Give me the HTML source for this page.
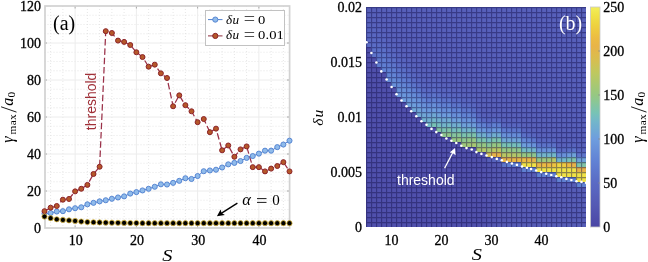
<!DOCTYPE html><html><head><meta charset="utf-8"><style>html,body{margin:0;padding:0;background:#fff;}svg{display:block;will-change:transform;} .serif{font-family:"Liberation Serif",serif;} .sans{font-family:"Liberation Sans",sans-serif;} .tk{font-size:14px;stroke:#000;stroke-width:0.3px;}</style></head><body><svg width="648" height="262" viewBox="0 0 648 262" xmlns="http://www.w3.org/2000/svg" class="serif"><line x1="50.62" y1="6.0" x2="50.62" y2="228.0" stroke="#e0e0e0" stroke-width="0.8" stroke-dasharray="1 2"/><line x1="62.88" y1="6.0" x2="62.88" y2="228.0" stroke="#e0e0e0" stroke-width="0.8" stroke-dasharray="1 2"/><line x1="87.38" y1="6.0" x2="87.38" y2="228.0" stroke="#e0e0e0" stroke-width="0.8" stroke-dasharray="1 2"/><line x1="99.62" y1="6.0" x2="99.62" y2="228.0" stroke="#e0e0e0" stroke-width="0.8" stroke-dasharray="1 2"/><line x1="111.88" y1="6.0" x2="111.88" y2="228.0" stroke="#e0e0e0" stroke-width="0.8" stroke-dasharray="1 2"/><line x1="124.12" y1="6.0" x2="124.12" y2="228.0" stroke="#e0e0e0" stroke-width="0.8" stroke-dasharray="1 2"/><line x1="148.62" y1="6.0" x2="148.62" y2="228.0" stroke="#e0e0e0" stroke-width="0.8" stroke-dasharray="1 2"/><line x1="160.88" y1="6.0" x2="160.88" y2="228.0" stroke="#e0e0e0" stroke-width="0.8" stroke-dasharray="1 2"/><line x1="173.12" y1="6.0" x2="173.12" y2="228.0" stroke="#e0e0e0" stroke-width="0.8" stroke-dasharray="1 2"/><line x1="185.38" y1="6.0" x2="185.38" y2="228.0" stroke="#e0e0e0" stroke-width="0.8" stroke-dasharray="1 2"/><line x1="209.88" y1="6.0" x2="209.88" y2="228.0" stroke="#e0e0e0" stroke-width="0.8" stroke-dasharray="1 2"/><line x1="222.12" y1="6.0" x2="222.12" y2="228.0" stroke="#e0e0e0" stroke-width="0.8" stroke-dasharray="1 2"/><line x1="234.38" y1="6.0" x2="234.38" y2="228.0" stroke="#e0e0e0" stroke-width="0.8" stroke-dasharray="1 2"/><line x1="246.62" y1="6.0" x2="246.62" y2="228.0" stroke="#e0e0e0" stroke-width="0.8" stroke-dasharray="1 2"/><line x1="271.12" y1="6.0" x2="271.12" y2="228.0" stroke="#e0e0e0" stroke-width="0.8" stroke-dasharray="1 2"/><line x1="283.38" y1="6.0" x2="283.38" y2="228.0" stroke="#e0e0e0" stroke-width="0.8" stroke-dasharray="1 2"/><line x1="44.5" y1="218.75" x2="289.5" y2="218.75" stroke="#e0e0e0" stroke-width="0.8" stroke-dasharray="1 2"/><line x1="44.5" y1="209.50" x2="289.5" y2="209.50" stroke="#e0e0e0" stroke-width="0.8" stroke-dasharray="1 2"/><line x1="44.5" y1="200.25" x2="289.5" y2="200.25" stroke="#e0e0e0" stroke-width="0.8" stroke-dasharray="1 2"/><line x1="44.5" y1="181.75" x2="289.5" y2="181.75" stroke="#e0e0e0" stroke-width="0.8" stroke-dasharray="1 2"/><line x1="44.5" y1="172.50" x2="289.5" y2="172.50" stroke="#e0e0e0" stroke-width="0.8" stroke-dasharray="1 2"/><line x1="44.5" y1="163.25" x2="289.5" y2="163.25" stroke="#e0e0e0" stroke-width="0.8" stroke-dasharray="1 2"/><line x1="44.5" y1="144.75" x2="289.5" y2="144.75" stroke="#e0e0e0" stroke-width="0.8" stroke-dasharray="1 2"/><line x1="44.5" y1="135.50" x2="289.5" y2="135.50" stroke="#e0e0e0" stroke-width="0.8" stroke-dasharray="1 2"/><line x1="44.5" y1="126.25" x2="289.5" y2="126.25" stroke="#e0e0e0" stroke-width="0.8" stroke-dasharray="1 2"/><line x1="44.5" y1="107.75" x2="289.5" y2="107.75" stroke="#e0e0e0" stroke-width="0.8" stroke-dasharray="1 2"/><line x1="44.5" y1="98.50" x2="289.5" y2="98.50" stroke="#e0e0e0" stroke-width="0.8" stroke-dasharray="1 2"/><line x1="44.5" y1="89.25" x2="289.5" y2="89.25" stroke="#e0e0e0" stroke-width="0.8" stroke-dasharray="1 2"/><line x1="44.5" y1="70.75" x2="289.5" y2="70.75" stroke="#e0e0e0" stroke-width="0.8" stroke-dasharray="1 2"/><line x1="44.5" y1="61.50" x2="289.5" y2="61.50" stroke="#e0e0e0" stroke-width="0.8" stroke-dasharray="1 2"/><line x1="44.5" y1="52.25" x2="289.5" y2="52.25" stroke="#e0e0e0" stroke-width="0.8" stroke-dasharray="1 2"/><line x1="44.5" y1="33.75" x2="289.5" y2="33.75" stroke="#e0e0e0" stroke-width="0.8" stroke-dasharray="1 2"/><line x1="44.5" y1="24.50" x2="289.5" y2="24.50" stroke="#e0e0e0" stroke-width="0.8" stroke-dasharray="1 2"/><line x1="44.5" y1="15.25" x2="289.5" y2="15.25" stroke="#e0e0e0" stroke-width="0.8" stroke-dasharray="1 2"/><line x1="75.12" y1="6.0" x2="75.12" y2="228.0" stroke="#ececec" stroke-width="1"/><line x1="136.38" y1="6.0" x2="136.38" y2="228.0" stroke="#ececec" stroke-width="1"/><line x1="197.62" y1="6.0" x2="197.62" y2="228.0" stroke="#ececec" stroke-width="1"/><line x1="258.88" y1="6.0" x2="258.88" y2="228.0" stroke="#ececec" stroke-width="1"/><line x1="44.5" y1="191.00" x2="289.5" y2="191.00" stroke="#ececec" stroke-width="1"/><line x1="44.5" y1="154.00" x2="289.5" y2="154.00" stroke="#ececec" stroke-width="1"/><line x1="44.5" y1="117.00" x2="289.5" y2="117.00" stroke="#ececec" stroke-width="1"/><line x1="44.5" y1="80.00" x2="289.5" y2="80.00" stroke="#ececec" stroke-width="1"/><line x1="44.5" y1="43.00" x2="289.5" y2="43.00" stroke="#ececec" stroke-width="1"/><line x1="75.12" y1="228.0" x2="75.12" y2="225.5" stroke="#a8a8a8" stroke-width="1"/><line x1="75.12" y1="6.0" x2="75.12" y2="8.5" stroke="#a8a8a8" stroke-width="1"/><line x1="136.38" y1="228.0" x2="136.38" y2="225.5" stroke="#a8a8a8" stroke-width="1"/><line x1="136.38" y1="6.0" x2="136.38" y2="8.5" stroke="#a8a8a8" stroke-width="1"/><line x1="197.62" y1="228.0" x2="197.62" y2="225.5" stroke="#a8a8a8" stroke-width="1"/><line x1="197.62" y1="6.0" x2="197.62" y2="8.5" stroke="#a8a8a8" stroke-width="1"/><line x1="258.88" y1="228.0" x2="258.88" y2="225.5" stroke="#a8a8a8" stroke-width="1"/><line x1="258.88" y1="6.0" x2="258.88" y2="8.5" stroke="#a8a8a8" stroke-width="1"/><line x1="44.5" y1="191.00" x2="47.0" y2="191.00" stroke="#a8a8a8" stroke-width="1"/><line x1="289.5" y1="191.00" x2="287.0" y2="191.00" stroke="#a8a8a8" stroke-width="1"/><line x1="44.5" y1="154.00" x2="47.0" y2="154.00" stroke="#a8a8a8" stroke-width="1"/><line x1="289.5" y1="154.00" x2="287.0" y2="154.00" stroke="#a8a8a8" stroke-width="1"/><line x1="44.5" y1="117.00" x2="47.0" y2="117.00" stroke="#a8a8a8" stroke-width="1"/><line x1="289.5" y1="117.00" x2="287.0" y2="117.00" stroke="#a8a8a8" stroke-width="1"/><line x1="44.5" y1="80.00" x2="47.0" y2="80.00" stroke="#a8a8a8" stroke-width="1"/><line x1="289.5" y1="80.00" x2="287.0" y2="80.00" stroke="#a8a8a8" stroke-width="1"/><line x1="44.5" y1="43.00" x2="47.0" y2="43.00" stroke="#a8a8a8" stroke-width="1"/><line x1="289.5" y1="43.00" x2="287.0" y2="43.00" stroke="#a8a8a8" stroke-width="1"/><rect x="45" y="6" width="244.6" height="222" fill="none" stroke="#d2d2d2" stroke-width="1.7"/><text x="40.9" y="232.85" class="tk" text-anchor="end">0</text><text x="40.9" y="195.85" class="tk" text-anchor="end">20</text><text x="40.9" y="158.85" class="tk" text-anchor="end">40</text><text x="40.9" y="121.85" class="tk" text-anchor="end">60</text><text x="40.9" y="84.85" class="tk" text-anchor="end">80</text><text x="40.9" y="47.85" class="tk" text-anchor="end">100</text><text x="40.9" y="10.85" class="tk" text-anchor="end">120</text><text x="75.72" y="244.9" class="tk" text-anchor="middle">10</text><text x="136.97" y="244.9" class="tk" text-anchor="middle">20</text><text x="198.22" y="244.9" class="tk" text-anchor="middle">30</text><text x="259.48" y="244.9" class="tk" text-anchor="middle">40</text><text transform="translate(167.4,260.8) scale(1.25,1)" font-size="16.3" font-style="italic" text-anchor="middle">S</text><polyline points="44.50,213.57 50.62,213.02 56.75,211.53 62.88,211.16 69.00,209.31 75.12,208.21 81.25,207.28 87.38,204.32 93.50,202.84 99.62,201.36 105.75,200.25 111.88,198.77 118.00,197.47 124.12,196.37 130.25,193.59 136.38,192.11 142.50,190.44 148.62,188.78 154.75,186.75 160.88,184.34 167.00,184.53 173.12,182.86 179.25,180.82 185.38,178.24 191.50,178.97 197.62,176.01 203.75,171.21 209.88,170.47 216.00,169.72 222.12,167.50 228.25,164.36 234.38,162.88 240.50,161.03 246.62,157.88 252.75,156.04 258.88,153.63 265.00,150.67 271.12,150.67 277.25,147.15 283.38,144.56 289.50,140.68" fill="none" stroke="#4f7fcf" stroke-width="1"/><polyline points="44.50,211.16 50.62,207.65 56.75,205.99 62.88,199.69 69.00,198.96 75.12,191.37 81.25,188.78 87.38,184.89 93.50,173.98 99.62,166.76 105.75,31.16 111.88,33.01 118.00,40.59 124.12,41.89 130.25,45.03 136.38,52.25 142.50,57.06 148.62,66.68 154.75,64.65 160.88,73.34 167.00,77.97 173.12,106.27 179.25,95.35 185.38,105.16 191.50,111.27 197.62,122.18 203.75,119.04 209.88,132.17 216.00,128.65 222.12,150.30 228.25,145.49 234.38,156.78 240.50,149.38 246.62,146.41 252.75,167.13 258.88,167.13 265.00,171.39 271.12,168.62 277.25,166.03 283.38,162.14 289.50,171.39" fill="none" stroke="#9a3048" stroke-width="1.25" stroke-dasharray="6.5 2.8"/><circle cx="44.50" cy="213.57" r="2.55" fill="#90bbea" stroke="#4f7fcf" stroke-width="0.9"/><circle cx="50.62" cy="213.02" r="2.55" fill="#90bbea" stroke="#4f7fcf" stroke-width="0.9"/><circle cx="56.75" cy="211.53" r="2.55" fill="#90bbea" stroke="#4f7fcf" stroke-width="0.9"/><circle cx="62.88" cy="211.16" r="2.55" fill="#90bbea" stroke="#4f7fcf" stroke-width="0.9"/><circle cx="69.00" cy="209.31" r="2.55" fill="#90bbea" stroke="#4f7fcf" stroke-width="0.9"/><circle cx="75.12" cy="208.21" r="2.55" fill="#90bbea" stroke="#4f7fcf" stroke-width="0.9"/><circle cx="81.25" cy="207.28" r="2.55" fill="#90bbea" stroke="#4f7fcf" stroke-width="0.9"/><circle cx="87.38" cy="204.32" r="2.55" fill="#90bbea" stroke="#4f7fcf" stroke-width="0.9"/><circle cx="93.50" cy="202.84" r="2.55" fill="#90bbea" stroke="#4f7fcf" stroke-width="0.9"/><circle cx="99.62" cy="201.36" r="2.55" fill="#90bbea" stroke="#4f7fcf" stroke-width="0.9"/><circle cx="105.75" cy="200.25" r="2.55" fill="#90bbea" stroke="#4f7fcf" stroke-width="0.9"/><circle cx="111.88" cy="198.77" r="2.55" fill="#90bbea" stroke="#4f7fcf" stroke-width="0.9"/><circle cx="118.00" cy="197.47" r="2.55" fill="#90bbea" stroke="#4f7fcf" stroke-width="0.9"/><circle cx="124.12" cy="196.37" r="2.55" fill="#90bbea" stroke="#4f7fcf" stroke-width="0.9"/><circle cx="130.25" cy="193.59" r="2.55" fill="#90bbea" stroke="#4f7fcf" stroke-width="0.9"/><circle cx="136.38" cy="192.11" r="2.55" fill="#90bbea" stroke="#4f7fcf" stroke-width="0.9"/><circle cx="142.50" cy="190.44" r="2.55" fill="#90bbea" stroke="#4f7fcf" stroke-width="0.9"/><circle cx="148.62" cy="188.78" r="2.55" fill="#90bbea" stroke="#4f7fcf" stroke-width="0.9"/><circle cx="154.75" cy="186.75" r="2.55" fill="#90bbea" stroke="#4f7fcf" stroke-width="0.9"/><circle cx="160.88" cy="184.34" r="2.55" fill="#90bbea" stroke="#4f7fcf" stroke-width="0.9"/><circle cx="167.00" cy="184.53" r="2.55" fill="#90bbea" stroke="#4f7fcf" stroke-width="0.9"/><circle cx="173.12" cy="182.86" r="2.55" fill="#90bbea" stroke="#4f7fcf" stroke-width="0.9"/><circle cx="179.25" cy="180.82" r="2.55" fill="#90bbea" stroke="#4f7fcf" stroke-width="0.9"/><circle cx="185.38" cy="178.24" r="2.55" fill="#90bbea" stroke="#4f7fcf" stroke-width="0.9"/><circle cx="191.50" cy="178.97" r="2.55" fill="#90bbea" stroke="#4f7fcf" stroke-width="0.9"/><circle cx="197.62" cy="176.01" r="2.55" fill="#90bbea" stroke="#4f7fcf" stroke-width="0.9"/><circle cx="203.75" cy="171.21" r="2.55" fill="#90bbea" stroke="#4f7fcf" stroke-width="0.9"/><circle cx="209.88" cy="170.47" r="2.55" fill="#90bbea" stroke="#4f7fcf" stroke-width="0.9"/><circle cx="216.00" cy="169.72" r="2.55" fill="#90bbea" stroke="#4f7fcf" stroke-width="0.9"/><circle cx="222.12" cy="167.50" r="2.55" fill="#90bbea" stroke="#4f7fcf" stroke-width="0.9"/><circle cx="228.25" cy="164.36" r="2.55" fill="#90bbea" stroke="#4f7fcf" stroke-width="0.9"/><circle cx="234.38" cy="162.88" r="2.55" fill="#90bbea" stroke="#4f7fcf" stroke-width="0.9"/><circle cx="240.50" cy="161.03" r="2.55" fill="#90bbea" stroke="#4f7fcf" stroke-width="0.9"/><circle cx="246.62" cy="157.88" r="2.55" fill="#90bbea" stroke="#4f7fcf" stroke-width="0.9"/><circle cx="252.75" cy="156.04" r="2.55" fill="#90bbea" stroke="#4f7fcf" stroke-width="0.9"/><circle cx="258.88" cy="153.63" r="2.55" fill="#90bbea" stroke="#4f7fcf" stroke-width="0.9"/><circle cx="265.00" cy="150.67" r="2.55" fill="#90bbea" stroke="#4f7fcf" stroke-width="0.9"/><circle cx="271.12" cy="150.67" r="2.55" fill="#90bbea" stroke="#4f7fcf" stroke-width="0.9"/><circle cx="277.25" cy="147.15" r="2.55" fill="#90bbea" stroke="#4f7fcf" stroke-width="0.9"/><circle cx="283.38" cy="144.56" r="2.55" fill="#90bbea" stroke="#4f7fcf" stroke-width="0.9"/><circle cx="289.50" cy="140.68" r="2.55" fill="#90bbea" stroke="#4f7fcf" stroke-width="0.9"/><circle cx="44.50" cy="211.16" r="2.5" fill="#b5582a" stroke="#8b2228" stroke-width="1"/><circle cx="50.62" cy="207.65" r="2.5" fill="#b5582a" stroke="#8b2228" stroke-width="1"/><circle cx="56.75" cy="205.99" r="2.5" fill="#b5582a" stroke="#8b2228" stroke-width="1"/><circle cx="62.88" cy="199.69" r="2.5" fill="#b5582a" stroke="#8b2228" stroke-width="1"/><circle cx="69.00" cy="198.96" r="2.5" fill="#b5582a" stroke="#8b2228" stroke-width="1"/><circle cx="75.12" cy="191.37" r="2.5" fill="#b5582a" stroke="#8b2228" stroke-width="1"/><circle cx="81.25" cy="188.78" r="2.5" fill="#b5582a" stroke="#8b2228" stroke-width="1"/><circle cx="87.38" cy="184.89" r="2.5" fill="#b5582a" stroke="#8b2228" stroke-width="1"/><circle cx="93.50" cy="173.98" r="2.5" fill="#b5582a" stroke="#8b2228" stroke-width="1"/><circle cx="99.62" cy="166.76" r="2.5" fill="#b5582a" stroke="#8b2228" stroke-width="1"/><circle cx="105.75" cy="31.16" r="2.5" fill="#b5582a" stroke="#8b2228" stroke-width="1"/><circle cx="111.88" cy="33.01" r="2.5" fill="#b5582a" stroke="#8b2228" stroke-width="1"/><circle cx="118.00" cy="40.59" r="2.5" fill="#b5582a" stroke="#8b2228" stroke-width="1"/><circle cx="124.12" cy="41.89" r="2.5" fill="#b5582a" stroke="#8b2228" stroke-width="1"/><circle cx="130.25" cy="45.03" r="2.5" fill="#b5582a" stroke="#8b2228" stroke-width="1"/><circle cx="136.38" cy="52.25" r="2.5" fill="#b5582a" stroke="#8b2228" stroke-width="1"/><circle cx="142.50" cy="57.06" r="2.5" fill="#b5582a" stroke="#8b2228" stroke-width="1"/><circle cx="148.62" cy="66.68" r="2.5" fill="#b5582a" stroke="#8b2228" stroke-width="1"/><circle cx="154.75" cy="64.65" r="2.5" fill="#b5582a" stroke="#8b2228" stroke-width="1"/><circle cx="160.88" cy="73.34" r="2.5" fill="#b5582a" stroke="#8b2228" stroke-width="1"/><circle cx="167.00" cy="77.97" r="2.5" fill="#b5582a" stroke="#8b2228" stroke-width="1"/><circle cx="173.12" cy="106.27" r="2.5" fill="#b5582a" stroke="#8b2228" stroke-width="1"/><circle cx="179.25" cy="95.35" r="2.5" fill="#b5582a" stroke="#8b2228" stroke-width="1"/><circle cx="185.38" cy="105.16" r="2.5" fill="#b5582a" stroke="#8b2228" stroke-width="1"/><circle cx="191.50" cy="111.27" r="2.5" fill="#b5582a" stroke="#8b2228" stroke-width="1"/><circle cx="197.62" cy="122.18" r="2.5" fill="#b5582a" stroke="#8b2228" stroke-width="1"/><circle cx="203.75" cy="119.04" r="2.5" fill="#b5582a" stroke="#8b2228" stroke-width="1"/><circle cx="209.88" cy="132.17" r="2.5" fill="#b5582a" stroke="#8b2228" stroke-width="1"/><circle cx="216.00" cy="128.65" r="2.5" fill="#b5582a" stroke="#8b2228" stroke-width="1"/><circle cx="222.12" cy="150.30" r="2.5" fill="#b5582a" stroke="#8b2228" stroke-width="1"/><circle cx="228.25" cy="145.49" r="2.5" fill="#b5582a" stroke="#8b2228" stroke-width="1"/><circle cx="234.38" cy="156.78" r="2.5" fill="#b5582a" stroke="#8b2228" stroke-width="1"/><circle cx="240.50" cy="149.38" r="2.5" fill="#b5582a" stroke="#8b2228" stroke-width="1"/><circle cx="246.62" cy="146.41" r="2.5" fill="#b5582a" stroke="#8b2228" stroke-width="1"/><circle cx="252.75" cy="167.13" r="2.5" fill="#b5582a" stroke="#8b2228" stroke-width="1"/><circle cx="258.88" cy="167.13" r="2.5" fill="#b5582a" stroke="#8b2228" stroke-width="1"/><circle cx="265.00" cy="171.39" r="2.5" fill="#b5582a" stroke="#8b2228" stroke-width="1"/><circle cx="271.12" cy="168.62" r="2.5" fill="#b5582a" stroke="#8b2228" stroke-width="1"/><circle cx="277.25" cy="166.03" r="2.5" fill="#b5582a" stroke="#8b2228" stroke-width="1"/><circle cx="283.38" cy="162.14" r="2.5" fill="#b5582a" stroke="#8b2228" stroke-width="1"/><circle cx="289.50" cy="171.39" r="2.5" fill="#b5582a" stroke="#8b2228" stroke-width="1"/><circle cx="44.50" cy="216.53" r="2.6" fill="#000" stroke="#e6c040" stroke-width="0.75"/><circle cx="50.62" cy="218.19" r="2.6" fill="#000" stroke="#e6c040" stroke-width="0.75"/><circle cx="56.75" cy="219.31" r="2.6" fill="#000" stroke="#e6c040" stroke-width="0.75"/><circle cx="62.88" cy="219.95" r="2.6" fill="#000" stroke="#e6c040" stroke-width="0.75"/><circle cx="69.00" cy="220.41" r="2.6" fill="#000" stroke="#e6c040" stroke-width="0.75"/><circle cx="75.12" cy="220.97" r="2.6" fill="#000" stroke="#e6c040" stroke-width="0.75"/><circle cx="81.25" cy="221.53" r="2.6" fill="#000" stroke="#e6c040" stroke-width="0.75"/><circle cx="87.38" cy="222.08" r="2.6" fill="#000" stroke="#e6c040" stroke-width="0.75"/><circle cx="93.50" cy="222.26" r="2.6" fill="#000" stroke="#e6c040" stroke-width="0.75"/><circle cx="99.62" cy="222.45" r="2.6" fill="#000" stroke="#e6c040" stroke-width="0.75"/><circle cx="105.75" cy="222.63" r="2.6" fill="#000" stroke="#e6c040" stroke-width="0.75"/><circle cx="111.88" cy="222.73" r="2.6" fill="#000" stroke="#e6c040" stroke-width="0.75"/><circle cx="118.00" cy="222.82" r="2.6" fill="#000" stroke="#e6c040" stroke-width="0.75"/><circle cx="124.12" cy="222.91" r="2.6" fill="#000" stroke="#e6c040" stroke-width="0.75"/><circle cx="130.25" cy="223.00" r="2.6" fill="#000" stroke="#e6c040" stroke-width="0.75"/><circle cx="136.38" cy="223.00" r="2.6" fill="#000" stroke="#e6c040" stroke-width="0.75"/><circle cx="142.50" cy="223.19" r="2.6" fill="#000" stroke="#e6c040" stroke-width="0.75"/><circle cx="148.62" cy="223.19" r="2.6" fill="#000" stroke="#e6c040" stroke-width="0.75"/><circle cx="154.75" cy="223.19" r="2.6" fill="#000" stroke="#e6c040" stroke-width="0.75"/><circle cx="160.88" cy="223.19" r="2.6" fill="#000" stroke="#e6c040" stroke-width="0.75"/><circle cx="167.00" cy="223.19" r="2.6" fill="#000" stroke="#e6c040" stroke-width="0.75"/><circle cx="173.12" cy="223.19" r="2.6" fill="#000" stroke="#e6c040" stroke-width="0.75"/><circle cx="179.25" cy="223.19" r="2.6" fill="#000" stroke="#e6c040" stroke-width="0.75"/><circle cx="185.38" cy="223.19" r="2.6" fill="#000" stroke="#e6c040" stroke-width="0.75"/><circle cx="191.50" cy="223.19" r="2.6" fill="#000" stroke="#e6c040" stroke-width="0.75"/><circle cx="197.62" cy="223.19" r="2.6" fill="#000" stroke="#e6c040" stroke-width="0.75"/><circle cx="203.75" cy="223.19" r="2.6" fill="#000" stroke="#e6c040" stroke-width="0.75"/><circle cx="209.88" cy="223.19" r="2.6" fill="#000" stroke="#e6c040" stroke-width="0.75"/><circle cx="216.00" cy="223.19" r="2.6" fill="#000" stroke="#e6c040" stroke-width="0.75"/><circle cx="222.12" cy="223.19" r="2.6" fill="#000" stroke="#e6c040" stroke-width="0.75"/><circle cx="228.25" cy="223.19" r="2.6" fill="#000" stroke="#e6c040" stroke-width="0.75"/><circle cx="234.38" cy="223.19" r="2.6" fill="#000" stroke="#e6c040" stroke-width="0.75"/><circle cx="240.50" cy="223.19" r="2.6" fill="#000" stroke="#e6c040" stroke-width="0.75"/><circle cx="246.62" cy="223.19" r="2.6" fill="#000" stroke="#e6c040" stroke-width="0.75"/><circle cx="252.75" cy="223.19" r="2.6" fill="#000" stroke="#e6c040" stroke-width="0.75"/><circle cx="258.88" cy="223.19" r="2.6" fill="#000" stroke="#e6c040" stroke-width="0.75"/><circle cx="265.00" cy="223.19" r="2.6" fill="#000" stroke="#e6c040" stroke-width="0.75"/><circle cx="271.12" cy="223.19" r="2.6" fill="#000" stroke="#e6c040" stroke-width="0.75"/><circle cx="277.25" cy="223.19" r="2.6" fill="#000" stroke="#e6c040" stroke-width="0.75"/><circle cx="283.38" cy="223.19" r="2.6" fill="#000" stroke="#e6c040" stroke-width="0.75"/><circle cx="289.50" cy="223.19" r="2.6" fill="#000" stroke="#e6c040" stroke-width="0.75"/><text transform="translate(95.8,130.2) rotate(-90)" class="sans" font-size="14" fill="#a03038">threshold</text><text x="53" y="30.4" font-size="20">(a)</text><rect x="205.5" y="10.5" width="79" height="35" fill="#fff" stroke="#c2c2c2" stroke-width="1"/><line x1="208" y1="19.6" x2="222.5" y2="19.6" stroke="#4f7fcf" stroke-width="1"/><circle cx="215.3" cy="19.6" r="2.6" fill="#90bbea" stroke="#4f7fcf" stroke-width="0.9"/><line x1="208" y1="35.9" x2="222.5" y2="35.9" stroke="#8e2a3c" stroke-width="1"/><circle cx="215.3" cy="35.9" r="2.6" fill="#b5582a" stroke="#8b2228" stroke-width="1"/><text x="225.9" y="23.5" font-size="13.2" font-style="italic" letter-spacing="0.6">δu</text><line x1="244.7" y1="16.5" x2="254.1" y2="16.5" stroke="#222" stroke-width="0.8"/><line x1="244.7" y1="20.5" x2="254.1" y2="20.5" stroke="#222" stroke-width="0.8"/><text x="225.9" y="39.2" font-size="13.2" font-style="italic" letter-spacing="0.6">δu</text><line x1="244.7" y1="32.5" x2="254.1" y2="32.5" stroke="#222" stroke-width="0.8"/><line x1="244.7" y1="36.5" x2="254.1" y2="36.5" stroke="#222" stroke-width="0.8"/><text transform="translate(258.0,23.5) scale(1.17,1)" font-size="12.5">0</text><text transform="translate(258.0,39.2) scale(1.17,1)" font-size="12.5" letter-spacing="0.1">0.01</text><line x1="237.4" y1="203.1" x2="220.8" y2="213.6" stroke="#000" stroke-width="1.4"/><path d="M216.9,216.2 L220.6,209.6 L221.6,212.9 L224.9,215.1 Z" fill="#000"/><text x="242.3" y="204.6" font-size="16.5" font-style="italic">α</text><line x1="257" y1="198.6" x2="266.5" y2="198.6" stroke="#000" stroke-width="0.9"/><line x1="257" y1="202.4" x2="266.5" y2="202.4" stroke="#000" stroke-width="0.9"/><text x="272.3" y="204.7" font-size="15">0</text><g transform="translate(13.4,143) rotate(-90)"><text x="0.3" y="0" font-size="16" font-style="italic">γ</text><text x="8.6" y="2.7" font-size="11.3" letter-spacing="0.25">max</text><line x1="30.9" y1="3.1" x2="36.2" y2="-12.3" stroke="#000" stroke-width="0.9"/><text x="37.2" y="0" font-size="16" font-style="italic">a</text><text x="45.6" y="1.6" font-size="11.3">0</text></g><g shape-rendering="crispEdges"><rect x="366.00" y="7.00" width="5.00" height="5.00" fill="#5760ba"/><rect x="371.00" y="7.00" width="5.00" height="5.00" fill="#5760ba"/><rect x="376.00" y="7.00" width="5.00" height="5.00" fill="#5760ba"/><rect x="381.00" y="7.00" width="5.00" height="5.00" fill="#5760ba"/><rect x="386.00" y="7.00" width="5.00" height="5.00" fill="#5760ba"/><rect x="391.00" y="7.00" width="5.00" height="5.00" fill="#5760ba"/><rect x="396.00" y="7.00" width="5.00" height="5.00" fill="#5760ba"/><rect x="401.00" y="7.00" width="5.00" height="5.00" fill="#5760ba"/><rect x="406.00" y="7.00" width="5.00" height="5.00" fill="#5760ba"/><rect x="411.00" y="7.00" width="5.00" height="5.00" fill="#5760ba"/><rect x="416.00" y="7.00" width="5.00" height="5.00" fill="#5760ba"/><rect x="421.00" y="7.00" width="5.00" height="5.00" fill="#5760ba"/><rect x="426.00" y="7.00" width="5.00" height="5.00" fill="#5760ba"/><rect x="431.00" y="7.00" width="5.00" height="5.00" fill="#5760ba"/><rect x="436.00" y="7.00" width="5.00" height="5.00" fill="#5760ba"/><rect x="441.00" y="7.00" width="5.00" height="5.00" fill="#5760ba"/><rect x="446.00" y="7.00" width="5.00" height="5.00" fill="#5760ba"/><rect x="451.00" y="7.00" width="5.00" height="5.00" fill="#5760ba"/><rect x="456.00" y="7.00" width="5.00" height="5.00" fill="#5760ba"/><rect x="461.00" y="7.00" width="5.00" height="5.00" fill="#5760ba"/><rect x="466.00" y="7.00" width="5.00" height="5.00" fill="#5760ba"/><rect x="471.00" y="7.00" width="5.00" height="5.00" fill="#5760ba"/><rect x="476.00" y="7.00" width="5.00" height="5.00" fill="#5760ba"/><rect x="481.00" y="7.00" width="5.00" height="5.00" fill="#5760ba"/><rect x="486.00" y="7.00" width="5.00" height="5.00" fill="#5760ba"/><rect x="491.00" y="7.00" width="5.00" height="5.00" fill="#5760ba"/><rect x="496.00" y="7.00" width="5.00" height="5.00" fill="#5760ba"/><rect x="501.00" y="7.00" width="5.00" height="5.00" fill="#5760ba"/><rect x="506.00" y="7.00" width="5.00" height="5.00" fill="#5760ba"/><rect x="511.00" y="7.00" width="5.00" height="5.00" fill="#5760ba"/><rect x="516.00" y="7.00" width="5.00" height="5.00" fill="#5760ba"/><rect x="521.00" y="7.00" width="5.00" height="5.00" fill="#5760ba"/><rect x="526.00" y="7.00" width="5.00" height="5.00" fill="#5760ba"/><rect x="531.00" y="7.00" width="5.00" height="5.00" fill="#5760ba"/><rect x="536.00" y="7.00" width="5.00" height="5.00" fill="#5760ba"/><rect x="541.00" y="7.00" width="5.00" height="5.00" fill="#5760ba"/><rect x="546.00" y="7.00" width="5.00" height="5.00" fill="#5760ba"/><rect x="551.00" y="7.00" width="5.00" height="5.00" fill="#5760ba"/><rect x="556.00" y="7.00" width="5.00" height="5.00" fill="#5760ba"/><rect x="561.00" y="7.00" width="5.00" height="5.00" fill="#5760ba"/><rect x="566.00" y="7.00" width="5.00" height="5.00" fill="#5760ba"/><rect x="571.00" y="7.00" width="5.00" height="5.00" fill="#5760ba"/><rect x="576.00" y="7.00" width="5.00" height="5.00" fill="#5760ba"/><rect x="581.00" y="7.00" width="5.00" height="5.00" fill="#5760ba"/><rect x="366.00" y="12.00" width="5.00" height="5.00" fill="#5761bb"/><rect x="371.00" y="12.00" width="5.00" height="5.00" fill="#5761bb"/><rect x="376.00" y="12.00" width="5.00" height="5.00" fill="#5760ba"/><rect x="381.00" y="12.00" width="5.00" height="5.00" fill="#5760ba"/><rect x="386.00" y="12.00" width="5.00" height="5.00" fill="#5760ba"/><rect x="391.00" y="12.00" width="5.00" height="5.00" fill="#5760ba"/><rect x="396.00" y="12.00" width="5.00" height="5.00" fill="#5760ba"/><rect x="401.00" y="12.00" width="5.00" height="5.00" fill="#5760ba"/><rect x="406.00" y="12.00" width="5.00" height="5.00" fill="#5760ba"/><rect x="411.00" y="12.00" width="5.00" height="5.00" fill="#5760ba"/><rect x="416.00" y="12.00" width="5.00" height="5.00" fill="#5760ba"/><rect x="421.00" y="12.00" width="5.00" height="5.00" fill="#5760ba"/><rect x="426.00" y="12.00" width="5.00" height="5.00" fill="#5760ba"/><rect x="431.00" y="12.00" width="5.00" height="5.00" fill="#5760ba"/><rect x="436.00" y="12.00" width="5.00" height="5.00" fill="#5760ba"/><rect x="441.00" y="12.00" width="5.00" height="5.00" fill="#5760ba"/><rect x="446.00" y="12.00" width="5.00" height="5.00" fill="#5760ba"/><rect x="451.00" y="12.00" width="5.00" height="5.00" fill="#5760ba"/><rect x="456.00" y="12.00" width="5.00" height="5.00" fill="#5760ba"/><rect x="461.00" y="12.00" width="5.00" height="5.00" fill="#5760ba"/><rect x="466.00" y="12.00" width="5.00" height="5.00" fill="#5760ba"/><rect x="471.00" y="12.00" width="5.00" height="5.00" fill="#5760ba"/><rect x="476.00" y="12.00" width="5.00" height="5.00" fill="#5760ba"/><rect x="481.00" y="12.00" width="5.00" height="5.00" fill="#5760ba"/><rect x="486.00" y="12.00" width="5.00" height="5.00" fill="#5760ba"/><rect x="491.00" y="12.00" width="5.00" height="5.00" fill="#5760ba"/><rect x="496.00" y="12.00" width="5.00" height="5.00" fill="#5760ba"/><rect x="501.00" y="12.00" width="5.00" height="5.00" fill="#5760ba"/><rect x="506.00" y="12.00" width="5.00" height="5.00" fill="#5760ba"/><rect x="511.00" y="12.00" width="5.00" height="5.00" fill="#5760ba"/><rect x="516.00" y="12.00" width="5.00" height="5.00" fill="#5760ba"/><rect x="521.00" y="12.00" width="5.00" height="5.00" fill="#5760ba"/><rect x="526.00" y="12.00" width="5.00" height="5.00" fill="#5760ba"/><rect x="531.00" y="12.00" width="5.00" height="5.00" fill="#5760ba"/><rect x="536.00" y="12.00" width="5.00" height="5.00" fill="#5760ba"/><rect x="541.00" y="12.00" width="5.00" height="5.00" fill="#5760ba"/><rect x="546.00" y="12.00" width="5.00" height="5.00" fill="#5760ba"/><rect x="551.00" y="12.00" width="5.00" height="5.00" fill="#5760ba"/><rect x="556.00" y="12.00" width="5.00" height="5.00" fill="#5760ba"/><rect x="561.00" y="12.00" width="5.00" height="5.00" fill="#5760ba"/><rect x="566.00" y="12.00" width="5.00" height="5.00" fill="#5760ba"/><rect x="571.00" y="12.00" width="5.00" height="5.00" fill="#5760ba"/><rect x="576.00" y="12.00" width="5.00" height="5.00" fill="#5760ba"/><rect x="581.00" y="12.00" width="5.00" height="5.00" fill="#5760ba"/><rect x="366.00" y="17.00" width="5.00" height="5.00" fill="#5862bc"/><rect x="371.00" y="17.00" width="5.00" height="5.00" fill="#5761bb"/><rect x="376.00" y="17.00" width="5.00" height="5.00" fill="#5760ba"/><rect x="381.00" y="17.00" width="5.00" height="5.00" fill="#5760ba"/><rect x="386.00" y="17.00" width="5.00" height="5.00" fill="#5760ba"/><rect x="391.00" y="17.00" width="5.00" height="5.00" fill="#5760ba"/><rect x="396.00" y="17.00" width="5.00" height="5.00" fill="#5760ba"/><rect x="401.00" y="17.00" width="5.00" height="5.00" fill="#5760ba"/><rect x="406.00" y="17.00" width="5.00" height="5.00" fill="#5760ba"/><rect x="411.00" y="17.00" width="5.00" height="5.00" fill="#5760ba"/><rect x="416.00" y="17.00" width="5.00" height="5.00" fill="#5760ba"/><rect x="421.00" y="17.00" width="5.00" height="5.00" fill="#5760ba"/><rect x="426.00" y="17.00" width="5.00" height="5.00" fill="#5760ba"/><rect x="431.00" y="17.00" width="5.00" height="5.00" fill="#5760ba"/><rect x="436.00" y="17.00" width="5.00" height="5.00" fill="#5760ba"/><rect x="441.00" y="17.00" width="5.00" height="5.00" fill="#5760ba"/><rect x="446.00" y="17.00" width="5.00" height="5.00" fill="#5760ba"/><rect x="451.00" y="17.00" width="5.00" height="5.00" fill="#5760ba"/><rect x="456.00" y="17.00" width="5.00" height="5.00" fill="#5760ba"/><rect x="461.00" y="17.00" width="5.00" height="5.00" fill="#5760ba"/><rect x="466.00" y="17.00" width="5.00" height="5.00" fill="#5760ba"/><rect x="471.00" y="17.00" width="5.00" height="5.00" fill="#5760ba"/><rect x="476.00" y="17.00" width="5.00" height="5.00" fill="#5760ba"/><rect x="481.00" y="17.00" width="5.00" height="5.00" fill="#5760ba"/><rect x="486.00" y="17.00" width="5.00" height="5.00" fill="#5760ba"/><rect x="491.00" y="17.00" width="5.00" height="5.00" fill="#5760ba"/><rect x="496.00" y="17.00" width="5.00" height="5.00" fill="#5760ba"/><rect x="501.00" y="17.00" width="5.00" height="5.00" fill="#5760ba"/><rect x="506.00" y="17.00" width="5.00" height="5.00" fill="#5760ba"/><rect x="511.00" y="17.00" width="5.00" height="5.00" fill="#5760ba"/><rect x="516.00" y="17.00" width="5.00" height="5.00" fill="#5760ba"/><rect x="521.00" y="17.00" width="5.00" height="5.00" fill="#5760ba"/><rect x="526.00" y="17.00" width="5.00" height="5.00" fill="#5760ba"/><rect x="531.00" y="17.00" width="5.00" height="5.00" fill="#5760ba"/><rect x="536.00" y="17.00" width="5.00" height="5.00" fill="#5760ba"/><rect x="541.00" y="17.00" width="5.00" height="5.00" fill="#5760ba"/><rect x="546.00" y="17.00" width="5.00" height="5.00" fill="#5760ba"/><rect x="551.00" y="17.00" width="5.00" height="5.00" fill="#5760ba"/><rect x="556.00" y="17.00" width="5.00" height="5.00" fill="#5760ba"/><rect x="561.00" y="17.00" width="5.00" height="5.00" fill="#5760ba"/><rect x="566.00" y="17.00" width="5.00" height="5.00" fill="#5760ba"/><rect x="571.00" y="17.00" width="5.00" height="5.00" fill="#5760ba"/><rect x="576.00" y="17.00" width="5.00" height="5.00" fill="#5760ba"/><rect x="581.00" y="17.00" width="5.00" height="5.00" fill="#5760ba"/><rect x="366.00" y="22.00" width="5.00" height="5.00" fill="#5864be"/><rect x="371.00" y="22.00" width="5.00" height="5.00" fill="#5863bd"/><rect x="376.00" y="22.00" width="5.00" height="5.00" fill="#5761bb"/><rect x="381.00" y="22.00" width="5.00" height="5.00" fill="#5760ba"/><rect x="386.00" y="22.00" width="5.00" height="5.00" fill="#5760ba"/><rect x="391.00" y="22.00" width="5.00" height="5.00" fill="#5760ba"/><rect x="396.00" y="22.00" width="5.00" height="5.00" fill="#5760ba"/><rect x="401.00" y="22.00" width="5.00" height="5.00" fill="#5760ba"/><rect x="406.00" y="22.00" width="5.00" height="5.00" fill="#5760ba"/><rect x="411.00" y="22.00" width="5.00" height="5.00" fill="#5760ba"/><rect x="416.00" y="22.00" width="5.00" height="5.00" fill="#5760ba"/><rect x="421.00" y="22.00" width="5.00" height="5.00" fill="#5760ba"/><rect x="426.00" y="22.00" width="5.00" height="5.00" fill="#5760ba"/><rect x="431.00" y="22.00" width="5.00" height="5.00" fill="#5760ba"/><rect x="436.00" y="22.00" width="5.00" height="5.00" fill="#5760ba"/><rect x="441.00" y="22.00" width="5.00" height="5.00" fill="#5760ba"/><rect x="446.00" y="22.00" width="5.00" height="5.00" fill="#5760ba"/><rect x="451.00" y="22.00" width="5.00" height="5.00" fill="#5760ba"/><rect x="456.00" y="22.00" width="5.00" height="5.00" fill="#5760ba"/><rect x="461.00" y="22.00" width="5.00" height="5.00" fill="#5760ba"/><rect x="466.00" y="22.00" width="5.00" height="5.00" fill="#5760ba"/><rect x="471.00" y="22.00" width="5.00" height="5.00" fill="#5760ba"/><rect x="476.00" y="22.00" width="5.00" height="5.00" fill="#5760ba"/><rect x="481.00" y="22.00" width="5.00" height="5.00" fill="#5760ba"/><rect x="486.00" y="22.00" width="5.00" height="5.00" fill="#5760ba"/><rect x="491.00" y="22.00" width="5.00" height="5.00" fill="#5760ba"/><rect x="496.00" y="22.00" width="5.00" height="5.00" fill="#5760ba"/><rect x="501.00" y="22.00" width="5.00" height="5.00" fill="#5760ba"/><rect x="506.00" y="22.00" width="5.00" height="5.00" fill="#5760ba"/><rect x="511.00" y="22.00" width="5.00" height="5.00" fill="#5760ba"/><rect x="516.00" y="22.00" width="5.00" height="5.00" fill="#5760ba"/><rect x="521.00" y="22.00" width="5.00" height="5.00" fill="#5760ba"/><rect x="526.00" y="22.00" width="5.00" height="5.00" fill="#5760ba"/><rect x="531.00" y="22.00" width="5.00" height="5.00" fill="#5760ba"/><rect x="536.00" y="22.00" width="5.00" height="5.00" fill="#5760ba"/><rect x="541.00" y="22.00" width="5.00" height="5.00" fill="#5760ba"/><rect x="546.00" y="22.00" width="5.00" height="5.00" fill="#5760ba"/><rect x="551.00" y="22.00" width="5.00" height="5.00" fill="#5760ba"/><rect x="556.00" y="22.00" width="5.00" height="5.00" fill="#5760ba"/><rect x="561.00" y="22.00" width="5.00" height="5.00" fill="#5760ba"/><rect x="566.00" y="22.00" width="5.00" height="5.00" fill="#5760ba"/><rect x="571.00" y="22.00" width="5.00" height="5.00" fill="#5760ba"/><rect x="576.00" y="22.00" width="5.00" height="5.00" fill="#5760ba"/><rect x="581.00" y="22.00" width="5.00" height="5.00" fill="#5760ba"/><rect x="366.00" y="27.00" width="5.00" height="5.00" fill="#5865bf"/><rect x="371.00" y="27.00" width="5.00" height="5.00" fill="#5865bf"/><rect x="376.00" y="27.00" width="5.00" height="5.00" fill="#5863bd"/><rect x="381.00" y="27.00" width="5.00" height="5.00" fill="#5761bb"/><rect x="386.00" y="27.00" width="5.00" height="5.00" fill="#5760ba"/><rect x="391.00" y="27.00" width="5.00" height="5.00" fill="#5760ba"/><rect x="396.00" y="27.00" width="5.00" height="5.00" fill="#5760ba"/><rect x="401.00" y="27.00" width="5.00" height="5.00" fill="#5760ba"/><rect x="406.00" y="27.00" width="5.00" height="5.00" fill="#5760ba"/><rect x="411.00" y="27.00" width="5.00" height="5.00" fill="#5760ba"/><rect x="416.00" y="27.00" width="5.00" height="5.00" fill="#5760ba"/><rect x="421.00" y="27.00" width="5.00" height="5.00" fill="#5760ba"/><rect x="426.00" y="27.00" width="5.00" height="5.00" fill="#5760ba"/><rect x="431.00" y="27.00" width="5.00" height="5.00" fill="#5760ba"/><rect x="436.00" y="27.00" width="5.00" height="5.00" fill="#5760ba"/><rect x="441.00" y="27.00" width="5.00" height="5.00" fill="#5760ba"/><rect x="446.00" y="27.00" width="5.00" height="5.00" fill="#5760ba"/><rect x="451.00" y="27.00" width="5.00" height="5.00" fill="#5760ba"/><rect x="456.00" y="27.00" width="5.00" height="5.00" fill="#5760ba"/><rect x="461.00" y="27.00" width="5.00" height="5.00" fill="#5760ba"/><rect x="466.00" y="27.00" width="5.00" height="5.00" fill="#5760ba"/><rect x="471.00" y="27.00" width="5.00" height="5.00" fill="#5760ba"/><rect x="476.00" y="27.00" width="5.00" height="5.00" fill="#5760ba"/><rect x="481.00" y="27.00" width="5.00" height="5.00" fill="#5760ba"/><rect x="486.00" y="27.00" width="5.00" height="5.00" fill="#5760ba"/><rect x="491.00" y="27.00" width="5.00" height="5.00" fill="#5760ba"/><rect x="496.00" y="27.00" width="5.00" height="5.00" fill="#5760ba"/><rect x="501.00" y="27.00" width="5.00" height="5.00" fill="#5760ba"/><rect x="506.00" y="27.00" width="5.00" height="5.00" fill="#5760ba"/><rect x="511.00" y="27.00" width="5.00" height="5.00" fill="#5760ba"/><rect x="516.00" y="27.00" width="5.00" height="5.00" fill="#5760ba"/><rect x="521.00" y="27.00" width="5.00" height="5.00" fill="#5760ba"/><rect x="526.00" y="27.00" width="5.00" height="5.00" fill="#5760ba"/><rect x="531.00" y="27.00" width="5.00" height="5.00" fill="#5760ba"/><rect x="536.00" y="27.00" width="5.00" height="5.00" fill="#5760ba"/><rect x="541.00" y="27.00" width="5.00" height="5.00" fill="#5760ba"/><rect x="546.00" y="27.00" width="5.00" height="5.00" fill="#5760ba"/><rect x="551.00" y="27.00" width="5.00" height="5.00" fill="#5760ba"/><rect x="556.00" y="27.00" width="5.00" height="5.00" fill="#5760ba"/><rect x="561.00" y="27.00" width="5.00" height="5.00" fill="#5760ba"/><rect x="566.00" y="27.00" width="5.00" height="5.00" fill="#5760ba"/><rect x="571.00" y="27.00" width="5.00" height="5.00" fill="#5760ba"/><rect x="576.00" y="27.00" width="5.00" height="5.00" fill="#5760ba"/><rect x="581.00" y="27.00" width="5.00" height="5.00" fill="#5760ba"/><rect x="366.00" y="32.00" width="5.00" height="5.00" fill="#5967c1"/><rect x="371.00" y="32.00" width="5.00" height="5.00" fill="#5967c1"/><rect x="376.00" y="32.00" width="5.00" height="5.00" fill="#5865bf"/><rect x="381.00" y="32.00" width="5.00" height="5.00" fill="#5864be"/><rect x="386.00" y="32.00" width="5.00" height="5.00" fill="#5761bb"/><rect x="391.00" y="32.00" width="5.00" height="5.00" fill="#5760ba"/><rect x="396.00" y="32.00" width="5.00" height="5.00" fill="#5760ba"/><rect x="401.00" y="32.00" width="5.00" height="5.00" fill="#5760ba"/><rect x="406.00" y="32.00" width="5.00" height="5.00" fill="#5760ba"/><rect x="411.00" y="32.00" width="5.00" height="5.00" fill="#5760ba"/><rect x="416.00" y="32.00" width="5.00" height="5.00" fill="#5760ba"/><rect x="421.00" y="32.00" width="5.00" height="5.00" fill="#5760ba"/><rect x="426.00" y="32.00" width="5.00" height="5.00" fill="#5760ba"/><rect x="431.00" y="32.00" width="5.00" height="5.00" fill="#5760ba"/><rect x="436.00" y="32.00" width="5.00" height="5.00" fill="#5760ba"/><rect x="441.00" y="32.00" width="5.00" height="5.00" fill="#5760ba"/><rect x="446.00" y="32.00" width="5.00" height="5.00" fill="#5760ba"/><rect x="451.00" y="32.00" width="5.00" height="5.00" fill="#5760ba"/><rect x="456.00" y="32.00" width="5.00" height="5.00" fill="#5760ba"/><rect x="461.00" y="32.00" width="5.00" height="5.00" fill="#5760ba"/><rect x="466.00" y="32.00" width="5.00" height="5.00" fill="#5760ba"/><rect x="471.00" y="32.00" width="5.00" height="5.00" fill="#5760ba"/><rect x="476.00" y="32.00" width="5.00" height="5.00" fill="#5760ba"/><rect x="481.00" y="32.00" width="5.00" height="5.00" fill="#5760ba"/><rect x="486.00" y="32.00" width="5.00" height="5.00" fill="#5760ba"/><rect x="491.00" y="32.00" width="5.00" height="5.00" fill="#5760ba"/><rect x="496.00" y="32.00" width="5.00" height="5.00" fill="#5760ba"/><rect x="501.00" y="32.00" width="5.00" height="5.00" fill="#5760ba"/><rect x="506.00" y="32.00" width="5.00" height="5.00" fill="#5760ba"/><rect x="511.00" y="32.00" width="5.00" height="5.00" fill="#5760ba"/><rect x="516.00" y="32.00" width="5.00" height="5.00" fill="#5760ba"/><rect x="521.00" y="32.00" width="5.00" height="5.00" fill="#5760ba"/><rect x="526.00" y="32.00" width="5.00" height="5.00" fill="#5760ba"/><rect x="531.00" y="32.00" width="5.00" height="5.00" fill="#5760ba"/><rect x="536.00" y="32.00" width="5.00" height="5.00" fill="#5760ba"/><rect x="541.00" y="32.00" width="5.00" height="5.00" fill="#5760ba"/><rect x="546.00" y="32.00" width="5.00" height="5.00" fill="#5760ba"/><rect x="551.00" y="32.00" width="5.00" height="5.00" fill="#5760ba"/><rect x="556.00" y="32.00" width="5.00" height="5.00" fill="#5760ba"/><rect x="561.00" y="32.00" width="5.00" height="5.00" fill="#5760ba"/><rect x="566.00" y="32.00" width="5.00" height="5.00" fill="#5760ba"/><rect x="571.00" y="32.00" width="5.00" height="5.00" fill="#5760ba"/><rect x="576.00" y="32.00" width="5.00" height="5.00" fill="#5760ba"/><rect x="581.00" y="32.00" width="5.00" height="5.00" fill="#5760ba"/><rect x="366.00" y="37.00" width="5.00" height="5.00" fill="#5a69c3"/><rect x="371.00" y="37.00" width="5.00" height="5.00" fill="#5a69c3"/><rect x="376.00" y="37.00" width="5.00" height="5.00" fill="#5967c1"/><rect x="381.00" y="37.00" width="5.00" height="5.00" fill="#5967c1"/><rect x="386.00" y="37.00" width="5.00" height="5.00" fill="#5862bc"/><rect x="391.00" y="37.00" width="5.00" height="5.00" fill="#5761bb"/><rect x="396.00" y="37.00" width="5.00" height="5.00" fill="#5760ba"/><rect x="401.00" y="37.00" width="5.00" height="5.00" fill="#5760ba"/><rect x="406.00" y="37.00" width="5.00" height="5.00" fill="#5760ba"/><rect x="411.00" y="37.00" width="5.00" height="5.00" fill="#5760ba"/><rect x="416.00" y="37.00" width="5.00" height="5.00" fill="#5760ba"/><rect x="421.00" y="37.00" width="5.00" height="5.00" fill="#5760ba"/><rect x="426.00" y="37.00" width="5.00" height="5.00" fill="#5760ba"/><rect x="431.00" y="37.00" width="5.00" height="5.00" fill="#5760ba"/><rect x="436.00" y="37.00" width="5.00" height="5.00" fill="#5760ba"/><rect x="441.00" y="37.00" width="5.00" height="5.00" fill="#5760ba"/><rect x="446.00" y="37.00" width="5.00" height="5.00" fill="#5760ba"/><rect x="451.00" y="37.00" width="5.00" height="5.00" fill="#5760ba"/><rect x="456.00" y="37.00" width="5.00" height="5.00" fill="#5760ba"/><rect x="461.00" y="37.00" width="5.00" height="5.00" fill="#5760ba"/><rect x="466.00" y="37.00" width="5.00" height="5.00" fill="#5760ba"/><rect x="471.00" y="37.00" width="5.00" height="5.00" fill="#5760ba"/><rect x="476.00" y="37.00" width="5.00" height="5.00" fill="#5760ba"/><rect x="481.00" y="37.00" width="5.00" height="5.00" fill="#5760ba"/><rect x="486.00" y="37.00" width="5.00" height="5.00" fill="#5760ba"/><rect x="491.00" y="37.00" width="5.00" height="5.00" fill="#5760ba"/><rect x="496.00" y="37.00" width="5.00" height="5.00" fill="#5760ba"/><rect x="501.00" y="37.00" width="5.00" height="5.00" fill="#5760ba"/><rect x="506.00" y="37.00" width="5.00" height="5.00" fill="#5760ba"/><rect x="511.00" y="37.00" width="5.00" height="5.00" fill="#5760ba"/><rect x="516.00" y="37.00" width="5.00" height="5.00" fill="#5760ba"/><rect x="521.00" y="37.00" width="5.00" height="5.00" fill="#5760ba"/><rect x="526.00" y="37.00" width="5.00" height="5.00" fill="#5760ba"/><rect x="531.00" y="37.00" width="5.00" height="5.00" fill="#5760ba"/><rect x="536.00" y="37.00" width="5.00" height="5.00" fill="#5760ba"/><rect x="541.00" y="37.00" width="5.00" height="5.00" fill="#5760ba"/><rect x="546.00" y="37.00" width="5.00" height="5.00" fill="#5760ba"/><rect x="551.00" y="37.00" width="5.00" height="5.00" fill="#5760ba"/><rect x="556.00" y="37.00" width="5.00" height="5.00" fill="#5760ba"/><rect x="561.00" y="37.00" width="5.00" height="5.00" fill="#5760ba"/><rect x="566.00" y="37.00" width="5.00" height="5.00" fill="#5760ba"/><rect x="571.00" y="37.00" width="5.00" height="5.00" fill="#5760ba"/><rect x="576.00" y="37.00" width="5.00" height="5.00" fill="#5760ba"/><rect x="581.00" y="37.00" width="5.00" height="5.00" fill="#5760ba"/><rect x="366.00" y="42.00" width="5.00" height="5.00" fill="#5b6cc5"/><rect x="371.00" y="42.00" width="5.00" height="5.00" fill="#5b6dc6"/><rect x="376.00" y="42.00" width="5.00" height="5.00" fill="#5a6bc4"/><rect x="381.00" y="42.00" width="5.00" height="5.00" fill="#5a6ac4"/><rect x="386.00" y="42.00" width="5.00" height="5.00" fill="#5865bf"/><rect x="391.00" y="42.00" width="5.00" height="5.00" fill="#5863bd"/><rect x="396.00" y="42.00" width="5.00" height="5.00" fill="#5760ba"/><rect x="401.00" y="42.00" width="5.00" height="5.00" fill="#5760ba"/><rect x="406.00" y="42.00" width="5.00" height="5.00" fill="#5760ba"/><rect x="411.00" y="42.00" width="5.00" height="5.00" fill="#5760ba"/><rect x="416.00" y="42.00" width="5.00" height="5.00" fill="#5760ba"/><rect x="421.00" y="42.00" width="5.00" height="5.00" fill="#5760ba"/><rect x="426.00" y="42.00" width="5.00" height="5.00" fill="#5760ba"/><rect x="431.00" y="42.00" width="5.00" height="5.00" fill="#5760ba"/><rect x="436.00" y="42.00" width="5.00" height="5.00" fill="#5760ba"/><rect x="441.00" y="42.00" width="5.00" height="5.00" fill="#5760ba"/><rect x="446.00" y="42.00" width="5.00" height="5.00" fill="#5760ba"/><rect x="451.00" y="42.00" width="5.00" height="5.00" fill="#5760ba"/><rect x="456.00" y="42.00" width="5.00" height="5.00" fill="#5760ba"/><rect x="461.00" y="42.00" width="5.00" height="5.00" fill="#5760ba"/><rect x="466.00" y="42.00" width="5.00" height="5.00" fill="#5760ba"/><rect x="471.00" y="42.00" width="5.00" height="5.00" fill="#5760ba"/><rect x="476.00" y="42.00" width="5.00" height="5.00" fill="#5760ba"/><rect x="481.00" y="42.00" width="5.00" height="5.00" fill="#5760ba"/><rect x="486.00" y="42.00" width="5.00" height="5.00" fill="#5760ba"/><rect x="491.00" y="42.00" width="5.00" height="5.00" fill="#5760ba"/><rect x="496.00" y="42.00" width="5.00" height="5.00" fill="#5760ba"/><rect x="501.00" y="42.00" width="5.00" height="5.00" fill="#5760ba"/><rect x="506.00" y="42.00" width="5.00" height="5.00" fill="#5760ba"/><rect x="511.00" y="42.00" width="5.00" height="5.00" fill="#5760ba"/><rect x="516.00" y="42.00" width="5.00" height="5.00" fill="#5760ba"/><rect x="521.00" y="42.00" width="5.00" height="5.00" fill="#5760ba"/><rect x="526.00" y="42.00" width="5.00" height="5.00" fill="#5760ba"/><rect x="531.00" y="42.00" width="5.00" height="5.00" fill="#5760ba"/><rect x="536.00" y="42.00" width="5.00" height="5.00" fill="#5760ba"/><rect x="541.00" y="42.00" width="5.00" height="5.00" fill="#5760ba"/><rect x="546.00" y="42.00" width="5.00" height="5.00" fill="#5760ba"/><rect x="551.00" y="42.00" width="5.00" height="5.00" fill="#5760ba"/><rect x="556.00" y="42.00" width="5.00" height="5.00" fill="#5760ba"/><rect x="561.00" y="42.00" width="5.00" height="5.00" fill="#5760ba"/><rect x="566.00" y="42.00" width="5.00" height="5.00" fill="#5760ba"/><rect x="571.00" y="42.00" width="5.00" height="5.00" fill="#5760ba"/><rect x="576.00" y="42.00" width="5.00" height="5.00" fill="#5760ba"/><rect x="581.00" y="42.00" width="5.00" height="5.00" fill="#5760ba"/><rect x="366.00" y="47.00" width="5.00" height="5.00" fill="#5050ac"/><rect x="371.00" y="47.00" width="5.00" height="5.00" fill="#5c70c8"/><rect x="376.00" y="47.00" width="5.00" height="5.00" fill="#5b6fc7"/><rect x="381.00" y="47.00" width="5.00" height="5.00" fill="#5c70c8"/><rect x="386.00" y="47.00" width="5.00" height="5.00" fill="#5a68c2"/><rect x="391.00" y="47.00" width="5.00" height="5.00" fill="#5966c0"/><rect x="396.00" y="47.00" width="5.00" height="5.00" fill="#5762bc"/><rect x="401.00" y="47.00" width="5.00" height="5.00" fill="#5760ba"/><rect x="406.00" y="47.00" width="5.00" height="5.00" fill="#5760ba"/><rect x="411.00" y="47.00" width="5.00" height="5.00" fill="#5760ba"/><rect x="416.00" y="47.00" width="5.00" height="5.00" fill="#5760ba"/><rect x="421.00" y="47.00" width="5.00" height="5.00" fill="#5760ba"/><rect x="426.00" y="47.00" width="5.00" height="5.00" fill="#5760ba"/><rect x="431.00" y="47.00" width="5.00" height="5.00" fill="#5760ba"/><rect x="436.00" y="47.00" width="5.00" height="5.00" fill="#5760ba"/><rect x="441.00" y="47.00" width="5.00" height="5.00" fill="#5760ba"/><rect x="446.00" y="47.00" width="5.00" height="5.00" fill="#5760ba"/><rect x="451.00" y="47.00" width="5.00" height="5.00" fill="#5760ba"/><rect x="456.00" y="47.00" width="5.00" height="5.00" fill="#5760ba"/><rect x="461.00" y="47.00" width="5.00" height="5.00" fill="#5760ba"/><rect x="466.00" y="47.00" width="5.00" height="5.00" fill="#5760ba"/><rect x="471.00" y="47.00" width="5.00" height="5.00" fill="#5760ba"/><rect x="476.00" y="47.00" width="5.00" height="5.00" fill="#5760ba"/><rect x="481.00" y="47.00" width="5.00" height="5.00" fill="#5760ba"/><rect x="486.00" y="47.00" width="5.00" height="5.00" fill="#5760ba"/><rect x="491.00" y="47.00" width="5.00" height="5.00" fill="#5760ba"/><rect x="496.00" y="47.00" width="5.00" height="5.00" fill="#5760ba"/><rect x="501.00" y="47.00" width="5.00" height="5.00" fill="#5760ba"/><rect x="506.00" y="47.00" width="5.00" height="5.00" fill="#5760ba"/><rect x="511.00" y="47.00" width="5.00" height="5.00" fill="#5760ba"/><rect x="516.00" y="47.00" width="5.00" height="5.00" fill="#5760ba"/><rect x="521.00" y="47.00" width="5.00" height="5.00" fill="#5760ba"/><rect x="526.00" y="47.00" width="5.00" height="5.00" fill="#5760ba"/><rect x="531.00" y="47.00" width="5.00" height="5.00" fill="#5760ba"/><rect x="536.00" y="47.00" width="5.00" height="5.00" fill="#5760ba"/><rect x="541.00" y="47.00" width="5.00" height="5.00" fill="#5760ba"/><rect x="546.00" y="47.00" width="5.00" height="5.00" fill="#5760ba"/><rect x="551.00" y="47.00" width="5.00" height="5.00" fill="#5760ba"/><rect x="556.00" y="47.00" width="5.00" height="5.00" fill="#5760ba"/><rect x="561.00" y="47.00" width="5.00" height="5.00" fill="#5760ba"/><rect x="566.00" y="47.00" width="5.00" height="5.00" fill="#5760ba"/><rect x="571.00" y="47.00" width="5.00" height="5.00" fill="#5760ba"/><rect x="576.00" y="47.00" width="5.00" height="5.00" fill="#5760ba"/><rect x="581.00" y="47.00" width="5.00" height="5.00" fill="#5760ba"/><rect x="366.00" y="52.00" width="5.00" height="5.00" fill="#5050ac"/><rect x="371.00" y="52.00" width="5.00" height="5.00" fill="#5d73ca"/><rect x="376.00" y="52.00" width="5.00" height="5.00" fill="#5d74cb"/><rect x="381.00" y="52.00" width="5.00" height="5.00" fill="#5d76cc"/><rect x="386.00" y="52.00" width="5.00" height="5.00" fill="#5b6dc6"/><rect x="391.00" y="52.00" width="5.00" height="5.00" fill="#5a6ac4"/><rect x="396.00" y="52.00" width="5.00" height="5.00" fill="#5864be"/><rect x="401.00" y="52.00" width="5.00" height="5.00" fill="#5862bc"/><rect x="406.00" y="52.00" width="5.00" height="5.00" fill="#5760ba"/><rect x="411.00" y="52.00" width="5.00" height="5.00" fill="#5760ba"/><rect x="416.00" y="52.00" width="5.00" height="5.00" fill="#5760ba"/><rect x="421.00" y="52.00" width="5.00" height="5.00" fill="#5760ba"/><rect x="426.00" y="52.00" width="5.00" height="5.00" fill="#5760ba"/><rect x="431.00" y="52.00" width="5.00" height="5.00" fill="#5760ba"/><rect x="436.00" y="52.00" width="5.00" height="5.00" fill="#5760ba"/><rect x="441.00" y="52.00" width="5.00" height="5.00" fill="#5760ba"/><rect x="446.00" y="52.00" width="5.00" height="5.00" fill="#5760ba"/><rect x="451.00" y="52.00" width="5.00" height="5.00" fill="#5760ba"/><rect x="456.00" y="52.00" width="5.00" height="5.00" fill="#5760ba"/><rect x="461.00" y="52.00" width="5.00" height="5.00" fill="#5760ba"/><rect x="466.00" y="52.00" width="5.00" height="5.00" fill="#5760ba"/><rect x="471.00" y="52.00" width="5.00" height="5.00" fill="#5760ba"/><rect x="476.00" y="52.00" width="5.00" height="5.00" fill="#5760ba"/><rect x="481.00" y="52.00" width="5.00" height="5.00" fill="#5760ba"/><rect x="486.00" y="52.00" width="5.00" height="5.00" fill="#5760ba"/><rect x="491.00" y="52.00" width="5.00" height="5.00" fill="#5760ba"/><rect x="496.00" y="52.00" width="5.00" height="5.00" fill="#5760ba"/><rect x="501.00" y="52.00" width="5.00" height="5.00" fill="#5760ba"/><rect x="506.00" y="52.00" width="5.00" height="5.00" fill="#5760ba"/><rect x="511.00" y="52.00" width="5.00" height="5.00" fill="#5760ba"/><rect x="516.00" y="52.00" width="5.00" height="5.00" fill="#5760ba"/><rect x="521.00" y="52.00" width="5.00" height="5.00" fill="#5760ba"/><rect x="526.00" y="52.00" width="5.00" height="5.00" fill="#5760ba"/><rect x="531.00" y="52.00" width="5.00" height="5.00" fill="#5760ba"/><rect x="536.00" y="52.00" width="5.00" height="5.00" fill="#5760ba"/><rect x="541.00" y="52.00" width="5.00" height="5.00" fill="#5760ba"/><rect x="546.00" y="52.00" width="5.00" height="5.00" fill="#5760ba"/><rect x="551.00" y="52.00" width="5.00" height="5.00" fill="#5760ba"/><rect x="556.00" y="52.00" width="5.00" height="5.00" fill="#5760ba"/><rect x="561.00" y="52.00" width="5.00" height="5.00" fill="#5760ba"/><rect x="566.00" y="52.00" width="5.00" height="5.00" fill="#5760ba"/><rect x="571.00" y="52.00" width="5.00" height="5.00" fill="#5760ba"/><rect x="576.00" y="52.00" width="5.00" height="5.00" fill="#5760ba"/><rect x="581.00" y="52.00" width="5.00" height="5.00" fill="#5760ba"/><rect x="366.00" y="57.00" width="5.00" height="5.00" fill="#5050ac"/><rect x="371.00" y="57.00" width="5.00" height="5.00" fill="#5050ac"/><rect x="376.00" y="57.00" width="5.00" height="5.00" fill="#5e77cd"/><rect x="381.00" y="57.00" width="5.00" height="5.00" fill="#5f7bd0"/><rect x="386.00" y="57.00" width="5.00" height="5.00" fill="#5d73ca"/><rect x="391.00" y="57.00" width="5.00" height="5.00" fill="#5c70c8"/><rect x="396.00" y="57.00" width="5.00" height="5.00" fill="#5967c1"/><rect x="401.00" y="57.00" width="5.00" height="5.00" fill="#5865bf"/><rect x="406.00" y="57.00" width="5.00" height="5.00" fill="#5862bc"/><rect x="411.00" y="57.00" width="5.00" height="5.00" fill="#5760ba"/><rect x="416.00" y="57.00" width="5.00" height="5.00" fill="#5760ba"/><rect x="421.00" y="57.00" width="5.00" height="5.00" fill="#5760ba"/><rect x="426.00" y="57.00" width="5.00" height="5.00" fill="#5760ba"/><rect x="431.00" y="57.00" width="5.00" height="5.00" fill="#5760ba"/><rect x="436.00" y="57.00" width="5.00" height="5.00" fill="#5760ba"/><rect x="441.00" y="57.00" width="5.00" height="5.00" fill="#5760ba"/><rect x="446.00" y="57.00" width="5.00" height="5.00" fill="#5760ba"/><rect x="451.00" y="57.00" width="5.00" height="5.00" fill="#5760ba"/><rect x="456.00" y="57.00" width="5.00" height="5.00" fill="#5760ba"/><rect x="461.00" y="57.00" width="5.00" height="5.00" fill="#5760ba"/><rect x="466.00" y="57.00" width="5.00" height="5.00" fill="#5760ba"/><rect x="471.00" y="57.00" width="5.00" height="5.00" fill="#5760ba"/><rect x="476.00" y="57.00" width="5.00" height="5.00" fill="#5760ba"/><rect x="481.00" y="57.00" width="5.00" height="5.00" fill="#5760ba"/><rect x="486.00" y="57.00" width="5.00" height="5.00" fill="#5760ba"/><rect x="491.00" y="57.00" width="5.00" height="5.00" fill="#5760ba"/><rect x="496.00" y="57.00" width="5.00" height="5.00" fill="#5760ba"/><rect x="501.00" y="57.00" width="5.00" height="5.00" fill="#5760ba"/><rect x="506.00" y="57.00" width="5.00" height="5.00" fill="#5760ba"/><rect x="511.00" y="57.00" width="5.00" height="5.00" fill="#5760ba"/><rect x="516.00" y="57.00" width="5.00" height="5.00" fill="#5760ba"/><rect x="521.00" y="57.00" width="5.00" height="5.00" fill="#5760ba"/><rect x="526.00" y="57.00" width="5.00" height="5.00" fill="#5760ba"/><rect x="531.00" y="57.00" width="5.00" height="5.00" fill="#5760ba"/><rect x="536.00" y="57.00" width="5.00" height="5.00" fill="#5760ba"/><rect x="541.00" y="57.00" width="5.00" height="5.00" fill="#5760ba"/><rect x="546.00" y="57.00" width="5.00" height="5.00" fill="#5760ba"/><rect x="551.00" y="57.00" width="5.00" height="5.00" fill="#5760ba"/><rect x="556.00" y="57.00" width="5.00" height="5.00" fill="#5760ba"/><rect x="561.00" y="57.00" width="5.00" height="5.00" fill="#5760ba"/><rect x="566.00" y="57.00" width="5.00" height="5.00" fill="#5760ba"/><rect x="571.00" y="57.00" width="5.00" height="5.00" fill="#5760ba"/><rect x="576.00" y="57.00" width="5.00" height="5.00" fill="#5760ba"/><rect x="581.00" y="57.00" width="5.00" height="5.00" fill="#5760ba"/><rect x="366.00" y="62.00" width="5.00" height="5.00" fill="#5050ac"/><rect x="371.00" y="62.00" width="5.00" height="5.00" fill="#5050ac"/><rect x="376.00" y="62.00" width="5.00" height="5.00" fill="#5f7bcf"/><rect x="381.00" y="62.00" width="5.00" height="5.00" fill="#607fd2"/><rect x="386.00" y="62.00" width="5.00" height="5.00" fill="#5f7acf"/><rect x="391.00" y="62.00" width="5.00" height="5.00" fill="#5e76cc"/><rect x="396.00" y="62.00" width="5.00" height="5.00" fill="#5b6cc6"/><rect x="401.00" y="62.00" width="5.00" height="5.00" fill="#5a69c3"/><rect x="406.00" y="62.00" width="5.00" height="5.00" fill="#5865bf"/><rect x="411.00" y="62.00" width="5.00" height="5.00" fill="#5762bc"/><rect x="416.00" y="62.00" width="5.00" height="5.00" fill="#5760ba"/><rect x="421.00" y="62.00" width="5.00" height="5.00" fill="#5760ba"/><rect x="426.00" y="62.00" width="5.00" height="5.00" fill="#5760ba"/><rect x="431.00" y="62.00" width="5.00" height="5.00" fill="#5760ba"/><rect x="436.00" y="62.00" width="5.00" height="5.00" fill="#5760ba"/><rect x="441.00" y="62.00" width="5.00" height="5.00" fill="#5760ba"/><rect x="446.00" y="62.00" width="5.00" height="5.00" fill="#5760ba"/><rect x="451.00" y="62.00" width="5.00" height="5.00" fill="#5760ba"/><rect x="456.00" y="62.00" width="5.00" height="5.00" fill="#5760ba"/><rect x="461.00" y="62.00" width="5.00" height="5.00" fill="#5760ba"/><rect x="466.00" y="62.00" width="5.00" height="5.00" fill="#5760ba"/><rect x="471.00" y="62.00" width="5.00" height="5.00" fill="#5760ba"/><rect x="476.00" y="62.00" width="5.00" height="5.00" fill="#5760ba"/><rect x="481.00" y="62.00" width="5.00" height="5.00" fill="#5760ba"/><rect x="486.00" y="62.00" width="5.00" height="5.00" fill="#5760ba"/><rect x="491.00" y="62.00" width="5.00" height="5.00" fill="#5760ba"/><rect x="496.00" y="62.00" width="5.00" height="5.00" fill="#5760ba"/><rect x="501.00" y="62.00" width="5.00" height="5.00" fill="#5760ba"/><rect x="506.00" y="62.00" width="5.00" height="5.00" fill="#5760ba"/><rect x="511.00" y="62.00" width="5.00" height="5.00" fill="#5760ba"/><rect x="516.00" y="62.00" width="5.00" height="5.00" fill="#5760ba"/><rect x="521.00" y="62.00" width="5.00" height="5.00" fill="#5760ba"/><rect x="526.00" y="62.00" width="5.00" height="5.00" fill="#5760ba"/><rect x="531.00" y="62.00" width="5.00" height="5.00" fill="#5760ba"/><rect x="536.00" y="62.00" width="5.00" height="5.00" fill="#5760ba"/><rect x="541.00" y="62.00" width="5.00" height="5.00" fill="#5760ba"/><rect x="546.00" y="62.00" width="5.00" height="5.00" fill="#5760ba"/><rect x="551.00" y="62.00" width="5.00" height="5.00" fill="#5760ba"/><rect x="556.00" y="62.00" width="5.00" height="5.00" fill="#5760ba"/><rect x="561.00" y="62.00" width="5.00" height="5.00" fill="#5760ba"/><rect x="566.00" y="62.00" width="5.00" height="5.00" fill="#5760ba"/><rect x="571.00" y="62.00" width="5.00" height="5.00" fill="#5760ba"/><rect x="576.00" y="62.00" width="5.00" height="5.00" fill="#5760ba"/><rect x="581.00" y="62.00" width="5.00" height="5.00" fill="#5760ba"/><rect x="366.00" y="67.00" width="5.00" height="5.00" fill="#5050ac"/><rect x="371.00" y="67.00" width="5.00" height="5.00" fill="#5050ac"/><rect x="376.00" y="67.00" width="5.00" height="5.00" fill="#5050ac"/><rect x="381.00" y="67.00" width="5.00" height="5.00" fill="#6182d4"/><rect x="386.00" y="67.00" width="5.00" height="5.00" fill="#6080d3"/><rect x="391.00" y="67.00" width="5.00" height="5.00" fill="#607ed1"/><rect x="396.00" y="67.00" width="5.00" height="5.00" fill="#5d73ca"/><rect x="401.00" y="67.00" width="5.00" height="5.00" fill="#5b6fc7"/><rect x="406.00" y="67.00" width="5.00" height="5.00" fill="#5968c2"/><rect x="411.00" y="67.00" width="5.00" height="5.00" fill="#5864be"/><rect x="416.00" y="67.00" width="5.00" height="5.00" fill="#5761bb"/><rect x="421.00" y="67.00" width="5.00" height="5.00" fill="#5760ba"/><rect x="426.00" y="67.00" width="5.00" height="5.00" fill="#5760ba"/><rect x="431.00" y="67.00" width="5.00" height="5.00" fill="#5760ba"/><rect x="436.00" y="67.00" width="5.00" height="5.00" fill="#5760ba"/><rect x="441.00" y="67.00" width="5.00" height="5.00" fill="#5760ba"/><rect x="446.00" y="67.00" width="5.00" height="5.00" fill="#5760ba"/><rect x="451.00" y="67.00" width="5.00" height="5.00" fill="#5760ba"/><rect x="456.00" y="67.00" width="5.00" height="5.00" fill="#5760ba"/><rect x="461.00" y="67.00" width="5.00" height="5.00" fill="#5760ba"/><rect x="466.00" y="67.00" width="5.00" height="5.00" fill="#5760ba"/><rect x="471.00" y="67.00" width="5.00" height="5.00" fill="#5760ba"/><rect x="476.00" y="67.00" width="5.00" height="5.00" fill="#5760ba"/><rect x="481.00" y="67.00" width="5.00" height="5.00" fill="#5760ba"/><rect x="486.00" y="67.00" width="5.00" height="5.00" fill="#5760ba"/><rect x="491.00" y="67.00" width="5.00" height="5.00" fill="#5760ba"/><rect x="496.00" y="67.00" width="5.00" height="5.00" fill="#5760ba"/><rect x="501.00" y="67.00" width="5.00" height="5.00" fill="#5760ba"/><rect x="506.00" y="67.00" width="5.00" height="5.00" fill="#5760ba"/><rect x="511.00" y="67.00" width="5.00" height="5.00" fill="#5760ba"/><rect x="516.00" y="67.00" width="5.00" height="5.00" fill="#5760ba"/><rect x="521.00" y="67.00" width="5.00" height="5.00" fill="#5760ba"/><rect x="526.00" y="67.00" width="5.00" height="5.00" fill="#5760ba"/><rect x="531.00" y="67.00" width="5.00" height="5.00" fill="#5760ba"/><rect x="536.00" y="67.00" width="5.00" height="5.00" fill="#5760ba"/><rect x="541.00" y="67.00" width="5.00" height="5.00" fill="#5760ba"/><rect x="546.00" y="67.00" width="5.00" height="5.00" fill="#5760ba"/><rect x="551.00" y="67.00" width="5.00" height="5.00" fill="#5760ba"/><rect x="556.00" y="67.00" width="5.00" height="5.00" fill="#5760ba"/><rect x="561.00" y="67.00" width="5.00" height="5.00" fill="#5760ba"/><rect x="566.00" y="67.00" width="5.00" height="5.00" fill="#5760ba"/><rect x="571.00" y="67.00" width="5.00" height="5.00" fill="#5760ba"/><rect x="576.00" y="67.00" width="5.00" height="5.00" fill="#5760ba"/><rect x="581.00" y="67.00" width="5.00" height="5.00" fill="#5760ba"/><rect x="366.00" y="72.00" width="5.00" height="5.00" fill="#5050ac"/><rect x="371.00" y="72.00" width="5.00" height="5.00" fill="#5050ac"/><rect x="376.00" y="72.00" width="5.00" height="5.00" fill="#5050ac"/><rect x="381.00" y="72.00" width="5.00" height="5.00" fill="#5050ac"/><rect x="386.00" y="72.00" width="5.00" height="5.00" fill="#6285d5"/><rect x="391.00" y="72.00" width="5.00" height="5.00" fill="#6385d5"/><rect x="396.00" y="72.00" width="5.00" height="5.00" fill="#5f7acf"/><rect x="401.00" y="72.00" width="5.00" height="5.00" fill="#5d76cc"/><rect x="406.00" y="72.00" width="5.00" height="5.00" fill="#5b6ec7"/><rect x="411.00" y="72.00" width="5.00" height="5.00" fill="#5968c2"/><rect x="416.00" y="72.00" width="5.00" height="5.00" fill="#5864be"/><rect x="421.00" y="72.00" width="5.00" height="5.00" fill="#5761bb"/><rect x="426.00" y="72.00" width="5.00" height="5.00" fill="#5761bb"/><rect x="431.00" y="72.00" width="5.00" height="5.00" fill="#5761bb"/><rect x="436.00" y="72.00" width="5.00" height="5.00" fill="#5760ba"/><rect x="441.00" y="72.00" width="5.00" height="5.00" fill="#5760ba"/><rect x="446.00" y="72.00" width="5.00" height="5.00" fill="#5760ba"/><rect x="451.00" y="72.00" width="5.00" height="5.00" fill="#5760ba"/><rect x="456.00" y="72.00" width="5.00" height="5.00" fill="#5760ba"/><rect x="461.00" y="72.00" width="5.00" height="5.00" fill="#5760ba"/><rect x="466.00" y="72.00" width="5.00" height="5.00" fill="#5760ba"/><rect x="471.00" y="72.00" width="5.00" height="5.00" fill="#5760ba"/><rect x="476.00" y="72.00" width="5.00" height="5.00" fill="#5760ba"/><rect x="481.00" y="72.00" width="5.00" height="5.00" fill="#5760ba"/><rect x="486.00" y="72.00" width="5.00" height="5.00" fill="#5760ba"/><rect x="491.00" y="72.00" width="5.00" height="5.00" fill="#5760ba"/><rect x="496.00" y="72.00" width="5.00" height="5.00" fill="#5760ba"/><rect x="501.00" y="72.00" width="5.00" height="5.00" fill="#5760ba"/><rect x="506.00" y="72.00" width="5.00" height="5.00" fill="#5760ba"/><rect x="511.00" y="72.00" width="5.00" height="5.00" fill="#5760ba"/><rect x="516.00" y="72.00" width="5.00" height="5.00" fill="#5760ba"/><rect x="521.00" y="72.00" width="5.00" height="5.00" fill="#5760ba"/><rect x="526.00" y="72.00" width="5.00" height="5.00" fill="#5760ba"/><rect x="531.00" y="72.00" width="5.00" height="5.00" fill="#5760ba"/><rect x="536.00" y="72.00" width="5.00" height="5.00" fill="#5760ba"/><rect x="541.00" y="72.00" width="5.00" height="5.00" fill="#5760ba"/><rect x="546.00" y="72.00" width="5.00" height="5.00" fill="#5760ba"/><rect x="551.00" y="72.00" width="5.00" height="5.00" fill="#5760ba"/><rect x="556.00" y="72.00" width="5.00" height="5.00" fill="#5760ba"/><rect x="561.00" y="72.00" width="5.00" height="5.00" fill="#5760ba"/><rect x="566.00" y="72.00" width="5.00" height="5.00" fill="#5760ba"/><rect x="571.00" y="72.00" width="5.00" height="5.00" fill="#5760ba"/><rect x="576.00" y="72.00" width="5.00" height="5.00" fill="#5760ba"/><rect x="581.00" y="72.00" width="5.00" height="5.00" fill="#5760ba"/><rect x="366.00" y="77.00" width="5.00" height="5.00" fill="#5050ac"/><rect x="371.00" y="77.00" width="5.00" height="5.00" fill="#5050ac"/><rect x="376.00" y="77.00" width="5.00" height="5.00" fill="#5050ac"/><rect x="381.00" y="77.00" width="5.00" height="5.00" fill="#5050ac"/><rect x="386.00" y="77.00" width="5.00" height="5.00" fill="#6489d6"/><rect x="391.00" y="77.00" width="5.00" height="5.00" fill="#658bd7"/><rect x="396.00" y="77.00" width="5.00" height="5.00" fill="#6183d4"/><rect x="401.00" y="77.00" width="5.00" height="5.00" fill="#607dd1"/><rect x="406.00" y="77.00" width="5.00" height="5.00" fill="#5d76cc"/><rect x="411.00" y="77.00" width="5.00" height="5.00" fill="#5b6dc6"/><rect x="416.00" y="77.00" width="5.00" height="5.00" fill="#5967c1"/><rect x="421.00" y="77.00" width="5.00" height="5.00" fill="#5864be"/><rect x="426.00" y="77.00" width="5.00" height="5.00" fill="#5862bc"/><rect x="431.00" y="77.00" width="5.00" height="5.00" fill="#5864be"/><rect x="436.00" y="77.00" width="5.00" height="5.00" fill="#5762bc"/><rect x="441.00" y="77.00" width="5.00" height="5.00" fill="#5760ba"/><rect x="446.00" y="77.00" width="5.00" height="5.00" fill="#5760ba"/><rect x="451.00" y="77.00" width="5.00" height="5.00" fill="#5760ba"/><rect x="456.00" y="77.00" width="5.00" height="5.00" fill="#5760ba"/><rect x="461.00" y="77.00" width="5.00" height="5.00" fill="#5760ba"/><rect x="466.00" y="77.00" width="5.00" height="5.00" fill="#5760ba"/><rect x="471.00" y="77.00" width="5.00" height="5.00" fill="#5760ba"/><rect x="476.00" y="77.00" width="5.00" height="5.00" fill="#5760ba"/><rect x="481.00" y="77.00" width="5.00" height="5.00" fill="#5760ba"/><rect x="486.00" y="77.00" width="5.00" height="5.00" fill="#5760ba"/><rect x="491.00" y="77.00" width="5.00" height="5.00" fill="#5760ba"/><rect x="496.00" y="77.00" width="5.00" height="5.00" fill="#5760ba"/><rect x="501.00" y="77.00" width="5.00" height="5.00" fill="#5760ba"/><rect x="506.00" y="77.00" width="5.00" height="5.00" fill="#5760ba"/><rect x="511.00" y="77.00" width="5.00" height="5.00" fill="#5760ba"/><rect x="516.00" y="77.00" width="5.00" height="5.00" fill="#5760ba"/><rect x="521.00" y="77.00" width="5.00" height="5.00" fill="#5760ba"/><rect x="526.00" y="77.00" width="5.00" height="5.00" fill="#5760ba"/><rect x="531.00" y="77.00" width="5.00" height="5.00" fill="#5760ba"/><rect x="536.00" y="77.00" width="5.00" height="5.00" fill="#5760ba"/><rect x="541.00" y="77.00" width="5.00" height="5.00" fill="#5760ba"/><rect x="546.00" y="77.00" width="5.00" height="5.00" fill="#5760ba"/><rect x="551.00" y="77.00" width="5.00" height="5.00" fill="#5760ba"/><rect x="556.00" y="77.00" width="5.00" height="5.00" fill="#5760ba"/><rect x="561.00" y="77.00" width="5.00" height="5.00" fill="#5760ba"/><rect x="566.00" y="77.00" width="5.00" height="5.00" fill="#5760ba"/><rect x="571.00" y="77.00" width="5.00" height="5.00" fill="#5760ba"/><rect x="576.00" y="77.00" width="5.00" height="5.00" fill="#5760ba"/><rect x="581.00" y="77.00" width="5.00" height="5.00" fill="#5760ba"/><rect x="366.00" y="82.00" width="5.00" height="5.00" fill="#5050ac"/><rect x="371.00" y="82.00" width="5.00" height="5.00" fill="#5050ac"/><rect x="376.00" y="82.00" width="5.00" height="5.00" fill="#5050ac"/><rect x="381.00" y="82.00" width="5.00" height="5.00" fill="#5050ac"/><rect x="386.00" y="82.00" width="5.00" height="5.00" fill="#5050ac"/><rect x="391.00" y="82.00" width="5.00" height="5.00" fill="#6890d9"/><rect x="396.00" y="82.00" width="5.00" height="5.00" fill="#658bd7"/><rect x="401.00" y="82.00" width="5.00" height="5.00" fill="#6487d6"/><rect x="406.00" y="82.00" width="5.00" height="5.00" fill="#607fd2"/><rect x="411.00" y="82.00" width="5.00" height="5.00" fill="#5d76cc"/><rect x="416.00" y="82.00" width="5.00" height="5.00" fill="#5b6dc6"/><rect x="421.00" y="82.00" width="5.00" height="5.00" fill="#5967c1"/><rect x="426.00" y="82.00" width="5.00" height="5.00" fill="#5865bf"/><rect x="431.00" y="82.00" width="5.00" height="5.00" fill="#5967c1"/><rect x="436.00" y="82.00" width="5.00" height="5.00" fill="#5865bf"/><rect x="441.00" y="82.00" width="5.00" height="5.00" fill="#5862bc"/><rect x="446.00" y="82.00" width="5.00" height="5.00" fill="#5862bc"/><rect x="451.00" y="82.00" width="5.00" height="5.00" fill="#5760ba"/><rect x="456.00" y="82.00" width="5.00" height="5.00" fill="#5760ba"/><rect x="461.00" y="82.00" width="5.00" height="5.00" fill="#5760ba"/><rect x="466.00" y="82.00" width="5.00" height="5.00" fill="#5760ba"/><rect x="471.00" y="82.00" width="5.00" height="5.00" fill="#5760ba"/><rect x="476.00" y="82.00" width="5.00" height="5.00" fill="#5760ba"/><rect x="481.00" y="82.00" width="5.00" height="5.00" fill="#5760ba"/><rect x="486.00" y="82.00" width="5.00" height="5.00" fill="#5760ba"/><rect x="491.00" y="82.00" width="5.00" height="5.00" fill="#5760ba"/><rect x="496.00" y="82.00" width="5.00" height="5.00" fill="#5760ba"/><rect x="501.00" y="82.00" width="5.00" height="5.00" fill="#5760ba"/><rect x="506.00" y="82.00" width="5.00" height="5.00" fill="#5760ba"/><rect x="511.00" y="82.00" width="5.00" height="5.00" fill="#5760ba"/><rect x="516.00" y="82.00" width="5.00" height="5.00" fill="#5760ba"/><rect x="521.00" y="82.00" width="5.00" height="5.00" fill="#5760ba"/><rect x="526.00" y="82.00" width="5.00" height="5.00" fill="#5760ba"/><rect x="531.00" y="82.00" width="5.00" height="5.00" fill="#5760ba"/><rect x="536.00" y="82.00" width="5.00" height="5.00" fill="#5760ba"/><rect x="541.00" y="82.00" width="5.00" height="5.00" fill="#5760ba"/><rect x="546.00" y="82.00" width="5.00" height="5.00" fill="#5760ba"/><rect x="551.00" y="82.00" width="5.00" height="5.00" fill="#5760ba"/><rect x="556.00" y="82.00" width="5.00" height="5.00" fill="#5760ba"/><rect x="561.00" y="82.00" width="5.00" height="5.00" fill="#5760ba"/><rect x="566.00" y="82.00" width="5.00" height="5.00" fill="#5760ba"/><rect x="571.00" y="82.00" width="5.00" height="5.00" fill="#5760ba"/><rect x="576.00" y="82.00" width="5.00" height="5.00" fill="#5760ba"/><rect x="581.00" y="82.00" width="5.00" height="5.00" fill="#5760ba"/><rect x="366.00" y="87.00" width="5.00" height="5.00" fill="#5050ac"/><rect x="371.00" y="87.00" width="5.00" height="5.00" fill="#5050ac"/><rect x="376.00" y="87.00" width="5.00" height="5.00" fill="#5050ac"/><rect x="381.00" y="87.00" width="5.00" height="5.00" fill="#5050ac"/><rect x="386.00" y="87.00" width="5.00" height="5.00" fill="#5050ac"/><rect x="391.00" y="87.00" width="5.00" height="5.00" fill="#5050ac"/><rect x="396.00" y="87.00" width="5.00" height="5.00" fill="#6891da"/><rect x="401.00" y="87.00" width="5.00" height="5.00" fill="#6890d9"/><rect x="406.00" y="87.00" width="5.00" height="5.00" fill="#658ad7"/><rect x="411.00" y="87.00" width="5.00" height="5.00" fill="#6181d3"/><rect x="416.00" y="87.00" width="5.00" height="5.00" fill="#5d76cc"/><rect x="421.00" y="87.00" width="5.00" height="5.00" fill="#5b6cc5"/><rect x="426.00" y="87.00" width="5.00" height="5.00" fill="#5a69c3"/><rect x="431.00" y="87.00" width="5.00" height="5.00" fill="#5b6cc6"/><rect x="436.00" y="87.00" width="5.00" height="5.00" fill="#5a68c2"/><rect x="441.00" y="87.00" width="5.00" height="5.00" fill="#5966c0"/><rect x="446.00" y="87.00" width="5.00" height="5.00" fill="#5966c0"/><rect x="451.00" y="87.00" width="5.00" height="5.00" fill="#5862bc"/><rect x="456.00" y="87.00" width="5.00" height="5.00" fill="#5862bc"/><rect x="461.00" y="87.00" width="5.00" height="5.00" fill="#5760ba"/><rect x="466.00" y="87.00" width="5.00" height="5.00" fill="#5760ba"/><rect x="471.00" y="87.00" width="5.00" height="5.00" fill="#5760ba"/><rect x="476.00" y="87.00" width="5.00" height="5.00" fill="#5760ba"/><rect x="481.00" y="87.00" width="5.00" height="5.00" fill="#5760ba"/><rect x="486.00" y="87.00" width="5.00" height="5.00" fill="#5760ba"/><rect x="491.00" y="87.00" width="5.00" height="5.00" fill="#5760ba"/><rect x="496.00" y="87.00" width="5.00" height="5.00" fill="#5760ba"/><rect x="501.00" y="87.00" width="5.00" height="5.00" fill="#5760ba"/><rect x="506.00" y="87.00" width="5.00" height="5.00" fill="#5760ba"/><rect x="511.00" y="87.00" width="5.00" height="5.00" fill="#5760ba"/><rect x="516.00" y="87.00" width="5.00" height="5.00" fill="#5760ba"/><rect x="521.00" y="87.00" width="5.00" height="5.00" fill="#5760ba"/><rect x="526.00" y="87.00" width="5.00" height="5.00" fill="#5760ba"/><rect x="531.00" y="87.00" width="5.00" height="5.00" fill="#5760ba"/><rect x="536.00" y="87.00" width="5.00" height="5.00" fill="#5760ba"/><rect x="541.00" y="87.00" width="5.00" height="5.00" fill="#5760ba"/><rect x="546.00" y="87.00" width="5.00" height="5.00" fill="#5760ba"/><rect x="551.00" y="87.00" width="5.00" height="5.00" fill="#5760ba"/><rect x="556.00" y="87.00" width="5.00" height="5.00" fill="#5760ba"/><rect x="561.00" y="87.00" width="5.00" height="5.00" fill="#5760ba"/><rect x="566.00" y="87.00" width="5.00" height="5.00" fill="#5760ba"/><rect x="571.00" y="87.00" width="5.00" height="5.00" fill="#5760ba"/><rect x="576.00" y="87.00" width="5.00" height="5.00" fill="#5760ba"/><rect x="581.00" y="87.00" width="5.00" height="5.00" fill="#5760ba"/><rect x="366.00" y="92.00" width="5.00" height="5.00" fill="#5050ac"/><rect x="371.00" y="92.00" width="5.00" height="5.00" fill="#5050ac"/><rect x="376.00" y="92.00" width="5.00" height="5.00" fill="#5050ac"/><rect x="381.00" y="92.00" width="5.00" height="5.00" fill="#5050ac"/><rect x="386.00" y="92.00" width="5.00" height="5.00" fill="#5050ac"/><rect x="391.00" y="92.00" width="5.00" height="5.00" fill="#5050ac"/><rect x="396.00" y="92.00" width="5.00" height="5.00" fill="#6b96dc"/><rect x="401.00" y="92.00" width="5.00" height="5.00" fill="#6b98dc"/><rect x="406.00" y="92.00" width="5.00" height="5.00" fill="#6993da"/><rect x="411.00" y="92.00" width="5.00" height="5.00" fill="#668dd8"/><rect x="416.00" y="92.00" width="5.00" height="5.00" fill="#6283d4"/><rect x="421.00" y="92.00" width="5.00" height="5.00" fill="#5d76cc"/><rect x="426.00" y="92.00" width="5.00" height="5.00" fill="#5c71c9"/><rect x="431.00" y="92.00" width="5.00" height="5.00" fill="#5e76cc"/><rect x="436.00" y="92.00" width="5.00" height="5.00" fill="#5c70c8"/><rect x="441.00" y="92.00" width="5.00" height="5.00" fill="#5a6ac4"/><rect x="446.00" y="92.00" width="5.00" height="5.00" fill="#5a6ac4"/><rect x="451.00" y="92.00" width="5.00" height="5.00" fill="#5966c0"/><rect x="456.00" y="92.00" width="5.00" height="5.00" fill="#5966c0"/><rect x="461.00" y="92.00" width="5.00" height="5.00" fill="#5862bc"/><rect x="466.00" y="92.00" width="5.00" height="5.00" fill="#5862bc"/><rect x="471.00" y="92.00" width="5.00" height="5.00" fill="#5762bc"/><rect x="476.00" y="92.00" width="5.00" height="5.00" fill="#5760ba"/><rect x="481.00" y="92.00" width="5.00" height="5.00" fill="#5760ba"/><rect x="486.00" y="92.00" width="5.00" height="5.00" fill="#5760ba"/><rect x="491.00" y="92.00" width="5.00" height="5.00" fill="#5760ba"/><rect x="496.00" y="92.00" width="5.00" height="5.00" fill="#5760ba"/><rect x="501.00" y="92.00" width="5.00" height="5.00" fill="#5760ba"/><rect x="506.00" y="92.00" width="5.00" height="5.00" fill="#5760ba"/><rect x="511.00" y="92.00" width="5.00" height="5.00" fill="#5760ba"/><rect x="516.00" y="92.00" width="5.00" height="5.00" fill="#5760ba"/><rect x="521.00" y="92.00" width="5.00" height="5.00" fill="#5760ba"/><rect x="526.00" y="92.00" width="5.00" height="5.00" fill="#5760ba"/><rect x="531.00" y="92.00" width="5.00" height="5.00" fill="#5760ba"/><rect x="536.00" y="92.00" width="5.00" height="5.00" fill="#5760ba"/><rect x="541.00" y="92.00" width="5.00" height="5.00" fill="#5760ba"/><rect x="546.00" y="92.00" width="5.00" height="5.00" fill="#5760ba"/><rect x="551.00" y="92.00" width="5.00" height="5.00" fill="#5760ba"/><rect x="556.00" y="92.00" width="5.00" height="5.00" fill="#5760ba"/><rect x="561.00" y="92.00" width="5.00" height="5.00" fill="#5760ba"/><rect x="566.00" y="92.00" width="5.00" height="5.00" fill="#5760ba"/><rect x="571.00" y="92.00" width="5.00" height="5.00" fill="#5760ba"/><rect x="576.00" y="92.00" width="5.00" height="5.00" fill="#5760ba"/><rect x="581.00" y="92.00" width="5.00" height="5.00" fill="#5760ba"/><rect x="366.00" y="97.00" width="5.00" height="5.00" fill="#5050ac"/><rect x="371.00" y="97.00" width="5.00" height="5.00" fill="#5050ac"/><rect x="376.00" y="97.00" width="5.00" height="5.00" fill="#5050ac"/><rect x="381.00" y="97.00" width="5.00" height="5.00" fill="#5050ac"/><rect x="386.00" y="97.00" width="5.00" height="5.00" fill="#5050ac"/><rect x="391.00" y="97.00" width="5.00" height="5.00" fill="#5050ac"/><rect x="396.00" y="97.00" width="5.00" height="5.00" fill="#5050ac"/><rect x="401.00" y="97.00" width="5.00" height="5.00" fill="#6e9dde"/><rect x="406.00" y="97.00" width="5.00" height="5.00" fill="#6d9bdd"/><rect x="411.00" y="97.00" width="5.00" height="5.00" fill="#6b97dc"/><rect x="416.00" y="97.00" width="5.00" height="5.00" fill="#6890d9"/><rect x="421.00" y="97.00" width="5.00" height="5.00" fill="#6385d5"/><rect x="426.00" y="97.00" width="5.00" height="5.00" fill="#5f7bd0"/><rect x="431.00" y="97.00" width="5.00" height="5.00" fill="#6181d3"/><rect x="436.00" y="97.00" width="5.00" height="5.00" fill="#5f7cd0"/><rect x="441.00" y="97.00" width="5.00" height="5.00" fill="#5d74ca"/><rect x="446.00" y="97.00" width="5.00" height="5.00" fill="#5d74cb"/><rect x="451.00" y="97.00" width="5.00" height="5.00" fill="#5a6bc5"/><rect x="456.00" y="97.00" width="5.00" height="5.00" fill="#5a6bc5"/><rect x="461.00" y="97.00" width="5.00" height="5.00" fill="#5966c0"/><rect x="466.00" y="97.00" width="5.00" height="5.00" fill="#5966c0"/><rect x="471.00" y="97.00" width="5.00" height="5.00" fill="#5864be"/><rect x="476.00" y="97.00" width="5.00" height="5.00" fill="#5761bb"/><rect x="481.00" y="97.00" width="5.00" height="5.00" fill="#5760ba"/><rect x="486.00" y="97.00" width="5.00" height="5.00" fill="#5760ba"/><rect x="491.00" y="97.00" width="5.00" height="5.00" fill="#5760ba"/><rect x="496.00" y="97.00" width="5.00" height="5.00" fill="#5760ba"/><rect x="501.00" y="97.00" width="5.00" height="5.00" fill="#5760ba"/><rect x="506.00" y="97.00" width="5.00" height="5.00" fill="#5760ba"/><rect x="511.00" y="97.00" width="5.00" height="5.00" fill="#5760ba"/><rect x="516.00" y="97.00" width="5.00" height="5.00" fill="#5760ba"/><rect x="521.00" y="97.00" width="5.00" height="5.00" fill="#5760ba"/><rect x="526.00" y="97.00" width="5.00" height="5.00" fill="#5760ba"/><rect x="531.00" y="97.00" width="5.00" height="5.00" fill="#5760ba"/><rect x="536.00" y="97.00" width="5.00" height="5.00" fill="#5760ba"/><rect x="541.00" y="97.00" width="5.00" height="5.00" fill="#5760ba"/><rect x="546.00" y="97.00" width="5.00" height="5.00" fill="#5760ba"/><rect x="551.00" y="97.00" width="5.00" height="5.00" fill="#5760ba"/><rect x="556.00" y="97.00" width="5.00" height="5.00" fill="#5760ba"/><rect x="561.00" y="97.00" width="5.00" height="5.00" fill="#5760ba"/><rect x="566.00" y="97.00" width="5.00" height="5.00" fill="#5760ba"/><rect x="571.00" y="97.00" width="5.00" height="5.00" fill="#5760ba"/><rect x="576.00" y="97.00" width="5.00" height="5.00" fill="#5760ba"/><rect x="581.00" y="97.00" width="5.00" height="5.00" fill="#5760ba"/><rect x="366.00" y="102.00" width="5.00" height="5.00" fill="#5050ac"/><rect x="371.00" y="102.00" width="5.00" height="5.00" fill="#5050ac"/><rect x="376.00" y="102.00" width="5.00" height="5.00" fill="#5050ac"/><rect x="381.00" y="102.00" width="5.00" height="5.00" fill="#5050ac"/><rect x="386.00" y="102.00" width="5.00" height="5.00" fill="#5050ac"/><rect x="391.00" y="102.00" width="5.00" height="5.00" fill="#5050ac"/><rect x="396.00" y="102.00" width="5.00" height="5.00" fill="#5050ac"/><rect x="401.00" y="102.00" width="5.00" height="5.00" fill="#5050ac"/><rect x="406.00" y="102.00" width="5.00" height="5.00" fill="#6fa2da"/><rect x="411.00" y="102.00" width="5.00" height="5.00" fill="#6e9fdc"/><rect x="416.00" y="102.00" width="5.00" height="5.00" fill="#6c9add"/><rect x="421.00" y="102.00" width="5.00" height="5.00" fill="#6992da"/><rect x="426.00" y="102.00" width="5.00" height="5.00" fill="#658bd7"/><rect x="431.00" y="102.00" width="5.00" height="5.00" fill="#6891da"/><rect x="436.00" y="102.00" width="5.00" height="5.00" fill="#6487d6"/><rect x="441.00" y="102.00" width="5.00" height="5.00" fill="#6181d3"/><rect x="446.00" y="102.00" width="5.00" height="5.00" fill="#6182d4"/><rect x="451.00" y="102.00" width="5.00" height="5.00" fill="#5d75cb"/><rect x="456.00" y="102.00" width="5.00" height="5.00" fill="#5d76cc"/><rect x="461.00" y="102.00" width="5.00" height="5.00" fill="#5a6cc5"/><rect x="466.00" y="102.00" width="5.00" height="5.00" fill="#5b6cc5"/><rect x="471.00" y="102.00" width="5.00" height="5.00" fill="#5968c2"/><rect x="476.00" y="102.00" width="5.00" height="5.00" fill="#5862bc"/><rect x="481.00" y="102.00" width="5.00" height="5.00" fill="#5760ba"/><rect x="486.00" y="102.00" width="5.00" height="5.00" fill="#5760ba"/><rect x="491.00" y="102.00" width="5.00" height="5.00" fill="#5760ba"/><rect x="496.00" y="102.00" width="5.00" height="5.00" fill="#5760ba"/><rect x="501.00" y="102.00" width="5.00" height="5.00" fill="#5760ba"/><rect x="506.00" y="102.00" width="5.00" height="5.00" fill="#5760ba"/><rect x="511.00" y="102.00" width="5.00" height="5.00" fill="#5760ba"/><rect x="516.00" y="102.00" width="5.00" height="5.00" fill="#5760ba"/><rect x="521.00" y="102.00" width="5.00" height="5.00" fill="#5760ba"/><rect x="526.00" y="102.00" width="5.00" height="5.00" fill="#5760ba"/><rect x="531.00" y="102.00" width="5.00" height="5.00" fill="#5760ba"/><rect x="536.00" y="102.00" width="5.00" height="5.00" fill="#5760ba"/><rect x="541.00" y="102.00" width="5.00" height="5.00" fill="#5760ba"/><rect x="546.00" y="102.00" width="5.00" height="5.00" fill="#5760ba"/><rect x="551.00" y="102.00" width="5.00" height="5.00" fill="#5760ba"/><rect x="556.00" y="102.00" width="5.00" height="5.00" fill="#5760ba"/><rect x="561.00" y="102.00" width="5.00" height="5.00" fill="#5760ba"/><rect x="566.00" y="102.00" width="5.00" height="5.00" fill="#5760ba"/><rect x="571.00" y="102.00" width="5.00" height="5.00" fill="#5760ba"/><rect x="576.00" y="102.00" width="5.00" height="5.00" fill="#5760ba"/><rect x="581.00" y="102.00" width="5.00" height="5.00" fill="#5760ba"/><rect x="366.00" y="107.00" width="5.00" height="5.00" fill="#5050ac"/><rect x="371.00" y="107.00" width="5.00" height="5.00" fill="#5050ac"/><rect x="376.00" y="107.00" width="5.00" height="5.00" fill="#5050ac"/><rect x="381.00" y="107.00" width="5.00" height="5.00" fill="#5050ac"/><rect x="386.00" y="107.00" width="5.00" height="5.00" fill="#5050ac"/><rect x="391.00" y="107.00" width="5.00" height="5.00" fill="#5050ac"/><rect x="396.00" y="107.00" width="5.00" height="5.00" fill="#5050ac"/><rect x="401.00" y="107.00" width="5.00" height="5.00" fill="#5050ac"/><rect x="406.00" y="107.00" width="5.00" height="5.00" fill="#5050ac"/><rect x="411.00" y="107.00" width="5.00" height="5.00" fill="#70a7d6"/><rect x="416.00" y="107.00" width="5.00" height="5.00" fill="#6fa3d9"/><rect x="421.00" y="107.00" width="5.00" height="5.00" fill="#6e9dde"/><rect x="426.00" y="107.00" width="5.00" height="5.00" fill="#6b98dc"/><rect x="431.00" y="107.00" width="5.00" height="5.00" fill="#6e9dde"/><rect x="436.00" y="107.00" width="5.00" height="5.00" fill="#6b97dc"/><rect x="441.00" y="107.00" width="5.00" height="5.00" fill="#678ed8"/><rect x="446.00" y="107.00" width="5.00" height="5.00" fill="#678fd9"/><rect x="451.00" y="107.00" width="5.00" height="5.00" fill="#6183d4"/><rect x="456.00" y="107.00" width="5.00" height="5.00" fill="#6284d5"/><rect x="461.00" y="107.00" width="5.00" height="5.00" fill="#5e77cc"/><rect x="466.00" y="107.00" width="5.00" height="5.00" fill="#5e77cd"/><rect x="471.00" y="107.00" width="5.00" height="5.00" fill="#5b6fc7"/><rect x="476.00" y="107.00" width="5.00" height="5.00" fill="#5864be"/><rect x="481.00" y="107.00" width="5.00" height="5.00" fill="#5760ba"/><rect x="486.00" y="107.00" width="5.00" height="5.00" fill="#5760ba"/><rect x="491.00" y="107.00" width="5.00" height="5.00" fill="#5760ba"/><rect x="496.00" y="107.00" width="5.00" height="5.00" fill="#5760ba"/><rect x="501.00" y="107.00" width="5.00" height="5.00" fill="#5760ba"/><rect x="506.00" y="107.00" width="5.00" height="5.00" fill="#5760ba"/><rect x="511.00" y="107.00" width="5.00" height="5.00" fill="#5760ba"/><rect x="516.00" y="107.00" width="5.00" height="5.00" fill="#5760ba"/><rect x="521.00" y="107.00" width="5.00" height="5.00" fill="#5760ba"/><rect x="526.00" y="107.00" width="5.00" height="5.00" fill="#5760ba"/><rect x="531.00" y="107.00" width="5.00" height="5.00" fill="#5760ba"/><rect x="536.00" y="107.00" width="5.00" height="5.00" fill="#5760ba"/><rect x="541.00" y="107.00" width="5.00" height="5.00" fill="#5760ba"/><rect x="546.00" y="107.00" width="5.00" height="5.00" fill="#5760ba"/><rect x="551.00" y="107.00" width="5.00" height="5.00" fill="#5760ba"/><rect x="556.00" y="107.00" width="5.00" height="5.00" fill="#5760ba"/><rect x="561.00" y="107.00" width="5.00" height="5.00" fill="#5760ba"/><rect x="566.00" y="107.00" width="5.00" height="5.00" fill="#5760ba"/><rect x="571.00" y="107.00" width="5.00" height="5.00" fill="#5760ba"/><rect x="576.00" y="107.00" width="5.00" height="5.00" fill="#5760ba"/><rect x="581.00" y="107.00" width="5.00" height="5.00" fill="#5760ba"/><rect x="366.00" y="112.00" width="5.00" height="5.00" fill="#5050ac"/><rect x="371.00" y="112.00" width="5.00" height="5.00" fill="#5050ac"/><rect x="376.00" y="112.00" width="5.00" height="5.00" fill="#5050ac"/><rect x="381.00" y="112.00" width="5.00" height="5.00" fill="#5050ac"/><rect x="386.00" y="112.00" width="5.00" height="5.00" fill="#5050ac"/><rect x="391.00" y="112.00" width="5.00" height="5.00" fill="#5050ac"/><rect x="396.00" y="112.00" width="5.00" height="5.00" fill="#5050ac"/><rect x="401.00" y="112.00" width="5.00" height="5.00" fill="#5050ac"/><rect x="406.00" y="112.00" width="5.00" height="5.00" fill="#5050ac"/><rect x="411.00" y="112.00" width="5.00" height="5.00" fill="#5050ac"/><rect x="416.00" y="112.00" width="5.00" height="5.00" fill="#71abd3"/><rect x="421.00" y="112.00" width="5.00" height="5.00" fill="#70a7d6"/><rect x="426.00" y="112.00" width="5.00" height="5.00" fill="#6fa3d9"/><rect x="431.00" y="112.00" width="5.00" height="5.00" fill="#70aad4"/><rect x="436.00" y="112.00" width="5.00" height="5.00" fill="#6fa3d9"/><rect x="441.00" y="112.00" width="5.00" height="5.00" fill="#6e9dde"/><rect x="446.00" y="112.00" width="5.00" height="5.00" fill="#6e9edd"/><rect x="451.00" y="112.00" width="5.00" height="5.00" fill="#6890d9"/><rect x="456.00" y="112.00" width="5.00" height="5.00" fill="#6992da"/><rect x="461.00" y="112.00" width="5.00" height="5.00" fill="#6284d5"/><rect x="466.00" y="112.00" width="5.00" height="5.00" fill="#6385d5"/><rect x="471.00" y="112.00" width="5.00" height="5.00" fill="#5f7cd0"/><rect x="476.00" y="112.00" width="5.00" height="5.00" fill="#5968c2"/><rect x="481.00" y="112.00" width="5.00" height="5.00" fill="#5862bc"/><rect x="486.00" y="112.00" width="5.00" height="5.00" fill="#5761bb"/><rect x="491.00" y="112.00" width="5.00" height="5.00" fill="#5862bc"/><rect x="496.00" y="112.00" width="5.00" height="5.00" fill="#5862bc"/><rect x="501.00" y="112.00" width="5.00" height="5.00" fill="#5760ba"/><rect x="506.00" y="112.00" width="5.00" height="5.00" fill="#5760ba"/><rect x="511.00" y="112.00" width="5.00" height="5.00" fill="#5760ba"/><rect x="516.00" y="112.00" width="5.00" height="5.00" fill="#5760ba"/><rect x="521.00" y="112.00" width="5.00" height="5.00" fill="#5760ba"/><rect x="526.00" y="112.00" width="5.00" height="5.00" fill="#5760ba"/><rect x="531.00" y="112.00" width="5.00" height="5.00" fill="#5760ba"/><rect x="536.00" y="112.00" width="5.00" height="5.00" fill="#5760ba"/><rect x="541.00" y="112.00" width="5.00" height="5.00" fill="#5760ba"/><rect x="546.00" y="112.00" width="5.00" height="5.00" fill="#5760ba"/><rect x="551.00" y="112.00" width="5.00" height="5.00" fill="#5760ba"/><rect x="556.00" y="112.00" width="5.00" height="5.00" fill="#5760ba"/><rect x="561.00" y="112.00" width="5.00" height="5.00" fill="#5760ba"/><rect x="566.00" y="112.00" width="5.00" height="5.00" fill="#5760ba"/><rect x="571.00" y="112.00" width="5.00" height="5.00" fill="#5760ba"/><rect x="576.00" y="112.00" width="5.00" height="5.00" fill="#5760ba"/><rect x="581.00" y="112.00" width="5.00" height="5.00" fill="#5760ba"/><rect x="366.00" y="117.00" width="5.00" height="5.00" fill="#5050ac"/><rect x="371.00" y="117.00" width="5.00" height="5.00" fill="#5050ac"/><rect x="376.00" y="117.00" width="5.00" height="5.00" fill="#5050ac"/><rect x="381.00" y="117.00" width="5.00" height="5.00" fill="#5050ac"/><rect x="386.00" y="117.00" width="5.00" height="5.00" fill="#5050ac"/><rect x="391.00" y="117.00" width="5.00" height="5.00" fill="#5050ac"/><rect x="396.00" y="117.00" width="5.00" height="5.00" fill="#5050ac"/><rect x="401.00" y="117.00" width="5.00" height="5.00" fill="#5050ac"/><rect x="406.00" y="117.00" width="5.00" height="5.00" fill="#5050ac"/><rect x="411.00" y="117.00" width="5.00" height="5.00" fill="#5050ac"/><rect x="416.00" y="117.00" width="5.00" height="5.00" fill="#5050ac"/><rect x="421.00" y="117.00" width="5.00" height="5.00" fill="#71b0cf"/><rect x="426.00" y="117.00" width="5.00" height="5.00" fill="#71afd0"/><rect x="431.00" y="117.00" width="5.00" height="5.00" fill="#73b6ca"/><rect x="436.00" y="117.00" width="5.00" height="5.00" fill="#71b0cf"/><rect x="441.00" y="117.00" width="5.00" height="5.00" fill="#70aad4"/><rect x="446.00" y="117.00" width="5.00" height="5.00" fill="#71acd2"/><rect x="451.00" y="117.00" width="5.00" height="5.00" fill="#6ea0dc"/><rect x="456.00" y="117.00" width="5.00" height="5.00" fill="#6fa1db"/><rect x="461.00" y="117.00" width="5.00" height="5.00" fill="#6993da"/><rect x="466.00" y="117.00" width="5.00" height="5.00" fill="#6a94db"/><rect x="471.00" y="117.00" width="5.00" height="5.00" fill="#678ed9"/><rect x="476.00" y="117.00" width="5.00" height="5.00" fill="#5d73ca"/><rect x="481.00" y="117.00" width="5.00" height="5.00" fill="#5a6ac4"/><rect x="486.00" y="117.00" width="5.00" height="5.00" fill="#5966c0"/><rect x="491.00" y="117.00" width="5.00" height="5.00" fill="#5a6ac4"/><rect x="496.00" y="117.00" width="5.00" height="5.00" fill="#5a69c3"/><rect x="501.00" y="117.00" width="5.00" height="5.00" fill="#5862bc"/><rect x="506.00" y="117.00" width="5.00" height="5.00" fill="#5862bc"/><rect x="511.00" y="117.00" width="5.00" height="5.00" fill="#5862bc"/><rect x="516.00" y="117.00" width="5.00" height="5.00" fill="#5862bc"/><rect x="521.00" y="117.00" width="5.00" height="5.00" fill="#5760ba"/><rect x="526.00" y="117.00" width="5.00" height="5.00" fill="#5760ba"/><rect x="531.00" y="117.00" width="5.00" height="5.00" fill="#5760ba"/><rect x="536.00" y="117.00" width="5.00" height="5.00" fill="#5760ba"/><rect x="541.00" y="117.00" width="5.00" height="5.00" fill="#5760ba"/><rect x="546.00" y="117.00" width="5.00" height="5.00" fill="#5760ba"/><rect x="551.00" y="117.00" width="5.00" height="5.00" fill="#5760ba"/><rect x="556.00" y="117.00" width="5.00" height="5.00" fill="#5760ba"/><rect x="561.00" y="117.00" width="5.00" height="5.00" fill="#5760ba"/><rect x="566.00" y="117.00" width="5.00" height="5.00" fill="#5760ba"/><rect x="571.00" y="117.00" width="5.00" height="5.00" fill="#5760ba"/><rect x="576.00" y="117.00" width="5.00" height="5.00" fill="#5760ba"/><rect x="581.00" y="117.00" width="5.00" height="5.00" fill="#5760ba"/><rect x="366.00" y="122.00" width="5.00" height="5.00" fill="#5050ac"/><rect x="371.00" y="122.00" width="5.00" height="5.00" fill="#5050ac"/><rect x="376.00" y="122.00" width="5.00" height="5.00" fill="#5050ac"/><rect x="381.00" y="122.00" width="5.00" height="5.00" fill="#5050ac"/><rect x="386.00" y="122.00" width="5.00" height="5.00" fill="#5050ac"/><rect x="391.00" y="122.00" width="5.00" height="5.00" fill="#5050ac"/><rect x="396.00" y="122.00" width="5.00" height="5.00" fill="#5050ac"/><rect x="401.00" y="122.00" width="5.00" height="5.00" fill="#5050ac"/><rect x="406.00" y="122.00" width="5.00" height="5.00" fill="#5050ac"/><rect x="411.00" y="122.00" width="5.00" height="5.00" fill="#5050ac"/><rect x="416.00" y="122.00" width="5.00" height="5.00" fill="#5050ac"/><rect x="421.00" y="122.00" width="5.00" height="5.00" fill="#5050ac"/><rect x="426.00" y="122.00" width="5.00" height="5.00" fill="#73bac7"/><rect x="431.00" y="122.00" width="5.00" height="5.00" fill="#78c3b4"/><rect x="436.00" y="122.00" width="5.00" height="5.00" fill="#76bebe"/><rect x="441.00" y="122.00" width="5.00" height="5.00" fill="#73b6ca"/><rect x="446.00" y="122.00" width="5.00" height="5.00" fill="#74bac6"/><rect x="451.00" y="122.00" width="5.00" height="5.00" fill="#71afd0"/><rect x="456.00" y="122.00" width="5.00" height="5.00" fill="#72b1ce"/><rect x="461.00" y="122.00" width="5.00" height="5.00" fill="#6fa2da"/><rect x="466.00" y="122.00" width="5.00" height="5.00" fill="#6fa3d9"/><rect x="471.00" y="122.00" width="5.00" height="5.00" fill="#6e9fdc"/><rect x="476.00" y="122.00" width="5.00" height="5.00" fill="#6488d6"/><rect x="481.00" y="122.00" width="5.00" height="5.00" fill="#6182d4"/><rect x="486.00" y="122.00" width="5.00" height="5.00" fill="#5e76cc"/><rect x="491.00" y="122.00" width="5.00" height="5.00" fill="#6182d4"/><rect x="496.00" y="122.00" width="5.00" height="5.00" fill="#607fd2"/><rect x="501.00" y="122.00" width="5.00" height="5.00" fill="#5968c2"/><rect x="506.00" y="122.00" width="5.00" height="5.00" fill="#5967c1"/><rect x="511.00" y="122.00" width="5.00" height="5.00" fill="#5967c1"/><rect x="516.00" y="122.00" width="5.00" height="5.00" fill="#5967c1"/><rect x="521.00" y="122.00" width="5.00" height="5.00" fill="#5862bc"/><rect x="526.00" y="122.00" width="5.00" height="5.00" fill="#5761bb"/><rect x="531.00" y="122.00" width="5.00" height="5.00" fill="#5760ba"/><rect x="536.00" y="122.00" width="5.00" height="5.00" fill="#5760ba"/><rect x="541.00" y="122.00" width="5.00" height="5.00" fill="#5760ba"/><rect x="546.00" y="122.00" width="5.00" height="5.00" fill="#5760ba"/><rect x="551.00" y="122.00" width="5.00" height="5.00" fill="#5760ba"/><rect x="556.00" y="122.00" width="5.00" height="5.00" fill="#5760ba"/><rect x="561.00" y="122.00" width="5.00" height="5.00" fill="#5760ba"/><rect x="566.00" y="122.00" width="5.00" height="5.00" fill="#5760ba"/><rect x="571.00" y="122.00" width="5.00" height="5.00" fill="#5760ba"/><rect x="576.00" y="122.00" width="5.00" height="5.00" fill="#5760ba"/><rect x="581.00" y="122.00" width="5.00" height="5.00" fill="#5760ba"/><rect x="366.00" y="127.00" width="5.00" height="5.00" fill="#5050ac"/><rect x="371.00" y="127.00" width="5.00" height="5.00" fill="#5050ac"/><rect x="376.00" y="127.00" width="5.00" height="5.00" fill="#5050ac"/><rect x="381.00" y="127.00" width="5.00" height="5.00" fill="#5050ac"/><rect x="386.00" y="127.00" width="5.00" height="5.00" fill="#5050ac"/><rect x="391.00" y="127.00" width="5.00" height="5.00" fill="#5050ac"/><rect x="396.00" y="127.00" width="5.00" height="5.00" fill="#5050ac"/><rect x="401.00" y="127.00" width="5.00" height="5.00" fill="#5050ac"/><rect x="406.00" y="127.00" width="5.00" height="5.00" fill="#5050ac"/><rect x="411.00" y="127.00" width="5.00" height="5.00" fill="#5050ac"/><rect x="416.00" y="127.00" width="5.00" height="5.00" fill="#5050ac"/><rect x="421.00" y="127.00" width="5.00" height="5.00" fill="#5050ac"/><rect x="426.00" y="127.00" width="5.00" height="5.00" fill="#5050ac"/><rect x="431.00" y="127.00" width="5.00" height="5.00" fill="#5050ac"/><rect x="436.00" y="127.00" width="5.00" height="5.00" fill="#83c5a1"/><rect x="441.00" y="127.00" width="5.00" height="5.00" fill="#7bc4af"/><rect x="446.00" y="127.00" width="5.00" height="5.00" fill="#80c4a7"/><rect x="451.00" y="127.00" width="5.00" height="5.00" fill="#76bebe"/><rect x="456.00" y="127.00" width="5.00" height="5.00" fill="#77c2b6"/><rect x="461.00" y="127.00" width="5.00" height="5.00" fill="#72b4cc"/><rect x="466.00" y="127.00" width="5.00" height="5.00" fill="#73b6ca"/><rect x="471.00" y="127.00" width="5.00" height="5.00" fill="#72b4cc"/><rect x="476.00" y="127.00" width="5.00" height="5.00" fill="#6d9bdd"/><rect x="481.00" y="127.00" width="5.00" height="5.00" fill="#6b98dc"/><rect x="486.00" y="127.00" width="5.00" height="5.00" fill="#668dd8"/><rect x="491.00" y="127.00" width="5.00" height="5.00" fill="#6b98dc"/><rect x="496.00" y="127.00" width="5.00" height="5.00" fill="#6a95db"/><rect x="501.00" y="127.00" width="5.00" height="5.00" fill="#5f7cd0"/><rect x="506.00" y="127.00" width="5.00" height="5.00" fill="#5e78ce"/><rect x="511.00" y="127.00" width="5.00" height="5.00" fill="#5e77cd"/><rect x="516.00" y="127.00" width="5.00" height="5.00" fill="#5d76cc"/><rect x="521.00" y="127.00" width="5.00" height="5.00" fill="#5966c0"/><rect x="526.00" y="127.00" width="5.00" height="5.00" fill="#5864be"/><rect x="531.00" y="127.00" width="5.00" height="5.00" fill="#5862bc"/><rect x="536.00" y="127.00" width="5.00" height="5.00" fill="#5760ba"/><rect x="541.00" y="127.00" width="5.00" height="5.00" fill="#5760ba"/><rect x="546.00" y="127.00" width="5.00" height="5.00" fill="#5760ba"/><rect x="551.00" y="127.00" width="5.00" height="5.00" fill="#5760ba"/><rect x="556.00" y="127.00" width="5.00" height="5.00" fill="#5760ba"/><rect x="561.00" y="127.00" width="5.00" height="5.00" fill="#5760ba"/><rect x="566.00" y="127.00" width="5.00" height="5.00" fill="#5760ba"/><rect x="571.00" y="127.00" width="5.00" height="5.00" fill="#5760ba"/><rect x="576.00" y="127.00" width="5.00" height="5.00" fill="#5760ba"/><rect x="581.00" y="127.00" width="5.00" height="5.00" fill="#5760ba"/><rect x="366.00" y="132.00" width="5.00" height="5.00" fill="#5050ac"/><rect x="371.00" y="132.00" width="5.00" height="5.00" fill="#5050ac"/><rect x="376.00" y="132.00" width="5.00" height="5.00" fill="#5050ac"/><rect x="381.00" y="132.00" width="5.00" height="5.00" fill="#5050ac"/><rect x="386.00" y="132.00" width="5.00" height="5.00" fill="#5050ac"/><rect x="391.00" y="132.00" width="5.00" height="5.00" fill="#5050ac"/><rect x="396.00" y="132.00" width="5.00" height="5.00" fill="#5050ac"/><rect x="401.00" y="132.00" width="5.00" height="5.00" fill="#5050ac"/><rect x="406.00" y="132.00" width="5.00" height="5.00" fill="#5050ac"/><rect x="411.00" y="132.00" width="5.00" height="5.00" fill="#5050ac"/><rect x="416.00" y="132.00" width="5.00" height="5.00" fill="#5050ac"/><rect x="421.00" y="132.00" width="5.00" height="5.00" fill="#5050ac"/><rect x="426.00" y="132.00" width="5.00" height="5.00" fill="#5050ac"/><rect x="431.00" y="132.00" width="5.00" height="5.00" fill="#5050ac"/><rect x="436.00" y="132.00" width="5.00" height="5.00" fill="#5050ac"/><rect x="441.00" y="132.00" width="5.00" height="5.00" fill="#8ec78e"/><rect x="446.00" y="132.00" width="5.00" height="5.00" fill="#92c788"/><rect x="451.00" y="132.00" width="5.00" height="5.00" fill="#85c59f"/><rect x="456.00" y="132.00" width="5.00" height="5.00" fill="#89c697"/><rect x="461.00" y="132.00" width="5.00" height="5.00" fill="#7bc4af"/><rect x="466.00" y="132.00" width="5.00" height="5.00" fill="#80c4a8"/><rect x="471.00" y="132.00" width="5.00" height="5.00" fill="#7ec4aa"/><rect x="476.00" y="132.00" width="5.00" height="5.00" fill="#72b2cd"/><rect x="481.00" y="132.00" width="5.00" height="5.00" fill="#71b0cf"/><rect x="486.00" y="132.00" width="5.00" height="5.00" fill="#6fa3d9"/><rect x="491.00" y="132.00" width="5.00" height="5.00" fill="#71b0cf"/><rect x="496.00" y="132.00" width="5.00" height="5.00" fill="#71add1"/><rect x="501.00" y="132.00" width="5.00" height="5.00" fill="#6993da"/><rect x="506.00" y="132.00" width="5.00" height="5.00" fill="#6890d9"/><rect x="511.00" y="132.00" width="5.00" height="5.00" fill="#678ed9"/><rect x="516.00" y="132.00" width="5.00" height="5.00" fill="#668dd8"/><rect x="521.00" y="132.00" width="5.00" height="5.00" fill="#5c72c9"/><rect x="526.00" y="132.00" width="5.00" height="5.00" fill="#5b6cc5"/><rect x="531.00" y="132.00" width="5.00" height="5.00" fill="#5967c1"/><rect x="536.00" y="132.00" width="5.00" height="5.00" fill="#5862bc"/><rect x="541.00" y="132.00" width="5.00" height="5.00" fill="#5862bc"/><rect x="546.00" y="132.00" width="5.00" height="5.00" fill="#5862bc"/><rect x="551.00" y="132.00" width="5.00" height="5.00" fill="#5761bb"/><rect x="556.00" y="132.00" width="5.00" height="5.00" fill="#5760ba"/><rect x="561.00" y="132.00" width="5.00" height="5.00" fill="#5760ba"/><rect x="566.00" y="132.00" width="5.00" height="5.00" fill="#5760ba"/><rect x="571.00" y="132.00" width="5.00" height="5.00" fill="#5760ba"/><rect x="576.00" y="132.00" width="5.00" height="5.00" fill="#5760ba"/><rect x="581.00" y="132.00" width="5.00" height="5.00" fill="#5760ba"/><rect x="366.00" y="137.00" width="5.00" height="5.00" fill="#5050ac"/><rect x="371.00" y="137.00" width="5.00" height="5.00" fill="#5050ac"/><rect x="376.00" y="137.00" width="5.00" height="5.00" fill="#5050ac"/><rect x="381.00" y="137.00" width="5.00" height="5.00" fill="#5050ac"/><rect x="386.00" y="137.00" width="5.00" height="5.00" fill="#5050ac"/><rect x="391.00" y="137.00" width="5.00" height="5.00" fill="#5050ac"/><rect x="396.00" y="137.00" width="5.00" height="5.00" fill="#5050ac"/><rect x="401.00" y="137.00" width="5.00" height="5.00" fill="#5050ac"/><rect x="406.00" y="137.00" width="5.00" height="5.00" fill="#5050ac"/><rect x="411.00" y="137.00" width="5.00" height="5.00" fill="#5050ac"/><rect x="416.00" y="137.00" width="5.00" height="5.00" fill="#5050ac"/><rect x="421.00" y="137.00" width="5.00" height="5.00" fill="#5050ac"/><rect x="426.00" y="137.00" width="5.00" height="5.00" fill="#5050ac"/><rect x="431.00" y="137.00" width="5.00" height="5.00" fill="#5050ac"/><rect x="436.00" y="137.00" width="5.00" height="5.00" fill="#5050ac"/><rect x="441.00" y="137.00" width="5.00" height="5.00" fill="#5050ac"/><rect x="446.00" y="137.00" width="5.00" height="5.00" fill="#5050ac"/><rect x="451.00" y="137.00" width="5.00" height="5.00" fill="#96c882"/><rect x="456.00" y="137.00" width="5.00" height="5.00" fill="#9ac87e"/><rect x="461.00" y="137.00" width="5.00" height="5.00" fill="#8ec78f"/><rect x="466.00" y="137.00" width="5.00" height="5.00" fill="#93c887"/><rect x="471.00" y="137.00" width="5.00" height="5.00" fill="#94c885"/><rect x="476.00" y="137.00" width="5.00" height="5.00" fill="#7cc4ac"/><rect x="481.00" y="137.00" width="5.00" height="5.00" fill="#7bc4af"/><rect x="486.00" y="137.00" width="5.00" height="5.00" fill="#74bcc3"/><rect x="491.00" y="137.00" width="5.00" height="5.00" fill="#7cc4ac"/><rect x="496.00" y="137.00" width="5.00" height="5.00" fill="#7bc4af"/><rect x="501.00" y="137.00" width="5.00" height="5.00" fill="#70aad4"/><rect x="506.00" y="137.00" width="5.00" height="5.00" fill="#70a7d6"/><rect x="511.00" y="137.00" width="5.00" height="5.00" fill="#6fa5d8"/><rect x="516.00" y="137.00" width="5.00" height="5.00" fill="#6fa3d9"/><rect x="521.00" y="137.00" width="5.00" height="5.00" fill="#658ad7"/><rect x="526.00" y="137.00" width="5.00" height="5.00" fill="#6182d4"/><rect x="531.00" y="137.00" width="5.00" height="5.00" fill="#5e78ce"/><rect x="536.00" y="137.00" width="5.00" height="5.00" fill="#5967c1"/><rect x="541.00" y="137.00" width="5.00" height="5.00" fill="#5967c1"/><rect x="546.00" y="137.00" width="5.00" height="5.00" fill="#5967c1"/><rect x="551.00" y="137.00" width="5.00" height="5.00" fill="#5865bf"/><rect x="556.00" y="137.00" width="5.00" height="5.00" fill="#5760ba"/><rect x="561.00" y="137.00" width="5.00" height="5.00" fill="#5760ba"/><rect x="566.00" y="137.00" width="5.00" height="5.00" fill="#5760ba"/><rect x="571.00" y="137.00" width="5.00" height="5.00" fill="#5761bb"/><rect x="576.00" y="137.00" width="5.00" height="5.00" fill="#5760ba"/><rect x="581.00" y="137.00" width="5.00" height="5.00" fill="#5760ba"/><rect x="366.00" y="142.00" width="5.00" height="5.00" fill="#5050ac"/><rect x="371.00" y="142.00" width="5.00" height="5.00" fill="#5050ac"/><rect x="376.00" y="142.00" width="5.00" height="5.00" fill="#5050ac"/><rect x="381.00" y="142.00" width="5.00" height="5.00" fill="#5050ac"/><rect x="386.00" y="142.00" width="5.00" height="5.00" fill="#5050ac"/><rect x="391.00" y="142.00" width="5.00" height="5.00" fill="#5050ac"/><rect x="396.00" y="142.00" width="5.00" height="5.00" fill="#5050ac"/><rect x="401.00" y="142.00" width="5.00" height="5.00" fill="#5050ac"/><rect x="406.00" y="142.00" width="5.00" height="5.00" fill="#5050ac"/><rect x="411.00" y="142.00" width="5.00" height="5.00" fill="#5050ac"/><rect x="416.00" y="142.00" width="5.00" height="5.00" fill="#5050ac"/><rect x="421.00" y="142.00" width="5.00" height="5.00" fill="#5050ac"/><rect x="426.00" y="142.00" width="5.00" height="5.00" fill="#5050ac"/><rect x="431.00" y="142.00" width="5.00" height="5.00" fill="#5050ac"/><rect x="436.00" y="142.00" width="5.00" height="5.00" fill="#5050ac"/><rect x="441.00" y="142.00" width="5.00" height="5.00" fill="#5050ac"/><rect x="446.00" y="142.00" width="5.00" height="5.00" fill="#5050ac"/><rect x="451.00" y="142.00" width="5.00" height="5.00" fill="#5050ac"/><rect x="456.00" y="142.00" width="5.00" height="5.00" fill="#5050ac"/><rect x="461.00" y="142.00" width="5.00" height="5.00" fill="#9fc87a"/><rect x="466.00" y="142.00" width="5.00" height="5.00" fill="#a3c877"/><rect x="471.00" y="142.00" width="5.00" height="5.00" fill="#a8c872"/><rect x="476.00" y="142.00" width="5.00" height="5.00" fill="#95c884"/><rect x="481.00" y="142.00" width="5.00" height="5.00" fill="#96c882"/><rect x="486.00" y="142.00" width="5.00" height="5.00" fill="#88c698"/><rect x="491.00" y="142.00" width="5.00" height="5.00" fill="#96c882"/><rect x="496.00" y="142.00" width="5.00" height="5.00" fill="#96c882"/><rect x="501.00" y="142.00" width="5.00" height="5.00" fill="#7ac3b2"/><rect x="506.00" y="142.00" width="5.00" height="5.00" fill="#78c3b4"/><rect x="511.00" y="142.00" width="5.00" height="5.00" fill="#76c0ba"/><rect x="516.00" y="142.00" width="5.00" height="5.00" fill="#75bdc0"/><rect x="521.00" y="142.00" width="5.00" height="5.00" fill="#6ea0dc"/><rect x="526.00" y="142.00" width="5.00" height="5.00" fill="#6d9bdd"/><rect x="531.00" y="142.00" width="5.00" height="5.00" fill="#6a94db"/><rect x="536.00" y="142.00" width="5.00" height="5.00" fill="#5d76cc"/><rect x="541.00" y="142.00" width="5.00" height="5.00" fill="#5d74ca"/><rect x="546.00" y="142.00" width="5.00" height="5.00" fill="#5d74ca"/><rect x="551.00" y="142.00" width="5.00" height="5.00" fill="#5c72c9"/><rect x="556.00" y="142.00" width="5.00" height="5.00" fill="#5862bc"/><rect x="561.00" y="142.00" width="5.00" height="5.00" fill="#5862bc"/><rect x="566.00" y="142.00" width="5.00" height="5.00" fill="#5864be"/><rect x="571.00" y="142.00" width="5.00" height="5.00" fill="#5865bf"/><rect x="576.00" y="142.00" width="5.00" height="5.00" fill="#5761bb"/><rect x="581.00" y="142.00" width="5.00" height="5.00" fill="#5761bb"/><rect x="366.00" y="147.00" width="5.00" height="5.00" fill="#5050ac"/><rect x="371.00" y="147.00" width="5.00" height="5.00" fill="#5050ac"/><rect x="376.00" y="147.00" width="5.00" height="5.00" fill="#5050ac"/><rect x="381.00" y="147.00" width="5.00" height="5.00" fill="#5050ac"/><rect x="386.00" y="147.00" width="5.00" height="5.00" fill="#5050ac"/><rect x="391.00" y="147.00" width="5.00" height="5.00" fill="#5050ac"/><rect x="396.00" y="147.00" width="5.00" height="5.00" fill="#5050ac"/><rect x="401.00" y="147.00" width="5.00" height="5.00" fill="#5050ac"/><rect x="406.00" y="147.00" width="5.00" height="5.00" fill="#5050ac"/><rect x="411.00" y="147.00" width="5.00" height="5.00" fill="#5050ac"/><rect x="416.00" y="147.00" width="5.00" height="5.00" fill="#5050ac"/><rect x="421.00" y="147.00" width="5.00" height="5.00" fill="#5050ac"/><rect x="426.00" y="147.00" width="5.00" height="5.00" fill="#5050ac"/><rect x="431.00" y="147.00" width="5.00" height="5.00" fill="#5050ac"/><rect x="436.00" y="147.00" width="5.00" height="5.00" fill="#5050ac"/><rect x="441.00" y="147.00" width="5.00" height="5.00" fill="#5050ac"/><rect x="446.00" y="147.00" width="5.00" height="5.00" fill="#5050ac"/><rect x="451.00" y="147.00" width="5.00" height="5.00" fill="#5050ac"/><rect x="456.00" y="147.00" width="5.00" height="5.00" fill="#5050ac"/><rect x="461.00" y="147.00" width="5.00" height="5.00" fill="#5050ac"/><rect x="466.00" y="147.00" width="5.00" height="5.00" fill="#5050ac"/><rect x="471.00" y="147.00" width="5.00" height="5.00" fill="#5050ac"/><rect x="476.00" y="147.00" width="5.00" height="5.00" fill="#adc86d"/><rect x="481.00" y="147.00" width="5.00" height="5.00" fill="#b3c869"/><rect x="486.00" y="147.00" width="5.00" height="5.00" fill="#a8c873"/><rect x="491.00" y="147.00" width="5.00" height="5.00" fill="#b9c863"/><rect x="496.00" y="147.00" width="5.00" height="5.00" fill="#b9c863"/><rect x="501.00" y="147.00" width="5.00" height="5.00" fill="#96c882"/><rect x="506.00" y="147.00" width="5.00" height="5.00" fill="#96c882"/><rect x="511.00" y="147.00" width="5.00" height="5.00" fill="#92c788"/><rect x="516.00" y="147.00" width="5.00" height="5.00" fill="#8ec78e"/><rect x="521.00" y="147.00" width="5.00" height="5.00" fill="#75bdc0"/><rect x="526.00" y="147.00" width="5.00" height="5.00" fill="#73b9c8"/><rect x="531.00" y="147.00" width="5.00" height="5.00" fill="#72b4cc"/><rect x="536.00" y="147.00" width="5.00" height="5.00" fill="#6a94db"/><rect x="541.00" y="147.00" width="5.00" height="5.00" fill="#6992da"/><rect x="546.00" y="147.00" width="5.00" height="5.00" fill="#6992da"/><rect x="551.00" y="147.00" width="5.00" height="5.00" fill="#6a94db"/><rect x="556.00" y="147.00" width="5.00" height="5.00" fill="#5a6ac4"/><rect x="561.00" y="147.00" width="5.00" height="5.00" fill="#5b6cc5"/><rect x="566.00" y="147.00" width="5.00" height="5.00" fill="#5b6fc7"/><rect x="571.00" y="147.00" width="5.00" height="5.00" fill="#5d74ca"/><rect x="576.00" y="147.00" width="5.00" height="5.00" fill="#5865bf"/><rect x="581.00" y="147.00" width="5.00" height="5.00" fill="#5865bf"/><rect x="366.00" y="152.00" width="5.00" height="5.00" fill="#5050ac"/><rect x="371.00" y="152.00" width="5.00" height="5.00" fill="#5050ac"/><rect x="376.00" y="152.00" width="5.00" height="5.00" fill="#5050ac"/><rect x="381.00" y="152.00" width="5.00" height="5.00" fill="#5050ac"/><rect x="386.00" y="152.00" width="5.00" height="5.00" fill="#5050ac"/><rect x="391.00" y="152.00" width="5.00" height="5.00" fill="#5050ac"/><rect x="396.00" y="152.00" width="5.00" height="5.00" fill="#5050ac"/><rect x="401.00" y="152.00" width="5.00" height="5.00" fill="#5050ac"/><rect x="406.00" y="152.00" width="5.00" height="5.00" fill="#5050ac"/><rect x="411.00" y="152.00" width="5.00" height="5.00" fill="#5050ac"/><rect x="416.00" y="152.00" width="5.00" height="5.00" fill="#5050ac"/><rect x="421.00" y="152.00" width="5.00" height="5.00" fill="#5050ac"/><rect x="426.00" y="152.00" width="5.00" height="5.00" fill="#5050ac"/><rect x="431.00" y="152.00" width="5.00" height="5.00" fill="#5050ac"/><rect x="436.00" y="152.00" width="5.00" height="5.00" fill="#5050ac"/><rect x="441.00" y="152.00" width="5.00" height="5.00" fill="#5050ac"/><rect x="446.00" y="152.00" width="5.00" height="5.00" fill="#5050ac"/><rect x="451.00" y="152.00" width="5.00" height="5.00" fill="#5050ac"/><rect x="456.00" y="152.00" width="5.00" height="5.00" fill="#5050ac"/><rect x="461.00" y="152.00" width="5.00" height="5.00" fill="#5050ac"/><rect x="466.00" y="152.00" width="5.00" height="5.00" fill="#5050ac"/><rect x="471.00" y="152.00" width="5.00" height="5.00" fill="#5050ac"/><rect x="476.00" y="152.00" width="5.00" height="5.00" fill="#5050ac"/><rect x="481.00" y="152.00" width="5.00" height="5.00" fill="#5457b2"/><rect x="486.00" y="152.00" width="5.00" height="5.00" fill="#d1c054"/><rect x="491.00" y="152.00" width="5.00" height="5.00" fill="#e8b448"/><rect x="496.00" y="152.00" width="5.00" height="5.00" fill="#e8b448"/><rect x="501.00" y="152.00" width="5.00" height="5.00" fill="#b9c863"/><rect x="506.00" y="152.00" width="5.00" height="5.00" fill="#b9c863"/><rect x="511.00" y="152.00" width="5.00" height="5.00" fill="#b4c868"/><rect x="516.00" y="152.00" width="5.00" height="5.00" fill="#aec86d"/><rect x="521.00" y="152.00" width="5.00" height="5.00" fill="#96c882"/><rect x="526.00" y="152.00" width="5.00" height="5.00" fill="#96c882"/><rect x="531.00" y="152.00" width="5.00" height="5.00" fill="#8ec78e"/><rect x="536.00" y="152.00" width="5.00" height="5.00" fill="#73b6ca"/><rect x="541.00" y="152.00" width="5.00" height="5.00" fill="#73b6ca"/><rect x="546.00" y="152.00" width="5.00" height="5.00" fill="#73b6ca"/><rect x="551.00" y="152.00" width="5.00" height="5.00" fill="#73b9c8"/><rect x="556.00" y="152.00" width="5.00" height="5.00" fill="#668dd8"/><rect x="561.00" y="152.00" width="5.00" height="5.00" fill="#6992da"/><rect x="566.00" y="152.00" width="5.00" height="5.00" fill="#6d9bdd"/><rect x="571.00" y="152.00" width="5.00" height="5.00" fill="#6fa3d9"/><rect x="576.00" y="152.00" width="5.00" height="5.00" fill="#5d74ca"/><rect x="581.00" y="152.00" width="5.00" height="5.00" fill="#5d74ca"/><rect x="366.00" y="157.00" width="5.00" height="5.00" fill="#5050ac"/><rect x="371.00" y="157.00" width="5.00" height="5.00" fill="#5050ac"/><rect x="376.00" y="157.00" width="5.00" height="5.00" fill="#5050ac"/><rect x="381.00" y="157.00" width="5.00" height="5.00" fill="#5050ac"/><rect x="386.00" y="157.00" width="5.00" height="5.00" fill="#5050ac"/><rect x="391.00" y="157.00" width="5.00" height="5.00" fill="#5050ac"/><rect x="396.00" y="157.00" width="5.00" height="5.00" fill="#5050ac"/><rect x="401.00" y="157.00" width="5.00" height="5.00" fill="#5050ac"/><rect x="406.00" y="157.00" width="5.00" height="5.00" fill="#5050ac"/><rect x="411.00" y="157.00" width="5.00" height="5.00" fill="#5050ac"/><rect x="416.00" y="157.00" width="5.00" height="5.00" fill="#5050ac"/><rect x="421.00" y="157.00" width="5.00" height="5.00" fill="#5050ac"/><rect x="426.00" y="157.00" width="5.00" height="5.00" fill="#5050ac"/><rect x="431.00" y="157.00" width="5.00" height="5.00" fill="#5050ac"/><rect x="436.00" y="157.00" width="5.00" height="5.00" fill="#5050ac"/><rect x="441.00" y="157.00" width="5.00" height="5.00" fill="#5050ac"/><rect x="446.00" y="157.00" width="5.00" height="5.00" fill="#5050ac"/><rect x="451.00" y="157.00" width="5.00" height="5.00" fill="#5050ac"/><rect x="456.00" y="157.00" width="5.00" height="5.00" fill="#5050ac"/><rect x="461.00" y="157.00" width="5.00" height="5.00" fill="#5050ac"/><rect x="466.00" y="157.00" width="5.00" height="5.00" fill="#5050ac"/><rect x="471.00" y="157.00" width="5.00" height="5.00" fill="#5050ac"/><rect x="476.00" y="157.00" width="5.00" height="5.00" fill="#5050ac"/><rect x="481.00" y="157.00" width="5.00" height="5.00" fill="#5152ae"/><rect x="486.00" y="157.00" width="5.00" height="5.00" fill="#565eb8"/><rect x="491.00" y="157.00" width="5.00" height="5.00" fill="#5864be"/><rect x="496.00" y="157.00" width="5.00" height="5.00" fill="#5a6bc4"/><rect x="501.00" y="157.00" width="5.00" height="5.00" fill="#e8b448"/><rect x="506.00" y="157.00" width="5.00" height="5.00" fill="#e8b448"/><rect x="511.00" y="157.00" width="5.00" height="5.00" fill="#e9b646"/><rect x="516.00" y="157.00" width="5.00" height="5.00" fill="#eab845"/><rect x="521.00" y="157.00" width="5.00" height="5.00" fill="#ecbc42"/><rect x="526.00" y="157.00" width="5.00" height="5.00" fill="#eab845"/><rect x="531.00" y="157.00" width="5.00" height="5.00" fill="#e2b74b"/><rect x="536.00" y="157.00" width="5.00" height="5.00" fill="#96c882"/><rect x="541.00" y="157.00" width="5.00" height="5.00" fill="#9ec87b"/><rect x="546.00" y="157.00" width="5.00" height="5.00" fill="#9ec87b"/><rect x="551.00" y="157.00" width="5.00" height="5.00" fill="#b6c866"/><rect x="556.00" y="157.00" width="5.00" height="5.00" fill="#72b4cc"/><rect x="561.00" y="157.00" width="5.00" height="5.00" fill="#73b9c8"/><rect x="566.00" y="157.00" width="5.00" height="5.00" fill="#77c0b9"/><rect x="571.00" y="157.00" width="5.00" height="5.00" fill="#80c4a8"/><rect x="576.00" y="157.00" width="5.00" height="5.00" fill="#6fa3d9"/><rect x="581.00" y="157.00" width="5.00" height="5.00" fill="#6fa3d9"/><rect x="366.00" y="162.00" width="5.00" height="5.00" fill="#5050ac"/><rect x="371.00" y="162.00" width="5.00" height="5.00" fill="#5050ac"/><rect x="376.00" y="162.00" width="5.00" height="5.00" fill="#5050ac"/><rect x="381.00" y="162.00" width="5.00" height="5.00" fill="#5050ac"/><rect x="386.00" y="162.00" width="5.00" height="5.00" fill="#5050ac"/><rect x="391.00" y="162.00" width="5.00" height="5.00" fill="#5050ac"/><rect x="396.00" y="162.00" width="5.00" height="5.00" fill="#5050ac"/><rect x="401.00" y="162.00" width="5.00" height="5.00" fill="#5050ac"/><rect x="406.00" y="162.00" width="5.00" height="5.00" fill="#5050ac"/><rect x="411.00" y="162.00" width="5.00" height="5.00" fill="#5050ac"/><rect x="416.00" y="162.00" width="5.00" height="5.00" fill="#5050ac"/><rect x="421.00" y="162.00" width="5.00" height="5.00" fill="#5050ac"/><rect x="426.00" y="162.00" width="5.00" height="5.00" fill="#5050ac"/><rect x="431.00" y="162.00" width="5.00" height="5.00" fill="#5050ac"/><rect x="436.00" y="162.00" width="5.00" height="5.00" fill="#5050ac"/><rect x="441.00" y="162.00" width="5.00" height="5.00" fill="#5050ac"/><rect x="446.00" y="162.00" width="5.00" height="5.00" fill="#5050ac"/><rect x="451.00" y="162.00" width="5.00" height="5.00" fill="#5050ac"/><rect x="456.00" y="162.00" width="5.00" height="5.00" fill="#5050ac"/><rect x="461.00" y="162.00" width="5.00" height="5.00" fill="#5050ac"/><rect x="466.00" y="162.00" width="5.00" height="5.00" fill="#5050ac"/><rect x="471.00" y="162.00" width="5.00" height="5.00" fill="#5050ac"/><rect x="476.00" y="162.00" width="5.00" height="5.00" fill="#5050ac"/><rect x="481.00" y="162.00" width="5.00" height="5.00" fill="#5152ae"/><rect x="486.00" y="162.00" width="5.00" height="5.00" fill="#5254af"/><rect x="491.00" y="162.00" width="5.00" height="5.00" fill="#5356b1"/><rect x="496.00" y="162.00" width="5.00" height="5.00" fill="#5458b2"/><rect x="501.00" y="162.00" width="5.00" height="5.00" fill="#5d75cb"/><rect x="506.00" y="162.00" width="5.00" height="5.00" fill="#607fd2"/><rect x="511.00" y="162.00" width="5.00" height="5.00" fill="#607fd2"/><rect x="516.00" y="162.00" width="5.00" height="5.00" fill="#607fd2"/><rect x="521.00" y="162.00" width="5.00" height="5.00" fill="#f0e246"/><rect x="526.00" y="162.00" width="5.00" height="5.00" fill="#f0e246"/><rect x="531.00" y="162.00" width="5.00" height="5.00" fill="#f0e246"/><rect x="536.00" y="162.00" width="5.00" height="5.00" fill="#eab845"/><rect x="541.00" y="162.00" width="5.00" height="5.00" fill="#ecbc42"/><rect x="546.00" y="162.00" width="5.00" height="5.00" fill="#ebba44"/><rect x="551.00" y="162.00" width="5.00" height="5.00" fill="#edc440"/><rect x="556.00" y="162.00" width="5.00" height="5.00" fill="#efd641"/><rect x="561.00" y="162.00" width="5.00" height="5.00" fill="#eecb3f"/><rect x="566.00" y="162.00" width="5.00" height="5.00" fill="#ecbc42"/><rect x="571.00" y="162.00" width="5.00" height="5.00" fill="#e8b448"/><rect x="576.00" y="162.00" width="5.00" height="5.00" fill="#80c4a8"/><rect x="581.00" y="162.00" width="5.00" height="5.00" fill="#80c4a8"/><rect x="366.00" y="167.00" width="5.00" height="5.00" fill="#5050ac"/><rect x="371.00" y="167.00" width="5.00" height="5.00" fill="#5050ac"/><rect x="376.00" y="167.00" width="5.00" height="5.00" fill="#5050ac"/><rect x="381.00" y="167.00" width="5.00" height="5.00" fill="#5050ac"/><rect x="386.00" y="167.00" width="5.00" height="5.00" fill="#5050ac"/><rect x="391.00" y="167.00" width="5.00" height="5.00" fill="#5050ac"/><rect x="396.00" y="167.00" width="5.00" height="5.00" fill="#5050ac"/><rect x="401.00" y="167.00" width="5.00" height="5.00" fill="#5050ac"/><rect x="406.00" y="167.00" width="5.00" height="5.00" fill="#5050ac"/><rect x="411.00" y="167.00" width="5.00" height="5.00" fill="#5050ac"/><rect x="416.00" y="167.00" width="5.00" height="5.00" fill="#5050ac"/><rect x="421.00" y="167.00" width="5.00" height="5.00" fill="#5050ac"/><rect x="426.00" y="167.00" width="5.00" height="5.00" fill="#5050ac"/><rect x="431.00" y="167.00" width="5.00" height="5.00" fill="#5050ac"/><rect x="436.00" y="167.00" width="5.00" height="5.00" fill="#5050ac"/><rect x="441.00" y="167.00" width="5.00" height="5.00" fill="#5050ac"/><rect x="446.00" y="167.00" width="5.00" height="5.00" fill="#5050ac"/><rect x="451.00" y="167.00" width="5.00" height="5.00" fill="#5050ac"/><rect x="456.00" y="167.00" width="5.00" height="5.00" fill="#5050ac"/><rect x="461.00" y="167.00" width="5.00" height="5.00" fill="#5050ac"/><rect x="466.00" y="167.00" width="5.00" height="5.00" fill="#5050ac"/><rect x="471.00" y="167.00" width="5.00" height="5.00" fill="#5050ac"/><rect x="476.00" y="167.00" width="5.00" height="5.00" fill="#5050ac"/><rect x="481.00" y="167.00" width="5.00" height="5.00" fill="#5152ae"/><rect x="486.00" y="167.00" width="5.00" height="5.00" fill="#5254af"/><rect x="491.00" y="167.00" width="5.00" height="5.00" fill="#5356b1"/><rect x="496.00" y="167.00" width="5.00" height="5.00" fill="#5458b2"/><rect x="501.00" y="167.00" width="5.00" height="5.00" fill="#5459b3"/><rect x="506.00" y="167.00" width="5.00" height="5.00" fill="#555ab4"/><rect x="511.00" y="167.00" width="5.00" height="5.00" fill="#555ab4"/><rect x="516.00" y="167.00" width="5.00" height="5.00" fill="#555bb5"/><rect x="521.00" y="167.00" width="5.00" height="5.00" fill="#6080d2"/><rect x="526.00" y="167.00" width="5.00" height="5.00" fill="#6080d3"/><rect x="531.00" y="167.00" width="5.00" height="5.00" fill="#6080d3"/><rect x="536.00" y="167.00" width="5.00" height="5.00" fill="#f0e246"/><rect x="541.00" y="167.00" width="5.00" height="5.00" fill="#f0e246"/><rect x="546.00" y="167.00" width="5.00" height="5.00" fill="#f0e246"/><rect x="551.00" y="167.00" width="5.00" height="5.00" fill="#f0e246"/><rect x="556.00" y="167.00" width="5.00" height="5.00" fill="#f0e246"/><rect x="561.00" y="167.00" width="5.00" height="5.00" fill="#f0e246"/><rect x="566.00" y="167.00" width="5.00" height="5.00" fill="#f0e246"/><rect x="571.00" y="167.00" width="5.00" height="5.00" fill="#f0e246"/><rect x="576.00" y="167.00" width="5.00" height="5.00" fill="#e8b448"/><rect x="581.00" y="167.00" width="5.00" height="5.00" fill="#e8b448"/><rect x="366.00" y="172.00" width="5.00" height="5.00" fill="#5050ac"/><rect x="371.00" y="172.00" width="5.00" height="5.00" fill="#5050ac"/><rect x="376.00" y="172.00" width="5.00" height="5.00" fill="#5050ac"/><rect x="381.00" y="172.00" width="5.00" height="5.00" fill="#5050ac"/><rect x="386.00" y="172.00" width="5.00" height="5.00" fill="#5050ac"/><rect x="391.00" y="172.00" width="5.00" height="5.00" fill="#5050ac"/><rect x="396.00" y="172.00" width="5.00" height="5.00" fill="#5050ac"/><rect x="401.00" y="172.00" width="5.00" height="5.00" fill="#5050ac"/><rect x="406.00" y="172.00" width="5.00" height="5.00" fill="#5050ac"/><rect x="411.00" y="172.00" width="5.00" height="5.00" fill="#5050ac"/><rect x="416.00" y="172.00" width="5.00" height="5.00" fill="#5050ac"/><rect x="421.00" y="172.00" width="5.00" height="5.00" fill="#5050ac"/><rect x="426.00" y="172.00" width="5.00" height="5.00" fill="#5050ac"/><rect x="431.00" y="172.00" width="5.00" height="5.00" fill="#5050ac"/><rect x="436.00" y="172.00" width="5.00" height="5.00" fill="#5050ac"/><rect x="441.00" y="172.00" width="5.00" height="5.00" fill="#5050ac"/><rect x="446.00" y="172.00" width="5.00" height="5.00" fill="#5050ac"/><rect x="451.00" y="172.00" width="5.00" height="5.00" fill="#5050ac"/><rect x="456.00" y="172.00" width="5.00" height="5.00" fill="#5050ac"/><rect x="461.00" y="172.00" width="5.00" height="5.00" fill="#5050ac"/><rect x="466.00" y="172.00" width="5.00" height="5.00" fill="#5050ac"/><rect x="471.00" y="172.00" width="5.00" height="5.00" fill="#5050ac"/><rect x="476.00" y="172.00" width="5.00" height="5.00" fill="#5050ac"/><rect x="481.00" y="172.00" width="5.00" height="5.00" fill="#5152ae"/><rect x="486.00" y="172.00" width="5.00" height="5.00" fill="#5254af"/><rect x="491.00" y="172.00" width="5.00" height="5.00" fill="#5356b1"/><rect x="496.00" y="172.00" width="5.00" height="5.00" fill="#5458b2"/><rect x="501.00" y="172.00" width="5.00" height="5.00" fill="#5459b3"/><rect x="506.00" y="172.00" width="5.00" height="5.00" fill="#555ab4"/><rect x="511.00" y="172.00" width="5.00" height="5.00" fill="#555ab4"/><rect x="516.00" y="172.00" width="5.00" height="5.00" fill="#555bb5"/><rect x="521.00" y="172.00" width="5.00" height="5.00" fill="#565cb6"/><rect x="526.00" y="172.00" width="5.00" height="5.00" fill="#565cb6"/><rect x="531.00" y="172.00" width="5.00" height="5.00" fill="#565cb6"/><rect x="536.00" y="172.00" width="5.00" height="5.00" fill="#6080d3"/><rect x="541.00" y="172.00" width="5.00" height="5.00" fill="#6180d3"/><rect x="546.00" y="172.00" width="5.00" height="5.00" fill="#6181d3"/><rect x="551.00" y="172.00" width="5.00" height="5.00" fill="#6181d3"/><rect x="556.00" y="172.00" width="5.00" height="5.00" fill="#f0e246"/><rect x="561.00" y="172.00" width="5.00" height="5.00" fill="#f0e246"/><rect x="566.00" y="172.00" width="5.00" height="5.00" fill="#f0e246"/><rect x="571.00" y="172.00" width="5.00" height="5.00" fill="#f0e246"/><rect x="576.00" y="172.00" width="5.00" height="5.00" fill="#f0e246"/><rect x="581.00" y="172.00" width="5.00" height="5.00" fill="#f0e246"/><rect x="366.00" y="177.00" width="5.00" height="5.00" fill="#5050ac"/><rect x="371.00" y="177.00" width="5.00" height="5.00" fill="#5050ac"/><rect x="376.00" y="177.00" width="5.00" height="5.00" fill="#5050ac"/><rect x="381.00" y="177.00" width="5.00" height="5.00" fill="#5050ac"/><rect x="386.00" y="177.00" width="5.00" height="5.00" fill="#5050ac"/><rect x="391.00" y="177.00" width="5.00" height="5.00" fill="#5050ac"/><rect x="396.00" y="177.00" width="5.00" height="5.00" fill="#5050ac"/><rect x="401.00" y="177.00" width="5.00" height="5.00" fill="#5050ac"/><rect x="406.00" y="177.00" width="5.00" height="5.00" fill="#5050ac"/><rect x="411.00" y="177.00" width="5.00" height="5.00" fill="#5050ac"/><rect x="416.00" y="177.00" width="5.00" height="5.00" fill="#5050ac"/><rect x="421.00" y="177.00" width="5.00" height="5.00" fill="#5050ac"/><rect x="426.00" y="177.00" width="5.00" height="5.00" fill="#5050ac"/><rect x="431.00" y="177.00" width="5.00" height="5.00" fill="#5050ac"/><rect x="436.00" y="177.00" width="5.00" height="5.00" fill="#5050ac"/><rect x="441.00" y="177.00" width="5.00" height="5.00" fill="#5050ac"/><rect x="446.00" y="177.00" width="5.00" height="5.00" fill="#5050ac"/><rect x="451.00" y="177.00" width="5.00" height="5.00" fill="#5050ac"/><rect x="456.00" y="177.00" width="5.00" height="5.00" fill="#5050ac"/><rect x="461.00" y="177.00" width="5.00" height="5.00" fill="#5050ac"/><rect x="466.00" y="177.00" width="5.00" height="5.00" fill="#5050ac"/><rect x="471.00" y="177.00" width="5.00" height="5.00" fill="#5050ac"/><rect x="476.00" y="177.00" width="5.00" height="5.00" fill="#5050ac"/><rect x="481.00" y="177.00" width="5.00" height="5.00" fill="#5152ae"/><rect x="486.00" y="177.00" width="5.00" height="5.00" fill="#5254af"/><rect x="491.00" y="177.00" width="5.00" height="5.00" fill="#5356b1"/><rect x="496.00" y="177.00" width="5.00" height="5.00" fill="#5458b2"/><rect x="501.00" y="177.00" width="5.00" height="5.00" fill="#5459b3"/><rect x="506.00" y="177.00" width="5.00" height="5.00" fill="#555ab4"/><rect x="511.00" y="177.00" width="5.00" height="5.00" fill="#555ab4"/><rect x="516.00" y="177.00" width="5.00" height="5.00" fill="#555bb5"/><rect x="521.00" y="177.00" width="5.00" height="5.00" fill="#565cb6"/><rect x="526.00" y="177.00" width="5.00" height="5.00" fill="#565cb6"/><rect x="531.00" y="177.00" width="5.00" height="5.00" fill="#565cb6"/><rect x="536.00" y="177.00" width="5.00" height="5.00" fill="#565cb6"/><rect x="541.00" y="177.00" width="5.00" height="5.00" fill="#565cb6"/><rect x="546.00" y="177.00" width="5.00" height="5.00" fill="#565cb6"/><rect x="551.00" y="177.00" width="5.00" height="5.00" fill="#565db7"/><rect x="556.00" y="177.00" width="5.00" height="5.00" fill="#6181d3"/><rect x="561.00" y="177.00" width="5.00" height="5.00" fill="#6181d3"/><rect x="566.00" y="177.00" width="5.00" height="5.00" fill="#6181d4"/><rect x="571.00" y="177.00" width="5.00" height="5.00" fill="#6181d4"/><rect x="576.00" y="177.00" width="5.00" height="5.00" fill="#f0e246"/><rect x="581.00" y="177.00" width="5.00" height="5.00" fill="#f0e246"/><rect x="366.00" y="182.00" width="5.00" height="5.00" fill="#5050ac"/><rect x="371.00" y="182.00" width="5.00" height="5.00" fill="#5050ac"/><rect x="376.00" y="182.00" width="5.00" height="5.00" fill="#5050ac"/><rect x="381.00" y="182.00" width="5.00" height="5.00" fill="#5050ac"/><rect x="386.00" y="182.00" width="5.00" height="5.00" fill="#5050ac"/><rect x="391.00" y="182.00" width="5.00" height="5.00" fill="#5050ac"/><rect x="396.00" y="182.00" width="5.00" height="5.00" fill="#5050ac"/><rect x="401.00" y="182.00" width="5.00" height="5.00" fill="#5050ac"/><rect x="406.00" y="182.00" width="5.00" height="5.00" fill="#5050ac"/><rect x="411.00" y="182.00" width="5.00" height="5.00" fill="#5050ac"/><rect x="416.00" y="182.00" width="5.00" height="5.00" fill="#5050ac"/><rect x="421.00" y="182.00" width="5.00" height="5.00" fill="#5050ac"/><rect x="426.00" y="182.00" width="5.00" height="5.00" fill="#5050ac"/><rect x="431.00" y="182.00" width="5.00" height="5.00" fill="#5050ac"/><rect x="436.00" y="182.00" width="5.00" height="5.00" fill="#5050ac"/><rect x="441.00" y="182.00" width="5.00" height="5.00" fill="#5050ac"/><rect x="446.00" y="182.00" width="5.00" height="5.00" fill="#5050ac"/><rect x="451.00" y="182.00" width="5.00" height="5.00" fill="#5050ac"/><rect x="456.00" y="182.00" width="5.00" height="5.00" fill="#5050ac"/><rect x="461.00" y="182.00" width="5.00" height="5.00" fill="#5050ac"/><rect x="466.00" y="182.00" width="5.00" height="5.00" fill="#5050ac"/><rect x="471.00" y="182.00" width="5.00" height="5.00" fill="#5050ac"/><rect x="476.00" y="182.00" width="5.00" height="5.00" fill="#5050ac"/><rect x="481.00" y="182.00" width="5.00" height="5.00" fill="#5152ae"/><rect x="486.00" y="182.00" width="5.00" height="5.00" fill="#5254af"/><rect x="491.00" y="182.00" width="5.00" height="5.00" fill="#5356b1"/><rect x="496.00" y="182.00" width="5.00" height="5.00" fill="#5458b2"/><rect x="501.00" y="182.00" width="5.00" height="5.00" fill="#5459b3"/><rect x="506.00" y="182.00" width="5.00" height="5.00" fill="#555ab4"/><rect x="511.00" y="182.00" width="5.00" height="5.00" fill="#555ab4"/><rect x="516.00" y="182.00" width="5.00" height="5.00" fill="#555bb5"/><rect x="521.00" y="182.00" width="5.00" height="5.00" fill="#565cb6"/><rect x="526.00" y="182.00" width="5.00" height="5.00" fill="#565cb6"/><rect x="531.00" y="182.00" width="5.00" height="5.00" fill="#565cb6"/><rect x="536.00" y="182.00" width="5.00" height="5.00" fill="#565cb6"/><rect x="541.00" y="182.00" width="5.00" height="5.00" fill="#565cb6"/><rect x="546.00" y="182.00" width="5.00" height="5.00" fill="#565cb6"/><rect x="551.00" y="182.00" width="5.00" height="5.00" fill="#565db7"/><rect x="556.00" y="182.00" width="5.00" height="5.00" fill="#565db7"/><rect x="561.00" y="182.00" width="5.00" height="5.00" fill="#565db7"/><rect x="566.00" y="182.00" width="5.00" height="5.00" fill="#565db7"/><rect x="571.00" y="182.00" width="5.00" height="5.00" fill="#565db7"/><rect x="576.00" y="182.00" width="5.00" height="5.00" fill="#6182d4"/><rect x="581.00" y="182.00" width="5.00" height="5.00" fill="#6182d4"/><rect x="366.00" y="187.00" width="5.00" height="5.00" fill="#5050ac"/><rect x="371.00" y="187.00" width="5.00" height="5.00" fill="#5050ac"/><rect x="376.00" y="187.00" width="5.00" height="5.00" fill="#5050ac"/><rect x="381.00" y="187.00" width="5.00" height="5.00" fill="#5050ac"/><rect x="386.00" y="187.00" width="5.00" height="5.00" fill="#5050ac"/><rect x="391.00" y="187.00" width="5.00" height="5.00" fill="#5050ac"/><rect x="396.00" y="187.00" width="5.00" height="5.00" fill="#5050ac"/><rect x="401.00" y="187.00" width="5.00" height="5.00" fill="#5050ac"/><rect x="406.00" y="187.00" width="5.00" height="5.00" fill="#5050ac"/><rect x="411.00" y="187.00" width="5.00" height="5.00" fill="#5050ac"/><rect x="416.00" y="187.00" width="5.00" height="5.00" fill="#5050ac"/><rect x="421.00" y="187.00" width="5.00" height="5.00" fill="#5050ac"/><rect x="426.00" y="187.00" width="5.00" height="5.00" fill="#5050ac"/><rect x="431.00" y="187.00" width="5.00" height="5.00" fill="#5050ac"/><rect x="436.00" y="187.00" width="5.00" height="5.00" fill="#5050ac"/><rect x="441.00" y="187.00" width="5.00" height="5.00" fill="#5050ac"/><rect x="446.00" y="187.00" width="5.00" height="5.00" fill="#5050ac"/><rect x="451.00" y="187.00" width="5.00" height="5.00" fill="#5050ac"/><rect x="456.00" y="187.00" width="5.00" height="5.00" fill="#5050ac"/><rect x="461.00" y="187.00" width="5.00" height="5.00" fill="#5050ac"/><rect x="466.00" y="187.00" width="5.00" height="5.00" fill="#5050ac"/><rect x="471.00" y="187.00" width="5.00" height="5.00" fill="#5050ac"/><rect x="476.00" y="187.00" width="5.00" height="5.00" fill="#5050ac"/><rect x="481.00" y="187.00" width="5.00" height="5.00" fill="#5152ae"/><rect x="486.00" y="187.00" width="5.00" height="5.00" fill="#5254af"/><rect x="491.00" y="187.00" width="5.00" height="5.00" fill="#5356b1"/><rect x="496.00" y="187.00" width="5.00" height="5.00" fill="#5458b2"/><rect x="501.00" y="187.00" width="5.00" height="5.00" fill="#5459b3"/><rect x="506.00" y="187.00" width="5.00" height="5.00" fill="#555ab4"/><rect x="511.00" y="187.00" width="5.00" height="5.00" fill="#555ab4"/><rect x="516.00" y="187.00" width="5.00" height="5.00" fill="#555bb5"/><rect x="521.00" y="187.00" width="5.00" height="5.00" fill="#565cb6"/><rect x="526.00" y="187.00" width="5.00" height="5.00" fill="#565cb6"/><rect x="531.00" y="187.00" width="5.00" height="5.00" fill="#565cb6"/><rect x="536.00" y="187.00" width="5.00" height="5.00" fill="#565cb6"/><rect x="541.00" y="187.00" width="5.00" height="5.00" fill="#565cb6"/><rect x="546.00" y="187.00" width="5.00" height="5.00" fill="#565cb6"/><rect x="551.00" y="187.00" width="5.00" height="5.00" fill="#565db7"/><rect x="556.00" y="187.00" width="5.00" height="5.00" fill="#565db7"/><rect x="561.00" y="187.00" width="5.00" height="5.00" fill="#565db7"/><rect x="566.00" y="187.00" width="5.00" height="5.00" fill="#565db7"/><rect x="571.00" y="187.00" width="5.00" height="5.00" fill="#565db7"/><rect x="576.00" y="187.00" width="5.00" height="5.00" fill="#565db7"/><rect x="581.00" y="187.00" width="5.00" height="5.00" fill="#565db7"/><rect x="366.00" y="192.00" width="5.00" height="5.00" fill="#5050ac"/><rect x="371.00" y="192.00" width="5.00" height="5.00" fill="#5050ac"/><rect x="376.00" y="192.00" width="5.00" height="5.00" fill="#5050ac"/><rect x="381.00" y="192.00" width="5.00" height="5.00" fill="#5050ac"/><rect x="386.00" y="192.00" width="5.00" height="5.00" fill="#5050ac"/><rect x="391.00" y="192.00" width="5.00" height="5.00" fill="#5050ac"/><rect x="396.00" y="192.00" width="5.00" height="5.00" fill="#5050ac"/><rect x="401.00" y="192.00" width="5.00" height="5.00" fill="#5050ac"/><rect x="406.00" y="192.00" width="5.00" height="5.00" fill="#5050ac"/><rect x="411.00" y="192.00" width="5.00" height="5.00" fill="#5050ac"/><rect x="416.00" y="192.00" width="5.00" height="5.00" fill="#5050ac"/><rect x="421.00" y="192.00" width="5.00" height="5.00" fill="#5050ac"/><rect x="426.00" y="192.00" width="5.00" height="5.00" fill="#5050ac"/><rect x="431.00" y="192.00" width="5.00" height="5.00" fill="#5050ac"/><rect x="436.00" y="192.00" width="5.00" height="5.00" fill="#5050ac"/><rect x="441.00" y="192.00" width="5.00" height="5.00" fill="#5050ac"/><rect x="446.00" y="192.00" width="5.00" height="5.00" fill="#5050ac"/><rect x="451.00" y="192.00" width="5.00" height="5.00" fill="#5050ac"/><rect x="456.00" y="192.00" width="5.00" height="5.00" fill="#5050ac"/><rect x="461.00" y="192.00" width="5.00" height="5.00" fill="#5050ac"/><rect x="466.00" y="192.00" width="5.00" height="5.00" fill="#5050ac"/><rect x="471.00" y="192.00" width="5.00" height="5.00" fill="#5050ac"/><rect x="476.00" y="192.00" width="5.00" height="5.00" fill="#5050ac"/><rect x="481.00" y="192.00" width="5.00" height="5.00" fill="#5152ae"/><rect x="486.00" y="192.00" width="5.00" height="5.00" fill="#5254af"/><rect x="491.00" y="192.00" width="5.00" height="5.00" fill="#5356b1"/><rect x="496.00" y="192.00" width="5.00" height="5.00" fill="#5458b2"/><rect x="501.00" y="192.00" width="5.00" height="5.00" fill="#5459b3"/><rect x="506.00" y="192.00" width="5.00" height="5.00" fill="#555ab4"/><rect x="511.00" y="192.00" width="5.00" height="5.00" fill="#555ab4"/><rect x="516.00" y="192.00" width="5.00" height="5.00" fill="#555bb5"/><rect x="521.00" y="192.00" width="5.00" height="5.00" fill="#565cb6"/><rect x="526.00" y="192.00" width="5.00" height="5.00" fill="#565cb6"/><rect x="531.00" y="192.00" width="5.00" height="5.00" fill="#565cb6"/><rect x="536.00" y="192.00" width="5.00" height="5.00" fill="#565cb6"/><rect x="541.00" y="192.00" width="5.00" height="5.00" fill="#565cb6"/><rect x="546.00" y="192.00" width="5.00" height="5.00" fill="#565cb6"/><rect x="551.00" y="192.00" width="5.00" height="5.00" fill="#565db7"/><rect x="556.00" y="192.00" width="5.00" height="5.00" fill="#565db7"/><rect x="561.00" y="192.00" width="5.00" height="5.00" fill="#565db7"/><rect x="566.00" y="192.00" width="5.00" height="5.00" fill="#565db7"/><rect x="571.00" y="192.00" width="5.00" height="5.00" fill="#565db7"/><rect x="576.00" y="192.00" width="5.00" height="5.00" fill="#565db7"/><rect x="581.00" y="192.00" width="5.00" height="5.00" fill="#565db7"/><rect x="366.00" y="197.00" width="5.00" height="5.00" fill="#5050ac"/><rect x="371.00" y="197.00" width="5.00" height="5.00" fill="#5050ac"/><rect x="376.00" y="197.00" width="5.00" height="5.00" fill="#5050ac"/><rect x="381.00" y="197.00" width="5.00" height="5.00" fill="#5050ac"/><rect x="386.00" y="197.00" width="5.00" height="5.00" fill="#5050ac"/><rect x="391.00" y="197.00" width="5.00" height="5.00" fill="#5050ac"/><rect x="396.00" y="197.00" width="5.00" height="5.00" fill="#5050ac"/><rect x="401.00" y="197.00" width="5.00" height="5.00" fill="#5050ac"/><rect x="406.00" y="197.00" width="5.00" height="5.00" fill="#5050ac"/><rect x="411.00" y="197.00" width="5.00" height="5.00" fill="#5050ac"/><rect x="416.00" y="197.00" width="5.00" height="5.00" fill="#5050ac"/><rect x="421.00" y="197.00" width="5.00" height="5.00" fill="#5050ac"/><rect x="426.00" y="197.00" width="5.00" height="5.00" fill="#5050ac"/><rect x="431.00" y="197.00" width="5.00" height="5.00" fill="#5050ac"/><rect x="436.00" y="197.00" width="5.00" height="5.00" fill="#5050ac"/><rect x="441.00" y="197.00" width="5.00" height="5.00" fill="#5050ac"/><rect x="446.00" y="197.00" width="5.00" height="5.00" fill="#5050ac"/><rect x="451.00" y="197.00" width="5.00" height="5.00" fill="#5050ac"/><rect x="456.00" y="197.00" width="5.00" height="5.00" fill="#5050ac"/><rect x="461.00" y="197.00" width="5.00" height="5.00" fill="#5050ac"/><rect x="466.00" y="197.00" width="5.00" height="5.00" fill="#5050ac"/><rect x="471.00" y="197.00" width="5.00" height="5.00" fill="#5050ac"/><rect x="476.00" y="197.00" width="5.00" height="5.00" fill="#5050ac"/><rect x="481.00" y="197.00" width="5.00" height="5.00" fill="#5152ae"/><rect x="486.00" y="197.00" width="5.00" height="5.00" fill="#5254af"/><rect x="491.00" y="197.00" width="5.00" height="5.00" fill="#5356b1"/><rect x="496.00" y="197.00" width="5.00" height="5.00" fill="#5458b2"/><rect x="501.00" y="197.00" width="5.00" height="5.00" fill="#5459b3"/><rect x="506.00" y="197.00" width="5.00" height="5.00" fill="#555ab4"/><rect x="511.00" y="197.00" width="5.00" height="5.00" fill="#555ab4"/><rect x="516.00" y="197.00" width="5.00" height="5.00" fill="#555bb5"/><rect x="521.00" y="197.00" width="5.00" height="5.00" fill="#565cb6"/><rect x="526.00" y="197.00" width="5.00" height="5.00" fill="#565cb6"/><rect x="531.00" y="197.00" width="5.00" height="5.00" fill="#565cb6"/><rect x="536.00" y="197.00" width="5.00" height="5.00" fill="#565cb6"/><rect x="541.00" y="197.00" width="5.00" height="5.00" fill="#565cb6"/><rect x="546.00" y="197.00" width="5.00" height="5.00" fill="#565cb6"/><rect x="551.00" y="197.00" width="5.00" height="5.00" fill="#565db7"/><rect x="556.00" y="197.00" width="5.00" height="5.00" fill="#565db7"/><rect x="561.00" y="197.00" width="5.00" height="5.00" fill="#565db7"/><rect x="566.00" y="197.00" width="5.00" height="5.00" fill="#565db7"/><rect x="571.00" y="197.00" width="5.00" height="5.00" fill="#565db7"/><rect x="576.00" y="197.00" width="5.00" height="5.00" fill="#565db7"/><rect x="581.00" y="197.00" width="5.00" height="5.00" fill="#565db7"/><rect x="366.00" y="202.00" width="5.00" height="5.00" fill="#5050ac"/><rect x="371.00" y="202.00" width="5.00" height="5.00" fill="#5050ac"/><rect x="376.00" y="202.00" width="5.00" height="5.00" fill="#5050ac"/><rect x="381.00" y="202.00" width="5.00" height="5.00" fill="#5050ac"/><rect x="386.00" y="202.00" width="5.00" height="5.00" fill="#5050ac"/><rect x="391.00" y="202.00" width="5.00" height="5.00" fill="#5050ac"/><rect x="396.00" y="202.00" width="5.00" height="5.00" fill="#5050ac"/><rect x="401.00" y="202.00" width="5.00" height="5.00" fill="#5050ac"/><rect x="406.00" y="202.00" width="5.00" height="5.00" fill="#5050ac"/><rect x="411.00" y="202.00" width="5.00" height="5.00" fill="#5050ac"/><rect x="416.00" y="202.00" width="5.00" height="5.00" fill="#5050ac"/><rect x="421.00" y="202.00" width="5.00" height="5.00" fill="#5050ac"/><rect x="426.00" y="202.00" width="5.00" height="5.00" fill="#5050ac"/><rect x="431.00" y="202.00" width="5.00" height="5.00" fill="#5050ac"/><rect x="436.00" y="202.00" width="5.00" height="5.00" fill="#5050ac"/><rect x="441.00" y="202.00" width="5.00" height="5.00" fill="#5050ac"/><rect x="446.00" y="202.00" width="5.00" height="5.00" fill="#5050ac"/><rect x="451.00" y="202.00" width="5.00" height="5.00" fill="#5050ac"/><rect x="456.00" y="202.00" width="5.00" height="5.00" fill="#5050ac"/><rect x="461.00" y="202.00" width="5.00" height="5.00" fill="#5050ac"/><rect x="466.00" y="202.00" width="5.00" height="5.00" fill="#5050ac"/><rect x="471.00" y="202.00" width="5.00" height="5.00" fill="#5050ac"/><rect x="476.00" y="202.00" width="5.00" height="5.00" fill="#5050ac"/><rect x="481.00" y="202.00" width="5.00" height="5.00" fill="#5152ae"/><rect x="486.00" y="202.00" width="5.00" height="5.00" fill="#5254af"/><rect x="491.00" y="202.00" width="5.00" height="5.00" fill="#5356b1"/><rect x="496.00" y="202.00" width="5.00" height="5.00" fill="#5458b2"/><rect x="501.00" y="202.00" width="5.00" height="5.00" fill="#5459b3"/><rect x="506.00" y="202.00" width="5.00" height="5.00" fill="#555ab4"/><rect x="511.00" y="202.00" width="5.00" height="5.00" fill="#555ab4"/><rect x="516.00" y="202.00" width="5.00" height="5.00" fill="#555bb5"/><rect x="521.00" y="202.00" width="5.00" height="5.00" fill="#565cb6"/><rect x="526.00" y="202.00" width="5.00" height="5.00" fill="#565cb6"/><rect x="531.00" y="202.00" width="5.00" height="5.00" fill="#565cb6"/><rect x="536.00" y="202.00" width="5.00" height="5.00" fill="#565cb6"/><rect x="541.00" y="202.00" width="5.00" height="5.00" fill="#565cb6"/><rect x="546.00" y="202.00" width="5.00" height="5.00" fill="#565cb6"/><rect x="551.00" y="202.00" width="5.00" height="5.00" fill="#565db7"/><rect x="556.00" y="202.00" width="5.00" height="5.00" fill="#565db7"/><rect x="561.00" y="202.00" width="5.00" height="5.00" fill="#565db7"/><rect x="566.00" y="202.00" width="5.00" height="5.00" fill="#565db7"/><rect x="571.00" y="202.00" width="5.00" height="5.00" fill="#565db7"/><rect x="576.00" y="202.00" width="5.00" height="5.00" fill="#565db7"/><rect x="581.00" y="202.00" width="5.00" height="5.00" fill="#565db7"/><rect x="366.00" y="207.00" width="5.00" height="5.00" fill="#5050ac"/><rect x="371.00" y="207.00" width="5.00" height="5.00" fill="#5050ac"/><rect x="376.00" y="207.00" width="5.00" height="5.00" fill="#5050ac"/><rect x="381.00" y="207.00" width="5.00" height="5.00" fill="#5050ac"/><rect x="386.00" y="207.00" width="5.00" height="5.00" fill="#5050ac"/><rect x="391.00" y="207.00" width="5.00" height="5.00" fill="#5050ac"/><rect x="396.00" y="207.00" width="5.00" height="5.00" fill="#5050ac"/><rect x="401.00" y="207.00" width="5.00" height="5.00" fill="#5050ac"/><rect x="406.00" y="207.00" width="5.00" height="5.00" fill="#5050ac"/><rect x="411.00" y="207.00" width="5.00" height="5.00" fill="#5050ac"/><rect x="416.00" y="207.00" width="5.00" height="5.00" fill="#5050ac"/><rect x="421.00" y="207.00" width="5.00" height="5.00" fill="#5050ac"/><rect x="426.00" y="207.00" width="5.00" height="5.00" fill="#5050ac"/><rect x="431.00" y="207.00" width="5.00" height="5.00" fill="#5050ac"/><rect x="436.00" y="207.00" width="5.00" height="5.00" fill="#5050ac"/><rect x="441.00" y="207.00" width="5.00" height="5.00" fill="#5050ac"/><rect x="446.00" y="207.00" width="5.00" height="5.00" fill="#5050ac"/><rect x="451.00" y="207.00" width="5.00" height="5.00" fill="#5050ac"/><rect x="456.00" y="207.00" width="5.00" height="5.00" fill="#5050ac"/><rect x="461.00" y="207.00" width="5.00" height="5.00" fill="#5050ac"/><rect x="466.00" y="207.00" width="5.00" height="5.00" fill="#5050ac"/><rect x="471.00" y="207.00" width="5.00" height="5.00" fill="#5050ac"/><rect x="476.00" y="207.00" width="5.00" height="5.00" fill="#5050ac"/><rect x="481.00" y="207.00" width="5.00" height="5.00" fill="#5152ae"/><rect x="486.00" y="207.00" width="5.00" height="5.00" fill="#5254af"/><rect x="491.00" y="207.00" width="5.00" height="5.00" fill="#5356b1"/><rect x="496.00" y="207.00" width="5.00" height="5.00" fill="#5458b2"/><rect x="501.00" y="207.00" width="5.00" height="5.00" fill="#5459b3"/><rect x="506.00" y="207.00" width="5.00" height="5.00" fill="#555ab4"/><rect x="511.00" y="207.00" width="5.00" height="5.00" fill="#555ab4"/><rect x="516.00" y="207.00" width="5.00" height="5.00" fill="#555bb5"/><rect x="521.00" y="207.00" width="5.00" height="5.00" fill="#565cb6"/><rect x="526.00" y="207.00" width="5.00" height="5.00" fill="#565cb6"/><rect x="531.00" y="207.00" width="5.00" height="5.00" fill="#565cb6"/><rect x="536.00" y="207.00" width="5.00" height="5.00" fill="#565cb6"/><rect x="541.00" y="207.00" width="5.00" height="5.00" fill="#565cb6"/><rect x="546.00" y="207.00" width="5.00" height="5.00" fill="#565cb6"/><rect x="551.00" y="207.00" width="5.00" height="5.00" fill="#565db7"/><rect x="556.00" y="207.00" width="5.00" height="5.00" fill="#565db7"/><rect x="561.00" y="207.00" width="5.00" height="5.00" fill="#565db7"/><rect x="566.00" y="207.00" width="5.00" height="5.00" fill="#565db7"/><rect x="571.00" y="207.00" width="5.00" height="5.00" fill="#565db7"/><rect x="576.00" y="207.00" width="5.00" height="5.00" fill="#565db7"/><rect x="581.00" y="207.00" width="5.00" height="5.00" fill="#565db7"/><rect x="366.00" y="212.00" width="5.00" height="5.00" fill="#5050ac"/><rect x="371.00" y="212.00" width="5.00" height="5.00" fill="#5050ac"/><rect x="376.00" y="212.00" width="5.00" height="5.00" fill="#5050ac"/><rect x="381.00" y="212.00" width="5.00" height="5.00" fill="#5050ac"/><rect x="386.00" y="212.00" width="5.00" height="5.00" fill="#5050ac"/><rect x="391.00" y="212.00" width="5.00" height="5.00" fill="#5050ac"/><rect x="396.00" y="212.00" width="5.00" height="5.00" fill="#5050ac"/><rect x="401.00" y="212.00" width="5.00" height="5.00" fill="#5050ac"/><rect x="406.00" y="212.00" width="5.00" height="5.00" fill="#5050ac"/><rect x="411.00" y="212.00" width="5.00" height="5.00" fill="#5050ac"/><rect x="416.00" y="212.00" width="5.00" height="5.00" fill="#5050ac"/><rect x="421.00" y="212.00" width="5.00" height="5.00" fill="#5050ac"/><rect x="426.00" y="212.00" width="5.00" height="5.00" fill="#5050ac"/><rect x="431.00" y="212.00" width="5.00" height="5.00" fill="#5050ac"/><rect x="436.00" y="212.00" width="5.00" height="5.00" fill="#5050ac"/><rect x="441.00" y="212.00" width="5.00" height="5.00" fill="#5050ac"/><rect x="446.00" y="212.00" width="5.00" height="5.00" fill="#5050ac"/><rect x="451.00" y="212.00" width="5.00" height="5.00" fill="#5050ac"/><rect x="456.00" y="212.00" width="5.00" height="5.00" fill="#5050ac"/><rect x="461.00" y="212.00" width="5.00" height="5.00" fill="#5050ac"/><rect x="466.00" y="212.00" width="5.00" height="5.00" fill="#5050ac"/><rect x="471.00" y="212.00" width="5.00" height="5.00" fill="#5050ac"/><rect x="476.00" y="212.00" width="5.00" height="5.00" fill="#5050ac"/><rect x="481.00" y="212.00" width="5.00" height="5.00" fill="#5152ae"/><rect x="486.00" y="212.00" width="5.00" height="5.00" fill="#5254af"/><rect x="491.00" y="212.00" width="5.00" height="5.00" fill="#5356b1"/><rect x="496.00" y="212.00" width="5.00" height="5.00" fill="#5458b2"/><rect x="501.00" y="212.00" width="5.00" height="5.00" fill="#5459b3"/><rect x="506.00" y="212.00" width="5.00" height="5.00" fill="#555ab4"/><rect x="511.00" y="212.00" width="5.00" height="5.00" fill="#555ab4"/><rect x="516.00" y="212.00" width="5.00" height="5.00" fill="#555bb5"/><rect x="521.00" y="212.00" width="5.00" height="5.00" fill="#565cb6"/><rect x="526.00" y="212.00" width="5.00" height="5.00" fill="#565cb6"/><rect x="531.00" y="212.00" width="5.00" height="5.00" fill="#565cb6"/><rect x="536.00" y="212.00" width="5.00" height="5.00" fill="#565cb6"/><rect x="541.00" y="212.00" width="5.00" height="5.00" fill="#565cb6"/><rect x="546.00" y="212.00" width="5.00" height="5.00" fill="#565cb6"/><rect x="551.00" y="212.00" width="5.00" height="5.00" fill="#565db7"/><rect x="556.00" y="212.00" width="5.00" height="5.00" fill="#565db7"/><rect x="561.00" y="212.00" width="5.00" height="5.00" fill="#565db7"/><rect x="566.00" y="212.00" width="5.00" height="5.00" fill="#565db7"/><rect x="571.00" y="212.00" width="5.00" height="5.00" fill="#565db7"/><rect x="576.00" y="212.00" width="5.00" height="5.00" fill="#565db7"/><rect x="581.00" y="212.00" width="5.00" height="5.00" fill="#565db7"/><rect x="366.00" y="217.00" width="5.00" height="5.00" fill="#5050ac"/><rect x="371.00" y="217.00" width="5.00" height="5.00" fill="#5050ac"/><rect x="376.00" y="217.00" width="5.00" height="5.00" fill="#5050ac"/><rect x="381.00" y="217.00" width="5.00" height="5.00" fill="#5050ac"/><rect x="386.00" y="217.00" width="5.00" height="5.00" fill="#5050ac"/><rect x="391.00" y="217.00" width="5.00" height="5.00" fill="#5050ac"/><rect x="396.00" y="217.00" width="5.00" height="5.00" fill="#5050ac"/><rect x="401.00" y="217.00" width="5.00" height="5.00" fill="#5050ac"/><rect x="406.00" y="217.00" width="5.00" height="5.00" fill="#5050ac"/><rect x="411.00" y="217.00" width="5.00" height="5.00" fill="#5050ac"/><rect x="416.00" y="217.00" width="5.00" height="5.00" fill="#5050ac"/><rect x="421.00" y="217.00" width="5.00" height="5.00" fill="#5050ac"/><rect x="426.00" y="217.00" width="5.00" height="5.00" fill="#5050ac"/><rect x="431.00" y="217.00" width="5.00" height="5.00" fill="#5050ac"/><rect x="436.00" y="217.00" width="5.00" height="5.00" fill="#5050ac"/><rect x="441.00" y="217.00" width="5.00" height="5.00" fill="#5050ac"/><rect x="446.00" y="217.00" width="5.00" height="5.00" fill="#5050ac"/><rect x="451.00" y="217.00" width="5.00" height="5.00" fill="#5050ac"/><rect x="456.00" y="217.00" width="5.00" height="5.00" fill="#5050ac"/><rect x="461.00" y="217.00" width="5.00" height="5.00" fill="#5050ac"/><rect x="466.00" y="217.00" width="5.00" height="5.00" fill="#5050ac"/><rect x="471.00" y="217.00" width="5.00" height="5.00" fill="#5050ac"/><rect x="476.00" y="217.00" width="5.00" height="5.00" fill="#5050ac"/><rect x="481.00" y="217.00" width="5.00" height="5.00" fill="#5152ae"/><rect x="486.00" y="217.00" width="5.00" height="5.00" fill="#5254af"/><rect x="491.00" y="217.00" width="5.00" height="5.00" fill="#5356b1"/><rect x="496.00" y="217.00" width="5.00" height="5.00" fill="#5458b2"/><rect x="501.00" y="217.00" width="5.00" height="5.00" fill="#5459b3"/><rect x="506.00" y="217.00" width="5.00" height="5.00" fill="#555ab4"/><rect x="511.00" y="217.00" width="5.00" height="5.00" fill="#555ab4"/><rect x="516.00" y="217.00" width="5.00" height="5.00" fill="#555bb5"/><rect x="521.00" y="217.00" width="5.00" height="5.00" fill="#565cb6"/><rect x="526.00" y="217.00" width="5.00" height="5.00" fill="#565cb6"/><rect x="531.00" y="217.00" width="5.00" height="5.00" fill="#565cb6"/><rect x="536.00" y="217.00" width="5.00" height="5.00" fill="#565cb6"/><rect x="541.00" y="217.00" width="5.00" height="5.00" fill="#565cb6"/><rect x="546.00" y="217.00" width="5.00" height="5.00" fill="#565cb6"/><rect x="551.00" y="217.00" width="5.00" height="5.00" fill="#565db7"/><rect x="556.00" y="217.00" width="5.00" height="5.00" fill="#565db7"/><rect x="561.00" y="217.00" width="5.00" height="5.00" fill="#565db7"/><rect x="566.00" y="217.00" width="5.00" height="5.00" fill="#565db7"/><rect x="571.00" y="217.00" width="5.00" height="5.00" fill="#565db7"/><rect x="576.00" y="217.00" width="5.00" height="5.00" fill="#565db7"/><rect x="581.00" y="217.00" width="5.00" height="5.00" fill="#565db7"/><rect x="366.00" y="222.00" width="5.00" height="5.00" fill="#5050ac"/><rect x="371.00" y="222.00" width="5.00" height="5.00" fill="#5050ac"/><rect x="376.00" y="222.00" width="5.00" height="5.00" fill="#5050ac"/><rect x="381.00" y="222.00" width="5.00" height="5.00" fill="#5050ac"/><rect x="386.00" y="222.00" width="5.00" height="5.00" fill="#5050ac"/><rect x="391.00" y="222.00" width="5.00" height="5.00" fill="#5050ac"/><rect x="396.00" y="222.00" width="5.00" height="5.00" fill="#5050ac"/><rect x="401.00" y="222.00" width="5.00" height="5.00" fill="#5050ac"/><rect x="406.00" y="222.00" width="5.00" height="5.00" fill="#5050ac"/><rect x="411.00" y="222.00" width="5.00" height="5.00" fill="#5050ac"/><rect x="416.00" y="222.00" width="5.00" height="5.00" fill="#5050ac"/><rect x="421.00" y="222.00" width="5.00" height="5.00" fill="#5050ac"/><rect x="426.00" y="222.00" width="5.00" height="5.00" fill="#5050ac"/><rect x="431.00" y="222.00" width="5.00" height="5.00" fill="#5050ac"/><rect x="436.00" y="222.00" width="5.00" height="5.00" fill="#5050ac"/><rect x="441.00" y="222.00" width="5.00" height="5.00" fill="#5050ac"/><rect x="446.00" y="222.00" width="5.00" height="5.00" fill="#5050ac"/><rect x="451.00" y="222.00" width="5.00" height="5.00" fill="#5050ac"/><rect x="456.00" y="222.00" width="5.00" height="5.00" fill="#5050ac"/><rect x="461.00" y="222.00" width="5.00" height="5.00" fill="#5050ac"/><rect x="466.00" y="222.00" width="5.00" height="5.00" fill="#5050ac"/><rect x="471.00" y="222.00" width="5.00" height="5.00" fill="#5050ac"/><rect x="476.00" y="222.00" width="5.00" height="5.00" fill="#5050ac"/><rect x="481.00" y="222.00" width="5.00" height="5.00" fill="#5152ae"/><rect x="486.00" y="222.00" width="5.00" height="5.00" fill="#5254af"/><rect x="491.00" y="222.00" width="5.00" height="5.00" fill="#5356b1"/><rect x="496.00" y="222.00" width="5.00" height="5.00" fill="#5458b2"/><rect x="501.00" y="222.00" width="5.00" height="5.00" fill="#5459b3"/><rect x="506.00" y="222.00" width="5.00" height="5.00" fill="#555ab4"/><rect x="511.00" y="222.00" width="5.00" height="5.00" fill="#555ab4"/><rect x="516.00" y="222.00" width="5.00" height="5.00" fill="#555bb5"/><rect x="521.00" y="222.00" width="5.00" height="5.00" fill="#565cb6"/><rect x="526.00" y="222.00" width="5.00" height="5.00" fill="#565cb6"/><rect x="531.00" y="222.00" width="5.00" height="5.00" fill="#565cb6"/><rect x="536.00" y="222.00" width="5.00" height="5.00" fill="#565cb6"/><rect x="541.00" y="222.00" width="5.00" height="5.00" fill="#565cb6"/><rect x="546.00" y="222.00" width="5.00" height="5.00" fill="#565cb6"/><rect x="551.00" y="222.00" width="5.00" height="5.00" fill="#565db7"/><rect x="556.00" y="222.00" width="5.00" height="5.00" fill="#565db7"/><rect x="561.00" y="222.00" width="5.00" height="5.00" fill="#565db7"/><rect x="566.00" y="222.00" width="5.00" height="5.00" fill="#565db7"/><rect x="571.00" y="222.00" width="5.00" height="5.00" fill="#565db7"/><rect x="576.00" y="222.00" width="5.00" height="5.00" fill="#565db7"/><rect x="581.00" y="222.00" width="5.00" height="5.00" fill="#565db7"/></g><path d="M366.60,7.0V227.0M371.60,7.0V227.0M376.60,7.0V227.0M381.60,7.0V227.0M386.60,7.0V227.0M391.60,7.0V227.0M396.60,7.0V227.0M401.60,7.0V227.0M406.60,7.0V227.0M411.60,7.0V227.0M416.60,7.0V227.0M421.60,7.0V227.0M426.60,7.0V227.0M431.60,7.0V227.0M436.60,7.0V227.0M441.60,7.0V227.0M446.60,7.0V227.0M451.60,7.0V227.0M456.60,7.0V227.0M461.60,7.0V227.0M466.60,7.0V227.0M471.60,7.0V227.0M476.60,7.0V227.0M481.60,7.0V227.0M486.60,7.0V227.0M491.60,7.0V227.0M496.60,7.0V227.0M501.60,7.0V227.0M506.60,7.0V227.0M511.60,7.0V227.0M516.60,7.0V227.0M521.60,7.0V227.0M526.60,7.0V227.0M531.60,7.0V227.0M536.60,7.0V227.0M541.60,7.0V227.0M546.60,7.0V227.0M551.60,7.0V227.0M556.60,7.0V227.0M561.60,7.0V227.0M566.60,7.0V227.0M571.60,7.0V227.0M576.60,7.0V227.0M581.60,7.0V227.0M366.0,7.60H586.0M366.0,12.60H586.0M366.0,17.60H586.0M366.0,22.60H586.0M366.0,27.60H586.0M366.0,32.60H586.0M366.0,37.60H586.0M366.0,42.60H586.0M366.0,47.60H586.0M366.0,52.60H586.0M366.0,57.60H586.0M366.0,62.60H586.0M366.0,67.60H586.0M366.0,72.60H586.0M366.0,77.60H586.0M366.0,82.60H586.0M366.0,87.60H586.0M366.0,92.60H586.0M366.0,97.60H586.0M366.0,102.60H586.0M366.0,107.60H586.0M366.0,112.60H586.0M366.0,117.60H586.0M366.0,122.60H586.0M366.0,127.60H586.0M366.0,132.60H586.0M366.0,137.60H586.0M366.0,142.60H586.0M366.0,147.60H586.0M366.0,152.60H586.0M366.0,157.60H586.0M366.0,162.60H586.0M366.0,167.60H586.0M366.0,172.60H586.0M366.0,177.60H586.0M366.0,182.60H586.0M366.0,187.60H586.0M366.0,192.60H586.0M366.0,197.60H586.0M366.0,202.60H586.0M366.0,207.60H586.0M366.0,212.60H586.0M366.0,217.60H586.0M366.0,222.60H586.0" stroke="#15104a" stroke-opacity="0.45" stroke-width="1.1" fill="none"/><circle cx="366.5" cy="42.3" r="1.3" fill="#fff"/><circle cx="371.4" cy="53" r="1.3" fill="#fff"/><circle cx="376.4" cy="62.5" r="1.3" fill="#fff"/><circle cx="381.3" cy="71.4" r="1.3" fill="#fff"/><circle cx="386.6" cy="79.5" r="1.3" fill="#fff"/><circle cx="391.6" cy="87" r="1.3" fill="#fff"/><circle cx="396.5" cy="94.3" r="1.3" fill="#fff"/><circle cx="401.5" cy="100.5" r="1.3" fill="#fff"/><circle cx="406.5" cy="106.3" r="1.3" fill="#fff"/><circle cx="411.2" cy="111.2" r="1.3" fill="#fff"/><circle cx="416.3" cy="116.3" r="1.3" fill="#fff"/><circle cx="421.4" cy="121.3" r="1.3" fill="#fff"/><circle cx="426.5" cy="124.7" r="1.3" fill="#fff"/><circle cx="431.5" cy="128.9" r="1.3" fill="#fff"/><circle cx="436.3" cy="132.1" r="1.3" fill="#fff"/><circle cx="441.4" cy="135" r="1.3" fill="#fff"/><circle cx="446.4" cy="138.5" r="1.3" fill="#fff"/><circle cx="451.4" cy="140.8" r="1.3" fill="#fff"/><circle cx="456.3" cy="143" r="1.3" fill="#fff"/><circle cx="461.3" cy="145.8" r="1.3" fill="#fff"/><circle cx="466.5" cy="148.1" r="1.3" fill="#fff"/><circle cx="471.7" cy="149.5" r="1.3" fill="#fff"/><circle cx="476.4" cy="152.1" r="1.3" fill="#fff"/><circle cx="481.4" cy="153.9" r="1.3" fill="#fff"/><circle cx="486.5" cy="155.5" r="1.3" fill="#fff"/><circle cx="491.8" cy="157.1" r="1.3" fill="#fff"/><circle cx="496.8" cy="158.9" r="1.3" fill="#fff"/><circle cx="501.8" cy="160.3" r="1.3" fill="#fff"/><circle cx="506.9" cy="161.9" r="1.3" fill="#fff"/><circle cx="511.9" cy="163.5" r="1.3" fill="#fff"/><circle cx="516.9" cy="164.9" r="1.3" fill="#fff"/><circle cx="522" cy="166.5" r="1.3" fill="#fff"/><circle cx="526.9" cy="167.7" r="1.3" fill="#fff"/><circle cx="531.1" cy="169.1" r="1.3" fill="#fff"/><circle cx="536.2" cy="170.5" r="1.3" fill="#fff"/><circle cx="541.2" cy="172.1" r="1.3" fill="#fff"/><circle cx="546.2" cy="173.7" r="1.3" fill="#fff"/><circle cx="551.3" cy="175" r="1.3" fill="#fff"/><circle cx="556.3" cy="176.2" r="1.3" fill="#fff"/><circle cx="561.3" cy="177.3" r="1.3" fill="#fff"/><circle cx="566.4" cy="178.9" r="1.3" fill="#fff"/><circle cx="571.4" cy="180.1" r="1.3" fill="#fff"/><circle cx="576.5" cy="181.2" r="1.3" fill="#fff"/><circle cx="581.5" cy="181.9" r="1.3" fill="#fff"/><circle cx="586" cy="182.8" r="1.3" fill="#fff"/><text x="558.9" y="30.4" font-size="20" fill="#fff">(b)</text><text x="397" y="185.1" class="sans" font-size="14" fill="#fff">threshold</text><line x1="444.6" y1="168.2" x2="452.9" y2="152.2" stroke="#fff" stroke-width="1.3"/><path d="M455.0,148.0 L449.6,152.4 L452.6,152.9 L455.6,155.3 Z" fill="#fff"/><text x="361.9" y="11.85" class="tk" text-anchor="end">0.02</text><text x="361.9" y="66.85" class="tk" text-anchor="end">0.015</text><text x="361.9" y="121.85" class="tk" text-anchor="end">0.01</text><text x="361.9" y="176.85" class="tk" text-anchor="end">0.005</text><text x="361.9" y="231.85" class="tk" text-anchor="end">0</text><text x="391.60" y="244.9" class="tk" text-anchor="middle">10</text><text x="441.60" y="244.9" class="tk" text-anchor="middle">20</text><text x="491.60" y="244.9" class="tk" text-anchor="middle">30</text><text x="541.60" y="244.9" class="tk" text-anchor="middle">40</text><text transform="translate(476.8,260.4) scale(1.25,1)" font-size="16.3" font-style="italic" text-anchor="middle">S</text><text transform="translate(323.4,125.8) rotate(-90)" font-size="15.5" font-style="italic" letter-spacing="1">δu</text><defs><linearGradient id="cb" x1="0" y1="0" x2="0" y2="1"><stop offset="0.000" stop-color="#f2ee5a"/><stop offset="0.020" stop-color="#f1e850"/><stop offset="0.040" stop-color="#f0e246"/><stop offset="0.060" stop-color="#efda43"/><stop offset="0.080" stop-color="#eed33f"/><stop offset="0.100" stop-color="#eecb3f"/><stop offset="0.120" stop-color="#edc440"/><stop offset="0.140" stop-color="#ecbc42"/><stop offset="0.160" stop-color="#eab845"/><stop offset="0.180" stop-color="#e8b448"/><stop offset="0.200" stop-color="#e2b74b"/><stop offset="0.220" stop-color="#ddbb4d"/><stop offset="0.240" stop-color="#d7be50"/><stop offset="0.260" stop-color="#cfc155"/><stop offset="0.280" stop-color="#c6c55a"/><stop offset="0.300" stop-color="#bec85f"/><stop offset="0.320" stop-color="#b6c866"/><stop offset="0.340" stop-color="#aec86d"/><stop offset="0.360" stop-color="#a6c874"/><stop offset="0.380" stop-color="#9ec87b"/><stop offset="0.400" stop-color="#96c882"/><stop offset="0.420" stop-color="#8fc78e"/><stop offset="0.440" stop-color="#87c69b"/><stop offset="0.460" stop-color="#80c4a8"/><stop offset="0.480" stop-color="#78c3b4"/><stop offset="0.500" stop-color="#75bdc0"/><stop offset="0.520" stop-color="#73b6ca"/><stop offset="0.540" stop-color="#71b0cf"/><stop offset="0.560" stop-color="#70aad4"/><stop offset="0.580" stop-color="#6fa3d9"/><stop offset="0.600" stop-color="#6e9dde"/><stop offset="0.620" stop-color="#6b98dc"/><stop offset="0.640" stop-color="#6992da"/><stop offset="0.660" stop-color="#668dd8"/><stop offset="0.680" stop-color="#6487d6"/><stop offset="0.700" stop-color="#6182d4"/><stop offset="0.720" stop-color="#607dd1"/><stop offset="0.740" stop-color="#5e78ce"/><stop offset="0.760" stop-color="#5d74ca"/><stop offset="0.780" stop-color="#5b6fc7"/><stop offset="0.800" stop-color="#5a6ac4"/><stop offset="0.820" stop-color="#5967c1"/><stop offset="0.840" stop-color="#5864be"/><stop offset="0.860" stop-color="#5760ba"/><stop offset="0.880" stop-color="#565db7"/><stop offset="0.900" stop-color="#555ab4"/><stop offset="0.920" stop-color="#5356b1"/><stop offset="0.940" stop-color="#5152ae"/><stop offset="0.960" stop-color="#4f4eab"/><stop offset="0.980" stop-color="#4d4aa8"/><stop offset="1.000" stop-color="#4b46a5"/></linearGradient></defs><rect x="590.5" y="7.0" width="9.5" height="220.0" fill="url(#cb)" stroke="#c8c8c8" stroke-width="0.8"/><line x1="600.0" y1="183.00" x2="598.2" y2="183.00" stroke="#8a8a8a" stroke-width="0.8"/><line x1="600.0" y1="139.00" x2="598.2" y2="139.00" stroke="#8a8a8a" stroke-width="0.8"/><line x1="600.0" y1="95.00" x2="598.2" y2="95.00" stroke="#8a8a8a" stroke-width="0.8"/><line x1="600.0" y1="51.00" x2="598.2" y2="51.00" stroke="#8a8a8a" stroke-width="0.8"/><text x="603.3" y="231.85" class="tk">0</text><text x="603.3" y="187.85" class="tk">50</text><text x="603.3" y="143.85" class="tk">100</text><text x="603.3" y="99.85" class="tk">150</text><text x="603.3" y="55.85" class="tk">200</text><text x="603.3" y="11.85" class="tk">250</text><g transform="translate(643.4,143) rotate(-90)"><text x="0.3" y="0" font-size="16" font-style="italic">γ</text><text x="8.6" y="2.7" font-size="11.3" letter-spacing="0.25">max</text><line x1="30.9" y1="3.1" x2="36.2" y2="-12.3" stroke="#000" stroke-width="0.9"/><text x="37.2" y="0" font-size="16" font-style="italic">a</text><text x="45.6" y="1.6" font-size="11.3">0</text></g></svg></body></html>
